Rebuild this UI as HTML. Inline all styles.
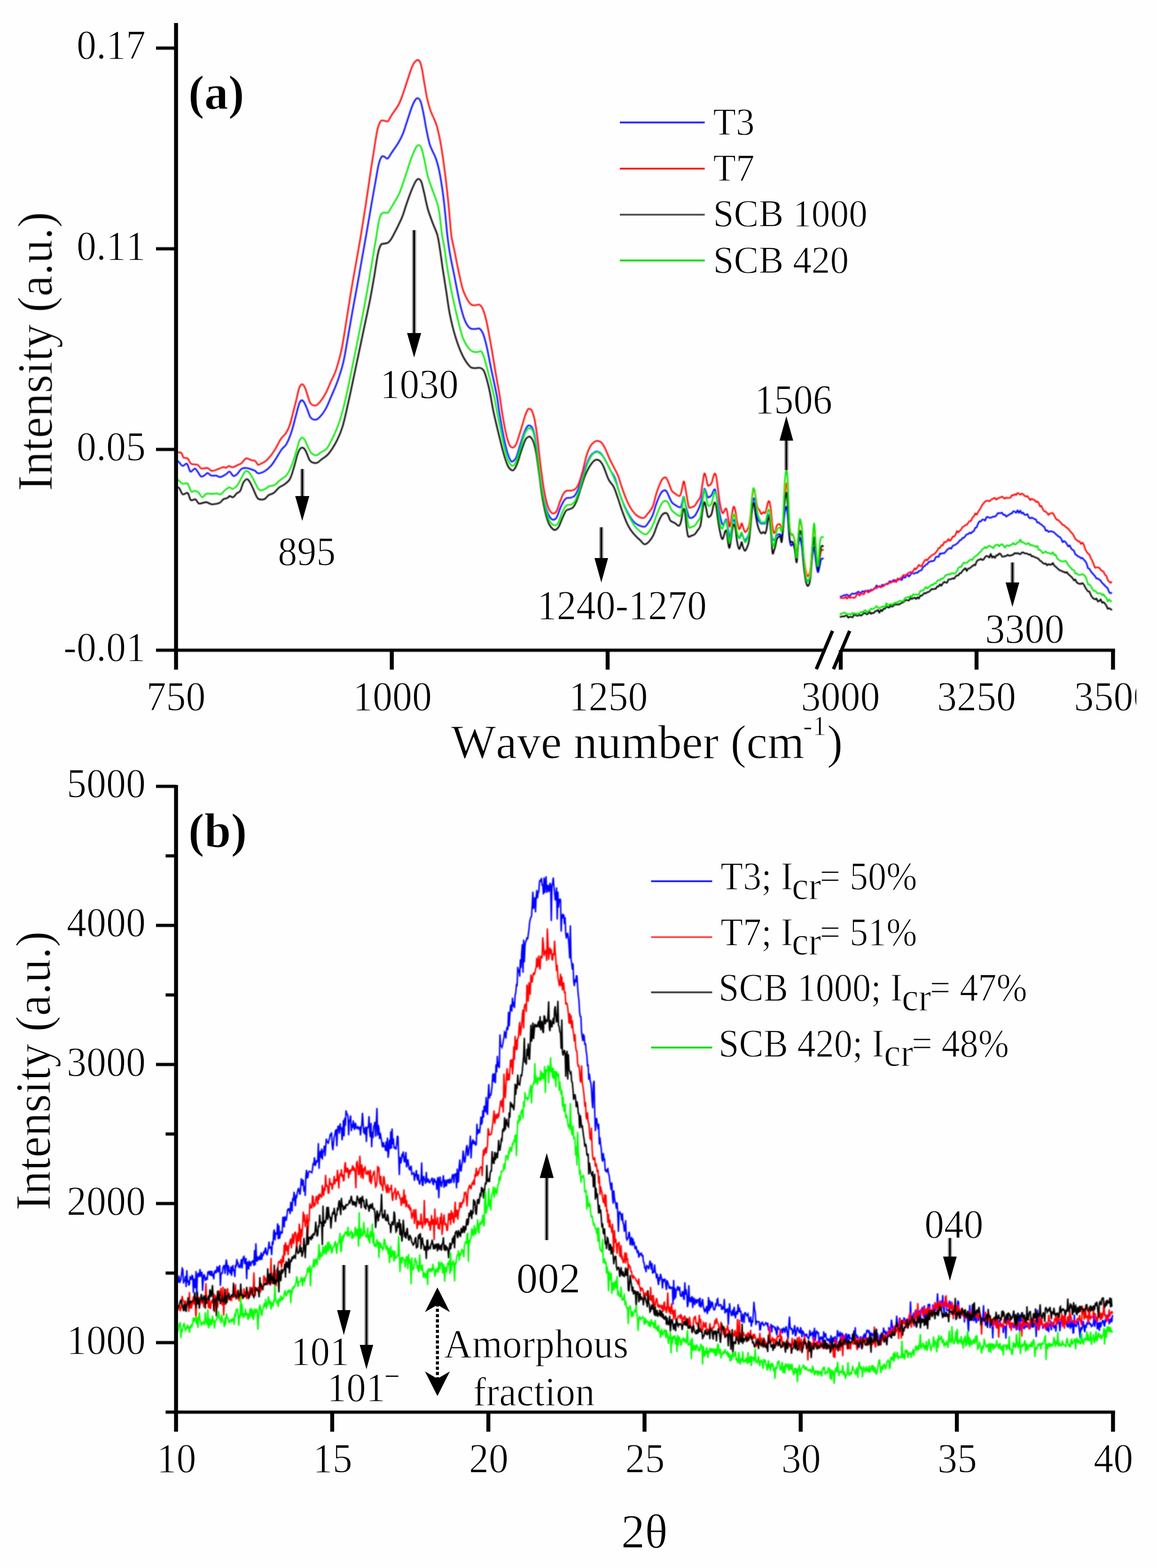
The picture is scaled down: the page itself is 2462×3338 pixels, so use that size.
<!DOCTYPE html>
<html lang="en"><head><meta charset="utf-8"><title>FTIR and XRD of sugarcane bagasse samples</title>
<style>html,body{margin:0;padding:0;background:#fefefe}body{width:2462px;height:3338px;overflow:hidden}svg{display:block}</style>
</head><body>
<svg width="2462" height="3338" viewBox="0 0 2462 3338" role="img" aria-label="FTIR spectra (a) and XRD patterns (b) of T3, T7, SCB 1000 and SCB 420">
<rect width="2462" height="3338" fill="#fefefe"/>
<g fill="none" stroke-width="3.3" stroke-linejoin="round" stroke-linecap="butt" filter="url(#bl)">
<path d="M374.5,978.2C375.6,979.3 378.8,982.0 381.2,984.3C383.6,986.6 386.0,991.4 388.8,991.9C391.5,992.4 395.1,985.3 397.8,987.3C400.6,989.3 402.6,1002.3 405.4,1004.0C408.2,1005.6 412.0,997.3 414.5,997.3C417.0,997.3 418.3,1001.1 420.5,1004.0C422.8,1006.8 425.6,1013.3 428.1,1014.6C430.6,1015.8 433.4,1012.8 435.7,1011.5C437.9,1010.3 439.4,1006.8 441.7,1007.0C444.0,1007.1 446.3,1011.5 449.3,1012.4C452.3,1013.4 456.6,1011.9 459.9,1012.4C463.2,1012.9 465.4,1016.0 469.0,1015.5C472.5,1015.0 477.8,1011.3 481.1,1009.4C484.3,1007.5 486.1,1003.4 488.6,1004.0C491.2,1004.6 493.7,1012.0 496.2,1013.1C498.7,1014.1 500.7,1012.5 503.8,1010.0C506.8,1007.5 510.8,1000.2 514.4,997.9C517.9,995.6 521.4,996.2 525.0,996.4C528.5,996.7 532.5,998.4 535.5,999.4C538.6,1000.4 540.8,1001.1 543.1,1002.5C545.4,1003.8 545.9,1007.5 549.2,1007.6C552.4,1007.8 558.2,1006.0 562.8,1003.4C567.3,1000.7 572.4,996.3 576.4,991.9C580.4,987.4 583.2,982.5 587.0,976.7C590.8,970.9 595.3,962.4 599.1,957.1C602.9,951.8 606.2,951.3 609.7,945.0C613.2,938.6 617.0,929.1 620.3,919.2C623.6,909.4 626.6,896.0 629.4,885.9C632.1,875.8 634.8,864.3 636.9,858.7C639.1,853.0 640.3,852.3 642.1,852.0C643.8,851.8 645.6,854.1 647.5,857.2C649.4,860.3 651.3,865.5 653.6,870.8C655.9,876.1 658.1,885.2 661.2,889.0C664.2,892.7 668.5,893.8 671.7,893.5C675.0,893.2 677.3,891.2 680.8,887.4C684.4,883.7 688.9,878.1 692.9,870.8C697.0,863.5 700.8,853.4 705.0,843.6C709.2,833.7 714.0,823.6 718.2,811.7C722.4,799.9 726.7,787.0 730.3,772.4C733.8,757.8 736.1,742.1 739.3,724.0C742.6,705.8 746.4,683.1 749.9,663.4C753.5,643.8 757.3,624.1 760.5,605.9C763.8,587.8 766.5,572.1 769.6,554.5C772.7,536.8 775.8,520.3 779.3,500.0C782.8,479.7 787.4,452.7 790.8,432.9C794.2,413.2 797.4,395.3 799.9,381.5C802.4,367.6 803.9,357.7 805.9,349.7C807.9,341.7 810.0,336.3 812.0,333.7C814.0,331.0 815.9,333.0 818.0,333.7C820.2,334.3 822.2,339.0 824.7,337.6C827.2,336.2 829.2,331.3 833.2,325.5C837.1,319.7 844.3,309.6 848.3,302.8C852.3,296.0 854.4,292.2 857.4,284.6C860.4,277.1 863.4,266.5 866.5,257.4C869.5,248.3 872.8,237.5 875.5,230.1C878.3,222.8 880.8,217.0 883.1,213.5C885.4,210.0 887.1,208.5 889.2,209.0C891.2,209.5 893.2,211.0 895.2,216.5C897.2,222.1 899.3,232.4 901.3,242.3C903.3,252.1 905.1,264.4 907.3,275.5C909.6,286.6 911.6,298.7 914.9,308.8C918.2,318.9 923.7,327.0 927.0,336.1C930.3,345.2 932.0,351.2 934.6,363.3C937.1,375.4 940.1,394.6 942.1,408.7C944.1,422.8 945.1,432.8 946.7,448.1C948.3,463.3 950.1,484.9 951.8,500.1C953.6,515.3 954.8,525.2 957.3,539.3C959.7,553.5 962.8,567.1 966.3,584.7C969.9,602.4 974.7,629.1 978.5,645.3C982.2,661.4 985.5,672.8 989.0,681.6C992.6,690.4 995.9,695.1 999.6,698.2C1003.4,701.4 1008.2,700.1 1011.7,700.4C1015.3,700.6 1018.0,697.8 1020.8,699.8C1023.6,701.7 1025.9,705.3 1028.4,711.9C1030.9,718.4 1033.2,727.0 1036.0,739.1C1038.7,751.2 1041.5,767.4 1045.0,784.5C1048.6,801.7 1054.3,826.8 1057.1,842.0C1060.0,857.2 1059.7,861.5 1062.0,875.7C1064.4,889.9 1068.4,913.0 1071.1,927.1C1073.9,941.2 1076.2,951.6 1078.7,960.4C1081.2,969.2 1084.2,976.5 1086.3,980.1C1088.3,983.7 1088.8,983.2 1090.8,982.2C1092.8,981.2 1095.6,980.2 1098.4,974.0C1101.1,967.9 1104.4,954.6 1107.4,945.3C1110.5,935.9 1114.0,924.3 1116.5,918.0C1119.0,911.7 1120.8,909.5 1122.6,907.4C1124.3,905.4 1125.4,905.2 1127.1,905.9C1128.9,906.7 1131.2,907.4 1133.2,912.0C1135.2,916.5 1137.2,922.6 1139.2,933.2C1141.2,943.8 1143.3,960.4 1145.3,975.5C1147.3,990.7 1149.3,1009.8 1151.3,1024.0C1153.3,1038.1 1155.1,1049.2 1157.4,1060.3C1159.7,1071.4 1162.4,1083.2 1165.0,1090.6C1167.5,1097.9 1170.2,1101.6 1172.5,1104.2C1174.8,1106.8 1176.6,1106.8 1178.6,1106.3C1180.6,1105.8 1182.4,1105.3 1184.6,1101.2C1186.9,1097.0 1189.7,1087.3 1192.2,1081.5C1194.7,1075.7 1197.5,1069.9 1199.8,1066.3C1202.0,1062.8 1203.5,1061.4 1205.8,1060.3C1208.1,1059.2 1210.6,1060.4 1213.4,1059.7C1216.2,1058.9 1219.7,1058.7 1222.5,1055.8C1225.2,1052.8 1227.2,1048.9 1230.0,1042.1C1232.8,1035.3 1236.1,1024.0 1239.1,1014.9C1242.1,1005.8 1245.2,995.2 1248.2,987.7C1251.2,980.1 1254.2,973.8 1257.3,969.5C1260.3,965.2 1264.1,963.3 1266.3,961.9C1268.6,960.5 1268.9,960.5 1270.9,961.0C1272.9,961.5 1275.7,962.0 1278.5,965.0C1281.2,967.9 1284.3,972.8 1287.5,978.6C1290.8,984.4 1294.6,993.2 1298.1,999.8C1301.7,1006.3 1305.4,1009.8 1308.7,1017.9C1312.0,1026.0 1314.8,1039.1 1317.8,1048.2C1320.8,1057.3 1323.3,1064.3 1326.9,1072.4C1330.4,1080.5 1334.9,1089.8 1339.0,1096.6C1343.0,1103.4 1346.0,1109.1 1351.1,1113.3C1356.1,1117.4 1364.7,1121.2 1369.2,1121.4C1373.8,1121.7 1375.1,1118.9 1378.3,1114.8C1381.6,1110.6 1385.9,1103.7 1388.9,1096.6C1391.9,1089.5 1393.7,1080.0 1396.5,1072.4C1399.3,1064.8 1403.0,1055.9 1405.6,1051.2C1408.1,1046.6 1409.6,1045.6 1411.6,1044.6C1413.6,1043.5 1415.7,1043.0 1417.7,1045.2C1419.7,1047.3 1421.7,1053.2 1423.7,1057.3C1425.7,1061.3 1427.5,1066.3 1429.8,1069.4C1432.1,1072.4 1434.3,1073.7 1437.3,1075.4C1440.4,1077.2 1445.6,1081.0 1447.9,1080.0C1450.3,1079.0 1450.4,1073.2 1451.6,1069.4C1452.7,1065.6 1453.7,1056.8 1454.9,1057.3C1456.1,1057.8 1457.2,1066.8 1458.5,1072.4C1459.9,1077.9 1461.8,1085.8 1463.1,1090.6C1464.3,1095.3 1464.8,1099.1 1466.1,1101.2C1467.4,1103.2 1468.9,1103.0 1470.9,1102.6C1472.9,1102.1 1475.8,1100.9 1478.1,1098.5C1480.3,1096.1 1482.2,1092.3 1484.2,1088.2C1486.3,1084.1 1488.7,1079.3 1490.4,1073.8C1492.1,1068.3 1493.3,1060.4 1494.5,1055.3C1495.7,1050.1 1496.8,1045.3 1497.6,1042.9C1498.5,1040.5 1498.9,1040.2 1499.7,1040.8C1500.5,1041.5 1501.3,1044.1 1502.4,1047.0C1503.4,1049.9 1504.8,1056.5 1505.9,1058.3C1507.0,1060.2 1507.6,1059.0 1508.9,1058.3C1510.3,1057.7 1512.5,1056.5 1514.1,1054.2C1515.6,1052.0 1517.0,1047.0 1518.2,1045.0C1519.4,1042.9 1520.3,1040.8 1521.3,1041.9C1522.3,1042.9 1523.4,1046.9 1524.4,1051.1C1525.4,1055.4 1526.3,1060.4 1527.5,1067.6C1528.7,1074.8 1530.2,1086.8 1531.6,1094.4C1533.0,1101.9 1534.5,1109.1 1535.7,1112.9C1536.9,1116.7 1537.6,1117.7 1538.8,1117.0C1540.0,1116.3 1541.7,1110.5 1542.9,1108.8C1544.1,1107.1 1545.0,1104.0 1546.0,1106.7C1547.0,1109.5 1548.1,1118.7 1549.1,1125.2C1550.1,1131.7 1551.1,1144.8 1552.2,1145.8C1553.2,1146.8 1554.1,1137.2 1555.3,1131.4C1556.5,1125.6 1558.2,1114.9 1559.4,1110.8C1560.5,1106.7 1561.1,1106.0 1562.0,1106.7C1563.0,1107.4 1563.8,1110.1 1564.9,1114.9C1566.0,1119.7 1567.3,1130.4 1568.6,1135.5C1569.9,1140.7 1571.5,1144.8 1572.7,1145.8C1573.9,1146.8 1574.9,1143.4 1575.8,1141.7C1576.8,1140.0 1577.4,1135.5 1578.3,1135.5C1579.2,1135.5 1579.8,1139.3 1581.0,1141.7C1582.1,1144.1 1583.7,1149.2 1585.1,1149.9C1586.5,1150.6 1587.8,1148.2 1589.2,1145.8C1590.6,1143.4 1592.1,1141.0 1593.3,1135.5C1594.5,1130.0 1595.4,1121.5 1596.4,1112.9C1597.4,1104.3 1598.5,1092.3 1599.5,1084.1C1600.5,1075.8 1601.6,1067.3 1602.6,1063.5C1603.6,1059.7 1604.4,1059.7 1605.3,1061.4C1606.1,1063.1 1606.6,1066.9 1607.7,1073.8C1608.8,1080.6 1610.5,1096.4 1611.9,1102.6C1613.2,1108.8 1614.6,1108.8 1616.0,1110.8C1617.3,1112.9 1618.7,1114.4 1620.1,1114.9C1621.5,1115.5 1622.8,1113.9 1624.2,1113.9C1625.6,1113.9 1627.1,1116.1 1628.3,1114.9C1629.5,1113.7 1630.4,1109.8 1631.4,1106.7C1632.4,1103.6 1633.5,1097.4 1634.5,1096.4C1635.5,1095.4 1636.6,1095.7 1637.6,1100.5C1638.6,1105.3 1639.6,1117.7 1640.7,1125.2C1641.7,1132.8 1642.7,1141.7 1643.8,1145.8C1644.8,1149.9 1645.8,1149.9 1646.8,1149.9C1647.9,1149.9 1648.9,1147.5 1649.9,1145.8C1651.0,1144.1 1652.0,1141.0 1653.0,1139.6C1654.0,1138.3 1654.9,1137.9 1656.1,1137.6C1657.3,1137.2 1659.0,1136.6 1660.2,1137.6C1661.4,1138.6 1662.3,1145.8 1663.3,1143.8C1664.3,1141.7 1665.4,1133.5 1666.4,1125.2C1667.4,1117.0 1668.5,1101.9 1669.5,1094.4C1670.5,1086.8 1671.7,1082.0 1672.6,1080.0C1673.4,1077.9 1673.9,1077.9 1674.6,1082.0C1675.3,1086.1 1675.8,1094.0 1676.7,1104.6C1677.5,1115.3 1678.7,1136.4 1679.8,1145.8C1680.8,1155.2 1681.7,1159.2 1682.9,1161.2C1684.1,1163.3 1685.6,1157.3 1687.0,1158.2C1688.3,1159.0 1689.7,1160.6 1691.1,1166.4C1692.5,1172.2 1694.0,1193.8 1695.2,1193.1C1696.4,1192.5 1697.3,1170.2 1698.3,1162.3C1699.3,1154.4 1700.5,1148.2 1701.4,1145.8C1702.2,1143.4 1702.6,1144.4 1703.4,1147.9C1704.3,1151.3 1705.5,1158.2 1706.5,1166.4C1707.6,1174.6 1708.4,1187.7 1709.6,1197.3C1710.8,1206.9 1712.5,1217.8 1713.7,1224.0C1714.9,1230.2 1715.8,1232.3 1716.8,1234.3C1717.8,1236.4 1718.7,1238.1 1719.9,1236.4C1721.1,1234.7 1722.6,1232.3 1724.0,1224.0C1725.4,1215.8 1726.9,1196.6 1728.1,1187.0C1729.3,1177.4 1730.4,1169.1 1731.2,1166.4C1732.1,1163.6 1732.4,1165.4 1733.3,1170.5C1734.1,1175.7 1735.3,1189.7 1736.4,1197.3C1737.4,1204.8 1738.6,1212.5 1739.5,1215.8C1740.3,1219.0 1740.7,1218.9 1741.5,1216.8C1742.4,1214.8 1743.6,1207.9 1744.6,1203.4C1745.6,1199.0 1746.3,1192.4 1747.7,1190.1C1749.1,1187.7 1752.0,1189.5 1752.8,1189.4" stroke="#0000ff"/>
<path d="M374.5,963.1C376.4,963.3 383.1,962.3 385.7,964.0C388.3,965.8 388.0,971.7 390.3,973.7C392.5,975.7 396.6,973.9 399.3,976.1C402.1,978.4 403.4,985.1 406.9,987.3C410.4,989.5 417.0,987.8 420.5,989.4C424.1,991.1 424.6,996.2 428.1,997.3C431.6,998.5 437.9,995.5 441.7,996.4C445.5,997.3 446.8,1002.2 450.8,1002.5C454.8,1002.7 461.9,999.3 465.9,997.9C470.0,996.6 472.5,994.6 475.0,994.3C477.5,993.9 479.0,996.2 481.1,995.8C483.1,995.4 484.8,992.0 487.1,991.9C489.4,991.7 491.2,995.4 494.7,994.9C498.2,994.4 505.0,990.4 508.3,988.8C511.6,987.3 512.1,987.8 514.4,985.8C516.6,983.8 519.9,978.3 521.9,976.7C523.9,975.1 524.2,975.6 526.5,976.1C528.7,976.6 532.8,978.9 535.5,979.8C538.3,980.6 540.8,979.7 543.1,981.3C545.4,982.9 546.9,988.6 549.2,989.4C551.4,990.3 554.0,987.8 556.7,986.4C559.5,985.1 562.3,984.4 565.8,981.3C569.3,978.1 574.4,972.2 577.9,967.7C581.4,963.1 583.7,959.6 587.0,954.0C590.3,948.5 594.1,939.7 597.6,934.4C601.1,929.1 605.2,926.8 608.2,922.3C611.2,917.7 613.2,914.2 615.8,907.1C618.3,900.1 620.8,889.5 623.3,879.9C625.8,870.3 628.6,858.7 630.9,849.6C633.2,840.5 634.9,830.7 636.9,825.4C639.0,820.1 641.0,817.8 643.0,817.8C645.0,817.8 647.0,821.1 649.0,825.4C651.1,829.7 653.1,837.9 655.1,843.6C657.1,849.2 658.4,856.0 661.2,859.3C663.9,862.6 668.5,863.8 671.7,863.2C675.0,862.6 677.3,860.0 680.8,855.7C684.4,851.4 688.9,845.1 692.9,837.5C697.0,829.9 701.3,818.6 705.0,810.3C708.7,801.9 711.4,798.9 715.1,787.5C718.8,776.2 723.7,758.8 727.2,742.1C730.8,725.5 733.0,707.8 736.3,687.7C739.6,667.5 743.4,642.3 746.9,621.1C750.4,599.9 754.0,580.7 757.5,560.5C761.0,540.4 764.6,521.3 768.1,500.0C771.6,478.7 774.9,457.7 778.7,432.9C782.5,408.1 787.3,374.4 790.8,351.2C794.3,328.0 797.6,307.1 799.9,293.7C802.1,280.3 802.7,277.1 804.4,271.0C806.2,265.0 807.9,259.7 810.5,257.4C813.0,255.1 817.0,257.3 819.6,257.4C822.1,257.5 823.3,260.0 825.6,258.0C827.9,256.0 829.4,251.2 833.2,245.3C837.0,239.4 844.3,230.1 848.3,222.6C852.3,215.0 854.4,208.2 857.4,199.9C860.4,191.6 863.4,181.7 866.5,172.6C869.5,163.6 873.0,152.0 875.5,145.4C878.1,138.8 879.5,136.2 881.6,133.3C883.7,130.4 886.2,128.1 888.3,127.8C890.3,127.6 892.0,128.3 893.7,131.8C895.4,135.2 896.7,141.1 898.2,148.4C899.8,155.7 901.0,165.6 902.8,175.7C904.6,185.8 906.6,198.9 908.8,209.0C911.1,219.0 913.1,226.9 916.4,236.2C919.7,245.5 925.2,254.9 928.5,265.0C931.8,275.0 933.8,285.4 936.1,296.7C938.3,308.1 940.1,319.4 942.1,333.1C944.1,346.7 946.2,361.8 948.2,378.5C950.2,395.1 952.2,412.7 954.2,432.9C956.3,453.2 958.3,483.9 960.3,500.1C962.3,516.3 963.8,517.7 966.3,530.3C968.9,542.9 972.4,561.5 975.4,575.7C978.5,589.8 981.5,604.9 984.5,615.0C987.5,625.1 990.6,630.6 993.6,636.2C996.6,641.7 999.6,646.0 1002.7,648.3C1005.7,650.6 1008.7,649.7 1011.7,649.8C1014.8,649.9 1018.0,647.1 1020.8,648.9C1023.6,650.7 1025.9,654.0 1028.4,660.4C1030.9,666.9 1033.2,675.0 1036.0,687.7C1038.7,700.3 1042.0,718.9 1045.0,736.1C1048.1,753.2 1051.1,772.9 1054.1,790.6C1057.1,808.2 1060.9,827.8 1063.2,842.0C1065.5,856.2 1066.0,863.0 1068.1,875.7C1070.2,888.3 1073.1,906.4 1075.7,918.0C1078.2,929.6 1080.7,939.5 1083.2,945.3C1085.8,951.1 1088.3,952.8 1090.8,952.8C1093.3,952.8 1095.6,951.1 1098.4,945.3C1101.1,939.5 1104.4,927.6 1107.4,918.0C1110.5,908.5 1114.0,895.3 1116.5,887.8C1119.0,880.2 1120.9,875.6 1122.6,872.6C1124.2,869.7 1125.0,870.0 1126.5,870.2C1128.0,870.5 1129.8,870.2 1131.7,874.2C1133.5,878.1 1135.7,884.0 1137.7,893.8C1139.7,903.7 1141.7,917.5 1143.8,933.2C1145.8,948.8 1147.5,969.5 1149.8,987.7C1152.1,1005.8 1154.9,1027.5 1157.4,1042.1C1159.9,1056.8 1162.4,1067.4 1165.0,1075.4C1167.5,1083.5 1170.2,1087.6 1172.5,1090.6C1174.8,1093.5 1176.6,1093.5 1178.6,1093.0C1180.6,1092.5 1182.4,1092.0 1184.6,1087.5C1186.9,1083.1 1189.7,1072.6 1192.2,1066.3C1194.7,1060.0 1197.5,1053.3 1199.8,1049.7C1202.0,1046.1 1203.5,1045.4 1205.8,1044.6C1208.1,1043.7 1210.6,1045.0 1213.4,1044.6C1216.2,1044.1 1219.7,1044.0 1222.5,1042.1C1225.2,1040.2 1227.2,1039.1 1230.0,1033.1C1232.8,1027.0 1236.1,1016.4 1239.1,1005.8C1242.1,995.2 1245.2,979.1 1248.2,969.5C1251.2,959.9 1254.2,953.2 1257.3,948.3C1260.3,943.4 1263.8,941.4 1266.3,939.8C1268.9,938.2 1270.1,938.2 1272.4,938.6C1274.7,939.0 1277.4,939.6 1280.0,942.3C1282.5,944.9 1284.8,948.8 1287.5,954.4C1290.3,959.9 1293.6,969.0 1296.6,975.5C1299.6,982.1 1302.7,987.7 1305.7,993.7C1308.7,999.8 1311.7,1004.3 1314.8,1011.9C1317.8,1019.4 1320.8,1030.5 1323.8,1039.1C1326.9,1047.7 1329.9,1056.3 1332.9,1063.3C1336.0,1070.4 1338.5,1075.9 1342.0,1081.5C1345.5,1087.0 1349.6,1093.1 1354.1,1096.6C1358.7,1100.1 1365.2,1103.2 1369.2,1102.7C1373.3,1102.2 1375.1,1097.6 1378.3,1093.6C1381.6,1089.5 1385.9,1085.5 1388.9,1078.5C1391.9,1071.4 1393.7,1059.8 1396.5,1051.2C1399.3,1042.6 1403.0,1032.5 1405.6,1027.0C1408.1,1021.4 1409.6,1019.5 1411.6,1017.9C1413.6,1016.3 1415.7,1015.3 1417.7,1017.3C1419.7,1019.3 1421.7,1025.4 1423.7,1030.0C1425.7,1034.7 1427.5,1041.6 1429.8,1045.2C1432.1,1048.7 1434.6,1049.4 1437.3,1051.2C1440.1,1053.0 1444.2,1057.3 1446.4,1055.8C1448.7,1054.2 1449.6,1047.3 1451.0,1042.1C1452.4,1036.9 1453.6,1025.1 1454.9,1024.6C1456.2,1024.1 1457.2,1032.1 1458.5,1039.1C1459.9,1046.1 1461.8,1059.5 1463.1,1066.3C1464.3,1073.2 1464.8,1077.7 1466.1,1080.0C1467.4,1082.2 1468.9,1080.5 1470.9,1080.0C1472.9,1079.4 1475.8,1078.9 1478.1,1076.9C1480.3,1074.8 1482.2,1070.9 1484.2,1067.6C1486.3,1064.3 1488.7,1063.1 1490.4,1057.3C1492.1,1051.5 1493.3,1040.2 1494.5,1032.6C1495.7,1025.1 1496.8,1016.2 1497.6,1012.0C1498.5,1007.9 1498.9,1007.2 1499.7,1007.9C1500.5,1008.6 1501.3,1012.0 1502.4,1016.2C1503.4,1020.3 1504.8,1029.7 1505.9,1032.6C1507.0,1035.5 1507.6,1034.3 1508.9,1033.6C1510.3,1033.0 1512.5,1031.8 1514.1,1028.5C1515.6,1025.2 1517.0,1017.5 1518.2,1014.1C1519.4,1010.7 1520.3,1007.6 1521.3,1007.9C1522.3,1008.3 1523.4,1011.0 1524.4,1016.2C1525.4,1021.3 1526.3,1029.9 1527.5,1038.8C1528.7,1047.7 1530.2,1061.4 1531.6,1069.7C1533.0,1077.9 1534.5,1084.4 1535.7,1088.2C1536.9,1092.0 1537.6,1093.0 1538.8,1092.3C1540.0,1091.6 1541.7,1085.4 1542.9,1084.1C1544.1,1082.7 1545.0,1081.3 1546.0,1084.1C1547.0,1086.8 1548.1,1094.4 1549.1,1100.5C1550.1,1106.7 1551.1,1119.4 1552.2,1121.1C1553.2,1122.8 1554.1,1117.0 1555.3,1110.8C1556.5,1104.6 1558.2,1089.4 1559.4,1084.1C1560.5,1078.8 1561.1,1078.2 1562.0,1078.9C1563.0,1079.6 1563.8,1082.9 1564.9,1088.2C1566.0,1093.5 1567.3,1104.5 1568.6,1110.8C1569.9,1117.2 1571.5,1124.5 1572.7,1126.3C1573.9,1128.0 1574.9,1123.2 1575.8,1121.1C1576.8,1119.1 1577.4,1113.9 1578.3,1113.9C1579.2,1113.9 1579.8,1118.0 1581.0,1121.1C1582.1,1124.2 1583.7,1131.1 1585.1,1132.4C1586.5,1133.8 1587.8,1131.2 1589.2,1129.3C1590.6,1127.5 1592.1,1125.9 1593.3,1121.1C1594.5,1116.3 1595.4,1108.8 1596.4,1100.5C1597.4,1092.3 1598.5,1080.6 1599.5,1071.7C1600.5,1062.8 1601.6,1051.8 1602.6,1047.0C1603.6,1042.2 1604.4,1041.5 1605.3,1042.9C1606.1,1044.3 1606.6,1049.1 1607.7,1055.3C1608.8,1061.4 1610.5,1074.8 1611.9,1080.0C1613.2,1085.1 1614.6,1083.7 1616.0,1086.1C1617.3,1088.5 1618.7,1093.7 1620.1,1094.4C1621.5,1095.0 1622.8,1090.6 1624.2,1090.2C1625.6,1089.9 1627.1,1093.7 1628.3,1092.3C1629.5,1090.9 1630.4,1086.0 1631.4,1082.0C1632.4,1078.1 1633.5,1070.9 1634.5,1068.6C1635.5,1066.4 1636.6,1065.4 1637.6,1068.6C1638.6,1071.9 1639.6,1079.4 1640.7,1088.2C1641.7,1096.9 1642.7,1113.4 1643.8,1121.1C1644.8,1128.8 1645.8,1132.8 1646.8,1134.5C1647.9,1136.2 1648.9,1134.0 1649.9,1131.4C1651.0,1128.8 1652.0,1121.6 1653.0,1119.1C1654.0,1116.5 1654.9,1116.3 1656.1,1116.0C1657.3,1115.6 1659.0,1115.8 1660.2,1117.0C1661.4,1118.2 1662.3,1123.9 1663.3,1123.2C1664.3,1122.5 1665.4,1122.8 1666.4,1112.9C1667.4,1102.9 1668.5,1076.9 1669.5,1063.5C1670.5,1050.1 1671.7,1038.1 1672.6,1032.6C1673.4,1027.1 1673.9,1026.8 1674.6,1030.6C1675.3,1034.3 1675.8,1041.2 1676.7,1055.3C1677.5,1069.3 1678.7,1101.2 1679.8,1114.9C1680.8,1128.7 1681.7,1133.5 1682.9,1137.6C1684.1,1141.7 1685.6,1137.6 1687.0,1139.6C1688.3,1141.7 1689.7,1142.7 1691.1,1149.9C1692.5,1157.1 1694.0,1183.5 1695.2,1182.9C1696.4,1182.2 1697.3,1157.1 1698.3,1145.8C1699.3,1134.5 1700.5,1120.4 1701.4,1114.9C1702.2,1109.5 1702.6,1111.2 1703.4,1112.9C1704.3,1114.6 1705.5,1114.6 1706.5,1125.2C1707.6,1135.9 1708.4,1163.0 1709.6,1176.7C1710.8,1190.4 1712.5,1199.7 1713.7,1207.6C1714.9,1215.4 1715.8,1220.9 1716.8,1224.0C1717.8,1227.1 1718.7,1227.8 1719.9,1226.1C1721.1,1224.4 1722.6,1223.7 1724.0,1213.7C1725.4,1203.8 1726.9,1180.5 1728.1,1166.4C1729.3,1152.3 1730.4,1136.2 1731.2,1129.3C1732.1,1122.5 1732.4,1119.1 1733.3,1125.2C1734.1,1131.4 1735.3,1153.4 1736.4,1166.4C1737.4,1179.4 1738.6,1196.9 1739.5,1203.4C1740.3,1210.0 1740.7,1208.2 1741.5,1205.5C1742.4,1202.8 1743.6,1192.6 1744.6,1187.0C1745.6,1181.3 1746.3,1174.2 1747.7,1171.5C1749.1,1168.9 1752.0,1171.0 1752.8,1170.9" stroke="#ff0000"/>
<path d="M374.5,1037.3C375.6,1037.5 378.8,1036.3 381.2,1038.8C383.6,1041.3 385.7,1050.6 388.8,1052.4C391.8,1054.2 396.5,1047.4 399.3,1049.4C402.2,1051.4 403.2,1062.2 406.0,1064.5C408.8,1066.8 413.1,1061.7 416.0,1063.0C418.9,1064.3 419.8,1071.1 423.6,1072.1C427.3,1073.1 434.2,1068.8 438.7,1069.0C443.2,1069.3 446.0,1073.3 450.8,1073.6C455.6,1073.8 463.4,1072.3 467.4,1070.6C471.5,1068.8 472.2,1064.8 475.0,1063.0C477.8,1061.2 481.8,1061.1 484.1,1060.0C486.4,1058.8 486.6,1056.3 488.6,1056.0C490.6,1055.8 493.7,1059.4 496.2,1058.5C498.7,1057.5 501.2,1052.5 503.8,1050.3C506.3,1048.0 509.1,1048.5 511.3,1044.8C513.6,1041.1 515.1,1032.3 517.4,1028.2C519.7,1024.0 522.7,1020.5 525.0,1020.0C527.2,1019.5 528.7,1021.8 531.0,1025.2C533.3,1028.5 535.8,1034.5 538.6,1040.3C541.3,1046.1 544.6,1056.1 547.7,1060.0C550.7,1063.8 554.0,1063.3 556.7,1063.6C559.5,1063.8 561.8,1063.1 564.3,1061.5C566.8,1059.9 568.8,1055.9 571.9,1053.9C574.9,1051.9 578.7,1052.1 582.5,1049.4C586.2,1046.6 590.8,1040.3 594.6,1037.3C598.3,1034.2 601.4,1034.2 605.2,1031.2C608.9,1028.2 613.7,1025.7 617.3,1019.1C620.8,1012.5 623.8,1000.2 626.3,991.9C628.9,983.5 630.4,975.2 632.4,969.2C634.4,963.1 636.4,958.2 638.5,955.5C640.5,952.9 642.5,952.4 644.5,953.1C646.5,953.9 648.3,955.9 650.6,960.1C652.8,964.3 655.9,974.2 658.1,978.2C660.4,982.3 661.4,983.1 664.2,984.3C667.0,985.5 671.5,986.2 674.8,985.2C678.0,984.2 679.8,981.4 683.8,978.2C687.9,975.1 693.4,972.9 699.0,966.1C704.5,959.3 712.1,947.2 717.1,937.4C722.2,927.5 725.2,920.7 729.2,907.1C733.3,893.5 737.7,872.1 741.4,855.7C745.1,839.3 747.8,826.1 751.5,808.7C755.2,791.3 759.5,770.4 763.6,751.2C767.6,732.0 771.6,712.9 775.7,693.7C779.7,674.5 784.2,654.4 787.8,636.2C791.3,618.0 794.1,600.9 796.9,584.7C799.6,568.6 802.1,549.9 804.4,539.3C806.7,528.8 808.5,524.6 810.5,521.2C812.5,517.8 814.0,519.5 816.5,518.8C819.0,518.0 822.8,518.5 825.6,516.6C828.4,514.8 829.9,512.9 833.2,507.6C836.5,502.2 841.5,492.0 845.3,484.4C849.1,476.7 852.6,470.0 855.9,461.7C859.2,453.4 861.7,443.8 865.0,434.4C868.2,425.1 872.3,413.8 875.5,405.7C878.8,397.6 882.1,390.2 884.6,386.0C887.1,381.9 888.7,380.6 890.7,380.9C892.7,381.1 894.7,382.4 896.7,387.5C898.7,392.7 900.5,402.2 902.8,411.7C905.1,421.3 907.3,434.4 910.4,445.0C913.4,455.6 917.6,466.1 920.9,475.3C924.3,484.5 928.1,491.0 930.6,500.1C933.2,509.3 934.2,518.2 936.1,530.3C938.0,542.4 939.9,557.5 942.1,572.6C944.4,587.8 947.2,604.9 949.7,621.1C952.2,637.2 954.0,653.3 957.3,669.5C960.5,685.6 964.8,703.3 969.4,717.9C973.9,732.5 979.5,746.9 984.5,757.3C989.5,767.6 995.6,775.6 999.6,780.0C1003.7,784.4 1005.2,783.1 1008.7,783.6C1012.2,784.1 1017.5,782.3 1020.8,783.0C1024.1,783.6 1026.1,784.3 1028.4,787.5C1030.7,790.8 1032.2,795.1 1034.4,802.7C1036.7,810.2 1039.4,820.8 1042.0,832.9C1044.6,845.1 1046.9,861.0 1049.9,875.7C1053.0,890.4 1057.0,906.4 1060.5,921.1C1064.1,935.7 1067.8,951.8 1071.1,963.4C1074.4,975.0 1077.4,984.5 1080.2,990.7C1083.0,996.8 1085.5,998.8 1087.8,1000.4C1090.0,1001.9 1091.6,1002.4 1093.8,999.8C1096.1,997.1 1098.9,991.2 1101.4,984.6C1103.9,978.1 1106.2,968.5 1109.0,960.4C1111.7,952.3 1115.5,941.2 1118.0,936.2C1120.6,931.2 1122.3,931.2 1124.1,930.1C1125.9,929.1 1126.9,928.6 1128.6,930.1C1130.4,931.7 1132.7,933.7 1134.7,939.2C1136.7,944.8 1138.7,952.3 1140.7,963.4C1142.8,974.5 1144.8,991.2 1146.8,1005.8C1148.8,1020.4 1150.6,1037.1 1152.8,1051.2C1155.1,1065.3 1157.9,1080.0 1160.4,1090.6C1162.9,1101.2 1165.2,1108.7 1168.0,1114.8C1170.8,1120.8 1174.5,1124.8 1177.1,1126.9C1179.6,1129.0 1181.1,1128.5 1183.1,1127.5C1185.1,1126.5 1186.9,1125.0 1189.2,1120.8C1191.4,1116.7 1194.2,1108.2 1196.7,1102.7C1199.3,1097.1 1201.8,1090.7 1204.3,1087.5C1206.8,1084.4 1209.3,1085.2 1211.9,1083.9C1214.4,1082.6 1216.9,1082.9 1219.4,1080.0C1222.0,1077.0 1224.2,1073.2 1227.0,1066.3C1229.8,1059.5 1233.1,1048.2 1236.1,1039.1C1239.1,1030.0 1242.1,1019.4 1245.2,1011.9C1248.2,1004.3 1251.2,998.7 1254.2,993.7C1257.3,988.7 1260.8,984.1 1263.3,981.6C1265.8,979.1 1267.1,978.6 1269.4,978.6C1271.6,978.6 1274.4,979.1 1276.9,981.6C1279.5,984.1 1281.5,987.1 1284.5,993.7C1287.5,1000.3 1291.6,1013.9 1295.1,1020.9C1298.6,1028.0 1302.4,1029.5 1305.7,1036.1C1309.0,1042.6 1311.7,1051.7 1314.8,1060.3C1317.8,1068.9 1320.3,1077.9 1323.8,1087.5C1327.4,1097.1 1331.9,1109.7 1336.0,1117.8C1340.0,1125.9 1343.5,1130.4 1348.1,1136.0C1352.6,1141.5 1359.3,1147.3 1363.2,1151.1C1367.1,1154.9 1368.6,1158.4 1371.7,1158.7C1374.7,1158.9 1378.2,1155.9 1381.4,1152.6C1384.5,1149.3 1387.4,1145.3 1390.4,1139.0C1393.5,1132.7 1396.5,1121.8 1399.5,1114.8C1402.5,1107.7 1405.6,1100.4 1408.6,1096.6C1411.6,1092.8 1415.4,1091.8 1417.7,1092.1C1419.9,1092.3 1420.7,1095.3 1422.2,1098.1C1423.7,1100.9 1424.5,1106.2 1426.8,1108.7C1429.0,1111.2 1432.8,1111.5 1435.8,1113.3C1438.9,1115.0 1442.6,1120.1 1444.9,1119.3C1447.2,1118.6 1448.2,1113.5 1449.5,1108.7C1450.7,1103.9 1451.6,1094.8 1452.5,1090.6C1453.4,1086.3 1454.0,1083.0 1454.9,1083.0C1455.8,1083.0 1456.5,1083.2 1457.6,1090.6C1458.7,1097.9 1460.4,1118.3 1461.6,1126.9C1462.7,1135.5 1463.0,1139.7 1464.6,1142.0C1466.1,1144.3 1468.6,1141.4 1470.9,1140.7C1473.1,1139.9 1475.8,1139.5 1478.1,1137.6C1480.3,1135.7 1482.2,1132.4 1484.2,1129.3C1486.3,1126.3 1488.7,1125.6 1490.4,1119.1C1492.1,1112.5 1493.3,1098.1 1494.5,1090.2C1495.7,1082.4 1496.8,1075.1 1497.6,1071.7C1498.5,1068.3 1498.9,1068.3 1499.7,1069.7C1500.5,1071.0 1501.3,1075.1 1502.4,1080.0C1503.4,1084.8 1504.8,1095.0 1505.9,1098.5C1507.0,1101.9 1507.6,1101.2 1508.9,1100.5C1510.3,1099.8 1512.5,1098.5 1514.1,1094.4C1515.6,1090.2 1517.0,1080.0 1518.2,1075.8C1519.4,1071.7 1520.3,1069.0 1521.3,1069.7C1522.3,1070.3 1523.4,1074.1 1524.4,1080.0C1525.4,1085.8 1526.3,1096.4 1527.5,1104.6C1528.7,1112.9 1530.2,1122.5 1531.6,1129.3C1533.0,1136.2 1534.5,1143.1 1535.7,1145.8C1536.9,1148.6 1537.6,1148.2 1538.8,1145.8C1540.0,1143.4 1541.7,1133.8 1542.9,1131.4C1544.1,1129.0 1545.0,1127.6 1546.0,1131.4C1547.0,1135.2 1548.1,1148.2 1549.1,1154.0C1550.1,1159.9 1551.1,1167.1 1552.2,1166.4C1553.2,1165.7 1554.1,1157.5 1555.3,1149.9C1556.5,1142.4 1558.2,1126.6 1559.4,1121.1C1560.5,1115.6 1561.1,1116.3 1562.0,1117.0C1563.0,1117.7 1563.8,1119.1 1564.9,1125.2C1566.0,1131.4 1567.3,1146.8 1568.6,1154.0C1569.9,1161.2 1571.5,1167.1 1572.7,1168.5C1573.9,1169.8 1574.9,1164.7 1575.8,1162.3C1576.8,1159.9 1577.4,1153.7 1578.3,1154.0C1579.2,1154.4 1579.8,1161.2 1581.0,1164.3C1582.1,1167.4 1583.7,1172.2 1585.1,1172.6C1586.5,1172.9 1587.8,1169.5 1589.2,1166.4C1590.6,1163.3 1592.1,1160.2 1593.3,1154.0C1594.5,1147.9 1595.4,1139.3 1596.4,1129.3C1597.4,1119.4 1598.5,1104.0 1599.5,1094.4C1600.5,1084.8 1601.6,1074.8 1602.6,1071.7C1603.6,1068.6 1604.4,1072.1 1605.3,1075.8C1606.1,1079.6 1606.6,1087.5 1607.7,1094.4C1608.8,1101.2 1610.5,1111.2 1611.9,1117.0C1613.2,1122.8 1614.6,1126.3 1616.0,1129.3C1617.3,1132.4 1618.7,1135.0 1620.1,1135.5C1621.5,1136.0 1622.8,1132.4 1624.2,1132.4C1625.6,1132.4 1627.1,1136.7 1628.3,1135.5C1629.5,1134.3 1630.4,1130.4 1631.4,1125.2C1632.4,1120.1 1633.5,1108.1 1634.5,1104.6C1635.5,1101.2 1636.6,1099.5 1637.6,1104.6C1638.6,1109.8 1639.6,1123.5 1640.7,1135.5C1641.7,1147.5 1642.7,1170.5 1643.8,1176.7C1644.8,1182.9 1645.8,1175.0 1646.8,1172.6C1647.9,1170.2 1648.9,1166.4 1649.9,1162.3C1651.0,1158.2 1652.0,1151.0 1653.0,1147.9C1654.0,1144.8 1654.9,1144.8 1656.1,1143.8C1657.3,1142.7 1659.0,1140.0 1660.2,1141.7C1661.4,1143.4 1662.3,1156.8 1663.3,1154.0C1664.3,1151.3 1665.4,1138.6 1666.4,1125.2C1667.4,1111.9 1668.5,1086.1 1669.5,1073.8C1670.5,1061.4 1671.7,1054.6 1672.6,1051.1C1673.4,1047.7 1673.9,1047.7 1674.6,1053.2C1675.3,1058.7 1675.8,1069.3 1676.7,1084.1C1677.5,1098.8 1678.7,1130.0 1679.8,1141.7C1680.8,1153.4 1681.7,1152.0 1682.9,1154.0C1684.1,1156.1 1685.6,1151.3 1687.0,1154.0C1688.3,1156.8 1689.7,1163.3 1691.1,1170.5C1692.5,1177.7 1694.0,1198.6 1695.2,1197.3C1696.4,1195.9 1697.3,1172.9 1698.3,1162.3C1699.3,1151.6 1700.5,1138.6 1701.4,1133.5C1702.2,1128.3 1702.6,1129.3 1703.4,1131.4C1704.3,1133.5 1705.5,1134.8 1706.5,1145.8C1707.6,1156.8 1708.4,1182.9 1709.6,1197.3C1710.8,1211.7 1712.5,1224.4 1713.7,1232.3C1714.9,1240.1 1715.8,1242.2 1716.8,1244.6C1717.8,1247.0 1718.7,1248.4 1719.9,1246.7C1721.1,1244.9 1722.6,1244.3 1724.0,1234.3C1725.4,1224.4 1726.9,1201.0 1728.1,1187.0C1729.3,1172.9 1730.4,1156.4 1731.2,1149.9C1732.1,1143.4 1732.4,1141.7 1733.3,1147.9C1734.1,1154.0 1735.3,1176.7 1736.4,1187.0C1737.4,1197.3 1738.6,1205.8 1739.5,1209.6C1740.3,1213.4 1740.7,1214.1 1741.5,1209.6C1742.4,1205.2 1743.6,1190.6 1744.6,1182.9C1745.6,1175.1 1746.3,1166.6 1747.7,1163.3C1749.1,1160.0 1752.0,1163.3 1752.8,1163.3" stroke="#000000"/>
<path d="M374.5,1017.6C375.6,1018.6 378.8,1021.6 381.2,1023.6C383.6,1025.7 385.7,1028.7 388.8,1029.7C391.8,1030.7 396.3,1026.9 399.3,1029.7C402.4,1032.5 404.4,1043.8 406.9,1046.3C409.4,1048.9 412.0,1044.6 414.5,1044.8C417.0,1045.1 419.4,1045.6 422.0,1047.9C424.7,1050.1 427.3,1057.9 430.2,1058.5C433.1,1059.0 435.9,1052.0 439.3,1050.9C442.7,1049.7 447.1,1051.6 450.8,1051.5C454.5,1051.4 458.3,1050.1 461.4,1050.3C464.5,1050.4 466.5,1053.7 469.6,1052.4C472.6,1051.1 476.4,1045.2 479.6,1042.7C482.7,1040.2 486.1,1037.6 488.6,1037.3C491.2,1037.0 491.9,1041.7 494.7,1040.9C497.5,1040.1 502.0,1036.9 505.3,1032.7C508.6,1028.6 511.8,1020.6 514.4,1016.1C516.9,1011.5 518.6,1007.8 520.4,1005.5C522.2,1003.2 523.2,1002.2 525.0,1002.5C526.7,1002.7 528.7,1004.2 531.0,1007.0C533.3,1009.8 535.8,1014.1 538.6,1019.1C541.3,1024.1 545.1,1033.1 547.7,1037.3C550.2,1041.4 550.9,1043.3 553.7,1043.9C556.5,1044.5 561.0,1042.4 564.3,1040.9C567.6,1039.4 570.1,1036.2 573.4,1034.8C576.7,1033.5 580.2,1034.8 584.0,1032.7C587.8,1030.6 591.8,1025.7 596.1,1022.1C600.4,1018.6 605.7,1016.6 609.7,1011.5C613.7,1006.5 617.0,999.7 620.3,991.9C623.6,984.0 626.6,973.5 629.4,964.6C632.1,955.8 634.7,944.4 636.9,938.9C639.2,933.3 641.0,931.6 643.0,931.3C645.0,931.1 647.0,934.1 649.0,937.4C651.1,940.7 652.8,946.5 655.1,951.0C657.4,955.5 659.6,961.6 662.7,964.6C665.7,967.7 670.0,969.4 673.3,969.2C676.5,968.9 678.6,965.6 682.3,963.1C686.1,960.6 691.2,960.3 696.0,954.0C700.7,947.7 706.5,935.1 711.1,925.3C715.6,915.4 719.2,907.6 723.2,895.0C727.2,882.4 731.1,867.5 735.3,849.6C739.5,831.7 744.2,808.0 748.4,787.5C752.6,767.1 756.5,747.2 760.5,727.0C764.6,706.8 768.6,687.7 772.6,666.5C776.7,645.3 781.2,620.1 784.7,599.9C788.3,579.7 791.1,562.0 793.8,545.4C796.6,528.8 799.4,512.2 801.4,500.0C803.4,487.8 804.4,479.4 805.9,472.3C807.4,465.1 808.7,460.4 810.5,457.1C812.2,453.9 814.0,453.4 816.5,452.6C819.0,451.8 822.8,454.6 825.6,452.6C828.4,450.6 829.4,446.8 833.2,440.5C837.0,434.2 844.3,423.1 848.3,414.8C852.3,406.4 854.4,399.1 857.4,390.6C860.4,382.0 863.4,372.4 866.5,363.3C869.5,354.2 872.5,344.1 875.5,336.1C878.6,328.0 882.1,319.4 884.6,314.9C887.1,310.4 888.7,308.8 890.7,308.8C892.7,308.8 894.7,309.8 896.7,314.9C898.7,319.9 900.5,329.0 902.8,339.1C905.1,349.2 907.8,365.6 910.4,375.4C912.9,385.3 914.9,389.5 917.9,398.1C920.9,406.7 925.7,418.0 928.5,426.9C931.3,435.7 932.5,438.9 934.6,451.1C936.6,463.3 938.9,487.9 940.6,500.1C942.4,512.3 943.4,513.1 945.2,524.2C946.9,535.3 948.7,550.9 951.2,566.6C953.7,582.2 956.8,600.4 960.3,618.0C963.8,635.7 968.4,655.9 972.4,672.5C976.4,689.2 980.5,706.6 984.5,717.9C988.5,729.3 993.1,735.6 996.6,740.6C1000.1,745.7 1002.7,746.7 1005.7,748.2C1008.7,749.7 1011.7,749.7 1014.8,749.7C1017.8,749.7 1021.3,746.4 1023.8,748.2C1026.4,749.9 1027.4,752.7 1029.9,760.3C1032.4,767.9 1035.5,780.0 1039.0,793.6C1042.5,807.2 1048.0,828.3 1051.1,842.0C1054.2,855.7 1054.9,862.5 1057.5,875.7C1060.1,888.8 1063.8,907.4 1066.6,921.1C1069.4,934.7 1071.6,947.3 1074.2,957.4C1076.7,967.5 1079.2,975.9 1081.7,981.6C1084.2,987.2 1087.3,989.9 1089.3,991.3C1091.3,992.7 1092.1,992.2 1093.8,990.1C1095.6,988.0 1097.6,984.5 1099.9,978.6C1102.1,972.6 1104.7,963.4 1107.4,954.4C1110.2,945.3 1114.0,930.9 1116.5,924.1C1119.0,917.3 1120.8,915.6 1122.6,913.5C1124.3,911.4 1125.4,910.9 1127.1,911.4C1128.9,911.9 1131.2,911.9 1133.2,916.5C1135.2,921.2 1137.2,928.4 1139.2,939.2C1141.2,950.1 1143.3,966.5 1145.3,981.6C1147.3,996.7 1149.1,1014.9 1151.3,1030.0C1153.6,1045.2 1156.4,1060.3 1158.9,1072.4C1161.4,1084.5 1163.9,1095.6 1166.5,1102.7C1169.0,1109.7 1171.5,1112.1 1174.0,1114.8C1176.6,1117.4 1179.3,1118.7 1181.6,1118.4C1183.9,1118.1 1185.4,1117.4 1187.7,1113.3C1189.9,1109.1 1192.7,1099.4 1195.2,1093.6C1197.7,1087.8 1200.5,1081.6 1202.8,1078.5C1205.1,1075.3 1206.6,1075.6 1208.8,1074.8C1211.1,1074.1 1213.9,1075.3 1216.4,1073.9C1218.9,1072.5 1221.2,1071.6 1224.0,1066.3C1226.7,1061.0 1230.0,1051.2 1233.1,1042.1C1236.1,1033.1 1239.1,1021.4 1242.1,1011.9C1245.2,1002.3 1248.2,991.9 1251.2,984.6C1254.2,977.3 1257.5,971.6 1260.3,968.0C1263.1,964.3 1265.8,963.7 1267.9,962.8C1269.9,962.0 1270.4,962.0 1272.4,962.8C1274.4,963.7 1276.9,964.3 1280.0,968.0C1283.0,971.6 1286.8,977.8 1290.6,984.6C1294.3,991.4 1299.1,1001.3 1302.7,1008.8C1306.2,1016.4 1308.7,1022.0 1311.7,1030.0C1314.8,1038.1 1317.8,1048.7 1320.8,1057.3C1323.8,1065.8 1326.4,1073.4 1329.9,1081.5C1333.4,1089.5 1338.0,1098.6 1342.0,1105.7C1346.0,1112.8 1349.1,1118.6 1354.1,1123.8C1359.2,1129.1 1367.7,1136.2 1372.3,1137.5C1376.8,1138.7 1378.3,1135.2 1381.4,1131.4C1384.4,1127.6 1387.4,1121.6 1390.4,1114.8C1393.5,1108.0 1396.5,1097.9 1399.5,1090.6C1402.5,1083.2 1405.8,1074.9 1408.6,1070.9C1411.4,1066.8 1413.9,1066.3 1416.2,1066.3C1418.4,1066.3 1420.2,1067.9 1422.2,1070.9C1424.2,1073.9 1426.0,1081.0 1428.3,1084.5C1430.5,1088.0 1432.6,1089.8 1435.8,1092.1C1439.1,1094.3 1445.3,1100.4 1447.9,1098.1C1450.6,1095.9 1450.6,1085.3 1451.9,1078.5C1453.1,1071.6 1454.3,1057.3 1455.5,1057.3C1456.7,1057.3 1457.9,1069.9 1459.1,1078.5C1460.4,1087.0 1461.9,1101.3 1463.1,1108.7C1464.2,1116.2 1464.8,1121.0 1466.1,1123.2C1467.4,1125.5 1468.9,1122.8 1470.9,1122.1C1472.9,1121.4 1475.8,1120.9 1478.1,1119.1C1480.3,1117.2 1482.2,1113.9 1484.2,1110.8C1486.3,1107.7 1488.7,1107.1 1490.4,1100.5C1492.1,1094.0 1493.3,1080.6 1494.5,1071.7C1495.7,1062.8 1496.8,1051.7 1497.6,1047.0C1498.5,1042.4 1498.9,1042.6 1499.7,1043.9C1500.5,1045.3 1501.3,1050.3 1502.4,1055.3C1503.4,1060.2 1504.8,1070.2 1505.9,1073.8C1507.0,1077.4 1507.6,1077.2 1508.9,1076.9C1510.3,1076.5 1512.5,1075.3 1514.1,1071.7C1515.6,1068.1 1517.0,1059.4 1518.2,1055.3C1519.4,1051.1 1520.3,1047.0 1521.3,1047.0C1522.3,1047.0 1523.4,1049.8 1524.4,1055.3C1525.4,1060.7 1526.3,1070.3 1527.5,1080.0C1528.7,1089.6 1530.2,1105.3 1531.6,1112.9C1533.0,1120.4 1534.5,1123.7 1535.7,1125.2C1536.9,1126.8 1537.6,1124.5 1538.8,1122.1C1540.0,1119.7 1541.7,1112.7 1542.9,1110.8C1544.1,1108.9 1545.0,1106.4 1546.0,1110.8C1547.0,1115.3 1548.1,1130.4 1549.1,1137.6C1550.1,1144.8 1551.1,1154.0 1552.2,1154.0C1553.2,1154.0 1554.1,1146.2 1555.3,1137.6C1556.5,1129.0 1558.2,1109.8 1559.4,1102.6C1560.5,1095.4 1561.1,1094.0 1562.0,1094.4C1563.0,1094.7 1563.8,1098.1 1564.9,1104.6C1566.0,1111.2 1567.3,1126.6 1568.6,1133.5C1569.9,1140.3 1571.5,1145.1 1572.7,1145.8C1573.9,1146.5 1574.9,1139.6 1575.8,1137.6C1576.8,1135.5 1577.4,1132.8 1578.3,1133.5C1579.2,1134.1 1579.8,1138.3 1581.0,1141.7C1582.1,1145.1 1583.7,1152.7 1585.1,1154.0C1586.5,1155.4 1587.8,1152.7 1589.2,1149.9C1590.6,1147.2 1592.1,1144.1 1593.3,1137.6C1594.5,1131.1 1595.4,1122.5 1596.4,1110.8C1597.4,1099.2 1598.5,1079.3 1599.5,1067.6C1600.5,1055.9 1601.6,1045.0 1602.6,1040.8C1603.6,1036.7 1604.4,1039.8 1605.3,1042.9C1606.1,1046.0 1606.6,1051.1 1607.7,1059.4C1608.8,1067.6 1610.5,1084.8 1611.9,1092.3C1613.2,1099.8 1614.6,1101.2 1616.0,1104.6C1617.3,1108.1 1618.7,1111.9 1620.1,1112.9C1621.5,1113.9 1622.8,1110.8 1624.2,1110.8C1625.6,1110.8 1627.1,1114.6 1628.3,1112.9C1629.5,1111.2 1630.4,1105.0 1631.4,1100.5C1632.4,1096.1 1633.5,1088.2 1634.5,1086.1C1635.5,1084.1 1636.6,1083.0 1637.6,1088.2C1638.6,1093.3 1639.6,1105.7 1640.7,1117.0C1641.7,1128.3 1642.7,1148.6 1643.8,1156.1C1644.8,1163.6 1645.8,1164.0 1646.8,1162.3C1647.9,1160.6 1648.9,1151.3 1649.9,1145.8C1651.0,1140.3 1652.0,1132.9 1653.0,1129.3C1654.0,1125.7 1654.9,1125.2 1656.1,1124.2C1657.3,1123.2 1659.0,1122.0 1660.2,1123.2C1661.4,1124.4 1662.3,1134.5 1663.3,1131.4C1664.3,1128.3 1665.4,1121.1 1666.4,1104.6C1667.4,1088.2 1668.5,1049.6 1669.5,1032.6C1670.5,1015.6 1671.7,1007.6 1672.6,1002.8C1673.4,998.0 1673.9,998.5 1674.6,1003.8C1675.3,1009.1 1675.8,1016.2 1676.7,1034.7C1677.5,1053.2 1678.7,1097.8 1679.8,1114.9C1680.8,1132.1 1681.7,1133.8 1682.9,1137.6C1684.1,1141.4 1685.6,1135.2 1687.0,1137.6C1688.3,1140.0 1689.7,1143.8 1691.1,1152.0C1692.5,1160.2 1694.0,1188.0 1695.2,1187.0C1696.4,1185.9 1697.3,1158.8 1698.3,1145.8C1699.3,1132.8 1700.5,1115.1 1701.4,1108.8C1702.2,1102.4 1702.6,1105.0 1703.4,1107.7C1704.3,1110.5 1705.5,1113.7 1706.5,1125.2C1707.6,1136.7 1708.4,1161.2 1709.6,1176.7C1710.8,1192.1 1712.5,1207.9 1713.7,1217.8C1714.9,1227.8 1715.8,1233.1 1716.8,1236.4C1717.8,1239.6 1718.7,1239.5 1719.9,1237.4C1721.1,1235.3 1722.6,1235.9 1724.0,1224.0C1725.4,1212.2 1726.9,1183.5 1728.1,1166.4C1729.3,1149.2 1730.4,1129.0 1731.2,1121.1C1732.1,1113.2 1732.4,1111.5 1733.3,1119.1C1734.1,1126.6 1735.3,1152.7 1736.4,1166.4C1737.4,1180.1 1738.6,1195.9 1739.5,1201.4C1740.3,1206.9 1740.7,1206.9 1741.5,1199.3C1742.4,1191.8 1743.6,1165.4 1744.6,1156.1C1745.6,1146.8 1746.3,1145.8 1747.7,1143.8C1749.1,1141.7 1752.0,1143.8 1752.8,1143.8" stroke="#00e800"/>
<path d="M1787.2,1269.9L1790.2,1270.2L1793.2,1268.6L1796.2,1266.9L1799.2,1267.3L1802.2,1265.8L1805.2,1267.5L1808.2,1269.4L1811.2,1264.8L1814.2,1263.5L1817.2,1264.5L1820.2,1263.2L1823.2,1261.9L1826.2,1259.4L1829.2,1261.2L1832.2,1262.6L1835.2,1258.5L1838.2,1260.3L1841.2,1257.4L1844.2,1258.5L1847.2,1256.7L1850.2,1258.7L1853.2,1255.0L1856.2,1256.4L1859.2,1254.6L1862.2,1252.3L1865.2,1246.3L1868.2,1249.1L1871.2,1249.3L1874.2,1248.9L1877.2,1244.8L1880.2,1246.1L1883.2,1244.0L1886.2,1242.7L1889.2,1244.1L1892.2,1237.9L1895.2,1237.5L1898.2,1238.1L1901.2,1234.7L1904.2,1235.4L1907.2,1235.5L1910.2,1235.1L1913.2,1232.1L1916.2,1233.6L1919.2,1234.7L1922.2,1227.1L1925.2,1230.1L1928.2,1226.8L1931.2,1223.5L1934.2,1227.4L1937.2,1223.8L1940.2,1219.1L1943.2,1220.9L1946.2,1221.1L1949.2,1218.8L1952.2,1219.3L1955.2,1215.9L1958.2,1214.7L1961.2,1213.5L1964.2,1206.5L1967.2,1205.7L1970.2,1202.0L1973.2,1201.0L1976.2,1196.4L1979.2,1195.6L1982.2,1194.4L1985.2,1194.6L1988.2,1193.1L1991.2,1186.1L1994.2,1185.0L1997.2,1185.6L2000.2,1178.1L2003.2,1178.9L2006.2,1177.4L2009.2,1177.9L2012.2,1174.7L2015.2,1170.6L2018.2,1168.4L2021.2,1166.5L2024.2,1168.0L2027.2,1162.1L2030.2,1160.5L2033.2,1159.9L2036.2,1157.1L2039.2,1154.8L2042.2,1150.4L2045.2,1149.5L2048.2,1145.2L2051.2,1145.1L2054.2,1141.0L2057.2,1137.3L2060.2,1137.1L2063.2,1133.9L2066.2,1135.6L2069.2,1132.1L2072.2,1130.8L2075.2,1123.6L2078.2,1122.8L2081.2,1114.6L2084.2,1109.9L2087.2,1110.0L2090.2,1106.1L2093.2,1106.1L2096.2,1108.3L2099.2,1100.8L2102.2,1100.6L2105.2,1102.1L2108.2,1102.4L2111.2,1100.7L2114.2,1099.6L2117.2,1099.8L2120.2,1097.4L2123.2,1092.3L2126.2,1092.5L2129.2,1092.4L2132.2,1091.4L2135.2,1096.2L2138.2,1095.7L2141.2,1099.8L2144.2,1097.6L2147.2,1096.1L2150.2,1093.4L2153.2,1093.0L2156.2,1088.3L2159.2,1089.3L2162.2,1091.8L2165.2,1086.3L2168.2,1091.9L2171.2,1087.0L2174.2,1093.0L2177.2,1091.3L2180.2,1096.0L2183.2,1096.2L2186.2,1094.4L2189.2,1101.5L2192.2,1103.4L2195.2,1101.9L2198.2,1103.0L2201.2,1105.1L2204.2,1105.7L2207.2,1112.5L2210.2,1111.9L2213.2,1115.5L2216.2,1116.7L2219.2,1119.9L2222.2,1121.6L2225.2,1129.6L2228.2,1128.9L2231.2,1132.5L2234.2,1131.3L2237.2,1130.7L2240.2,1132.2L2243.2,1133.3L2246.2,1136.8L2249.2,1139.0L2252.2,1142.2L2255.2,1143.0L2258.2,1146.9L2261.2,1154.3L2264.2,1151.9L2267.2,1153.4L2270.2,1158.4L2273.2,1163.3L2276.2,1161.0L2279.2,1167.4L2282.2,1170.6L2285.2,1171.9L2288.2,1180.2L2291.2,1181.7L2294.2,1184.9L2297.2,1185.4L2300.2,1188.6L2303.2,1187.7L2306.2,1191.3L2309.2,1194.3L2312.2,1199.6L2315.2,1209.7L2318.2,1210.7L2321.2,1216.4L2324.2,1219.9L2327.2,1223.2L2330.2,1226.6L2333.2,1231.6L2336.2,1231.7L2339.2,1233.9L2342.2,1236.1L2345.2,1240.9L2348.2,1243.4L2351.2,1247.1L2354.2,1249.7L2357.2,1252.5L2360.2,1260.8L2363.2,1263.0L2366.2,1261.6" stroke="#0000ff"/>
<path d="M1787.2,1272.6L1790.2,1273.1L1793.2,1273.2L1796.2,1273.4L1799.2,1270.6L1802.2,1274.6L1805.2,1269.0L1808.2,1273.0L1811.2,1271.8L1814.2,1271.8L1817.2,1273.1L1820.2,1271.6L1823.2,1265.6L1826.2,1263.8L1829.2,1268.0L1832.2,1263.4L1835.2,1264.5L1838.2,1265.3L1841.2,1259.5L1844.2,1257.6L1847.2,1261.2L1850.2,1259.5L1853.2,1257.6L1856.2,1256.8L1859.2,1253.6L1862.2,1250.9L1865.2,1252.3L1868.2,1249.6L1871.2,1247.2L1874.2,1250.5L1877.2,1248.3L1880.2,1248.2L1883.2,1244.3L1886.2,1243.7L1889.2,1241.6L1892.2,1240.3L1895.2,1241.0L1898.2,1237.7L1901.2,1238.6L1904.2,1237.3L1907.2,1239.3L1910.2,1231.2L1913.2,1234.3L1916.2,1230.7L1919.2,1229.0L1922.2,1224.2L1925.2,1224.2L1928.2,1224.6L1931.2,1221.0L1934.2,1219.6L1937.2,1217.4L1940.2,1219.1L1943.2,1215.6L1946.2,1210.0L1949.2,1211.8L1952.2,1207.6L1955.2,1202.6L1958.2,1204.8L1961.2,1205.2L1964.2,1199.3L1967.2,1193.6L1970.2,1191.2L1973.2,1192.7L1976.2,1188.3L1979.2,1185.5L1982.2,1182.8L1985.2,1180.5L1988.2,1179.6L1991.2,1176.3L1994.2,1172.5L1997.2,1166.6L2000.2,1166.4L2003.2,1160.6L2006.2,1161.2L2009.2,1153.9L2012.2,1154.0L2015.2,1152.1L2018.2,1147.4L2021.2,1151.4L2024.2,1148.7L2027.2,1142.5L2030.2,1142.4L2033.2,1139.0L2036.2,1130.4L2039.2,1133.4L2042.2,1130.0L2045.2,1127.3L2048.2,1122.0L2051.2,1120.6L2054.2,1117.8L2057.2,1117.5L2060.2,1112.8L2063.2,1109.2L2066.2,1109.2L2069.2,1102.1L2072.2,1099.4L2075.2,1093.0L2078.2,1095.8L2081.2,1090.1L2084.2,1085.5L2087.2,1080.5L2090.2,1074.9L2093.2,1071.3L2096.2,1067.7L2099.2,1066.2L2102.2,1065.6L2105.2,1067.4L2108.2,1064.6L2111.2,1062.6L2114.2,1060.8L2117.2,1059.9L2120.2,1063.7L2123.2,1061.1L2126.2,1059.9L2129.2,1058.7L2132.2,1057.1L2135.2,1059.3L2138.2,1061.6L2141.2,1059.4L2144.2,1060.1L2147.2,1059.8L2150.2,1059.4L2153.2,1054.1L2156.2,1054.8L2159.2,1051.9L2162.2,1053.9L2165.2,1049.4L2168.2,1051.1L2171.2,1053.2L2174.2,1050.7L2177.2,1052.1L2180.2,1055.6L2183.2,1056.8L2186.2,1056.2L2189.2,1060.3L2192.2,1064.7L2195.2,1061.7L2198.2,1063.6L2201.2,1063.8L2204.2,1068.4L2207.2,1067.4L2210.2,1070.3L2213.2,1078.2L2216.2,1077.1L2219.2,1084.4L2222.2,1088.6L2225.2,1089.2L2228.2,1092.1L2231.2,1096.3L2234.2,1092.8L2237.2,1092.7L2240.2,1092.1L2243.2,1097.0L2246.2,1103.2L2249.2,1106.7L2252.2,1107.1L2255.2,1110.7L2258.2,1113.9L2261.2,1117.4L2264.2,1118.2L2267.2,1121.0L2270.2,1123.7L2273.2,1125.5L2276.2,1129.4L2279.2,1133.2L2282.2,1136.1L2285.2,1140.9L2288.2,1147.7L2291.2,1149.4L2294.2,1152.6L2297.2,1152.4L2300.2,1158.1L2303.2,1155.0L2306.2,1159.2L2309.2,1169.0L2312.2,1174.5L2315.2,1178.4L2318.2,1180.7L2321.2,1188.7L2324.2,1193.3L2327.2,1201.2L2330.2,1208.7L2333.2,1207.8L2336.2,1207.9L2339.2,1208.9L2342.2,1213.0L2345.2,1215.4L2348.2,1216.8L2351.2,1223.7L2354.2,1225.6L2357.2,1234.7L2360.2,1238.2L2363.2,1240.6L2366.2,1238.4" stroke="#ff0000"/>
<path d="M1787.2,1313.8L1790.2,1312.6L1793.2,1312.2L1796.2,1312.4L1799.2,1310.6L1802.2,1310.4L1805.2,1315.0L1808.2,1312.9L1811.2,1313.3L1814.2,1314.3L1817.2,1308.2L1820.2,1309.5L1823.2,1310.8L1826.2,1310.7L1829.2,1308.5L1832.2,1310.7L1835.2,1308.5L1838.2,1305.0L1841.2,1305.0L1844.2,1307.9L1847.2,1306.5L1850.2,1301.1L1853.2,1306.9L1856.2,1304.7L1859.2,1305.4L1862.2,1301.3L1865.2,1300.7L1868.2,1298.2L1871.2,1304.6L1874.2,1298.3L1877.2,1300.9L1880.2,1295.5L1883.2,1296.1L1886.2,1291.3L1889.2,1292.4L1892.2,1293.6L1895.2,1287.9L1898.2,1291.7L1901.2,1289.7L1904.2,1286.4L1907.2,1287.0L1910.2,1286.6L1913.2,1286.8L1916.2,1284.8L1919.2,1282.8L1922.2,1282.3L1925.2,1279.2L1928.2,1277.1L1931.2,1277.9L1934.2,1278.5L1937.2,1272.8L1940.2,1275.3L1943.2,1273.4L1946.2,1272.1L1949.2,1275.2L1952.2,1271.5L1955.2,1274.2L1958.2,1267.9L1961.2,1268.4L1964.2,1265.3L1967.2,1262.4L1970.2,1263.4L1973.2,1260.4L1976.2,1260.4L1979.2,1257.6L1982.2,1254.0L1985.2,1254.5L1988.2,1253.3L1991.2,1253.6L1994.2,1248.4L1997.2,1248.6L2000.2,1243.8L2003.2,1247.0L2006.2,1241.9L2009.2,1238.6L2012.2,1240.1L2015.2,1240.5L2018.2,1233.6L2021.2,1233.2L2024.2,1232.9L2027.2,1230.9L2030.2,1232.2L2033.2,1227.6L2036.2,1225.1L2039.2,1225.2L2042.2,1220.1L2045.2,1220.1L2048.2,1214.9L2051.2,1212.3L2054.2,1209.4L2057.2,1215.6L2060.2,1210.3L2063.2,1209.9L2066.2,1207.4L2069.2,1205.2L2072.2,1202.4L2075.2,1203.5L2078.2,1195.3L2081.2,1192.2L2084.2,1191.7L2087.2,1189.6L2090.2,1192.3L2093.2,1190.9L2096.2,1185.8L2099.2,1183.5L2102.2,1184.1L2105.2,1187.0L2108.2,1179.1L2111.2,1187.1L2114.2,1184.3L2117.2,1187.7L2120.2,1182.0L2123.2,1182.1L2126.2,1178.4L2129.2,1179.2L2132.2,1184.7L2135.2,1185.2L2138.2,1184.0L2141.2,1183.5L2144.2,1180.9L2147.2,1183.0L2150.2,1182.7L2153.2,1181.6L2156.2,1180.6L2159.2,1177.4L2162.2,1178.4L2165.2,1177.3L2168.2,1179.0L2171.2,1179.9L2174.2,1176.3L2177.2,1175.9L2180.2,1178.2L2183.2,1178.0L2186.2,1178.7L2189.2,1181.0L2192.2,1180.0L2195.2,1184.3L2198.2,1183.9L2201.2,1186.0L2204.2,1187.0L2207.2,1188.2L2210.2,1190.0L2213.2,1193.7L2216.2,1195.2L2219.2,1198.8L2222.2,1200.4L2225.2,1199.5L2228.2,1203.4L2231.2,1200.9L2234.2,1202.0L2237.2,1202.2L2240.2,1198.4L2243.2,1203.8L2246.2,1206.2L2249.2,1209.1L2252.2,1211.9L2255.2,1214.3L2258.2,1214.7L2261.2,1217.0L2264.2,1217.3L2267.2,1219.5L2270.2,1217.8L2273.2,1222.4L2276.2,1224.8L2279.2,1227.6L2282.2,1230.5L2285.2,1235.5L2288.2,1233.6L2291.2,1240.0L2294.2,1241.7L2297.2,1243.0L2300.2,1243.0L2303.2,1241.2L2306.2,1244.1L2309.2,1250.3L2312.2,1254.9L2315.2,1258.9L2318.2,1259.4L2321.2,1266.9L2324.2,1271.6L2327.2,1274.6L2330.2,1275.8L2333.2,1274.2L2336.2,1280.5L2339.2,1279.4L2342.2,1275.8L2345.2,1283.2L2348.2,1281.7L2351.2,1284.9L2354.2,1289.2L2357.2,1296.1L2360.2,1294.7L2363.2,1296.5L2366.2,1298.9" stroke="#000000"/>
<path d="M1787.2,1309.1L1790.2,1305.8L1793.2,1305.7L1796.2,1303.8L1799.2,1305.1L1802.2,1307.5L1805.2,1307.6L1808.2,1307.0L1811.2,1308.6L1814.2,1304.6L1817.2,1305.6L1820.2,1306.8L1823.2,1306.1L1826.2,1306.6L1829.2,1304.8L1832.2,1302.9L1835.2,1303.8L1838.2,1300.6L1841.2,1298.8L1844.2,1302.7L1847.2,1300.7L1850.2,1300.5L1853.2,1295.4L1856.2,1297.0L1859.2,1295.4L1862.2,1293.8L1865.2,1290.1L1868.2,1293.2L1871.2,1295.0L1874.2,1293.4L1877.2,1290.8L1880.2,1291.4L1883.2,1292.1L1886.2,1283.9L1889.2,1287.7L1892.2,1287.3L1895.2,1286.1L1898.2,1287.1L1901.2,1285.3L1904.2,1283.1L1907.2,1282.5L1910.2,1282.8L1913.2,1279.4L1916.2,1279.2L1919.2,1279.6L1922.2,1279.9L1925.2,1273.8L1928.2,1272.3L1931.2,1271.0L1934.2,1271.9L1937.2,1268.2L1940.2,1270.6L1943.2,1265.1L1946.2,1266.1L1949.2,1265.4L1952.2,1266.4L1955.2,1265.4L1958.2,1258.2L1961.2,1257.1L1964.2,1257.4L1967.2,1253.2L1970.2,1249.5L1973.2,1252.8L1976.2,1250.0L1979.2,1248.3L1982.2,1244.6L1985.2,1245.8L1988.2,1241.5L1991.2,1242.4L1994.2,1236.6L1997.2,1234.8L2000.2,1235.1L2003.2,1231.4L2006.2,1232.1L2009.2,1229.1L2012.2,1224.5L2015.2,1224.2L2018.2,1221.9L2021.2,1223.6L2024.2,1220.3L2027.2,1220.1L2030.2,1221.5L2033.2,1220.3L2036.2,1216.1L2039.2,1209.0L2042.2,1206.8L2045.2,1207.0L2048.2,1201.3L2051.2,1197.6L2054.2,1198.4L2057.2,1198.4L2060.2,1195.3L2063.2,1192.5L2066.2,1190.9L2069.2,1192.2L2072.2,1186.4L2075.2,1184.6L2078.2,1182.4L2081.2,1180.3L2084.2,1175.6L2087.2,1174.5L2090.2,1168.9L2093.2,1167.6L2096.2,1164.3L2099.2,1167.1L2102.2,1163.5L2105.2,1161.7L2108.2,1163.2L2111.2,1164.8L2114.2,1166.9L2117.2,1161.1L2120.2,1160.1L2123.2,1159.3L2126.2,1163.3L2129.2,1159.7L2132.2,1158.3L2135.2,1161.8L2138.2,1165.9L2141.2,1161.7L2144.2,1160.8L2147.2,1162.7L2150.2,1160.1L2153.2,1159.3L2156.2,1155.8L2159.2,1159.6L2162.2,1158.1L2165.2,1154.8L2168.2,1154.1L2171.2,1148.6L2174.2,1154.6L2177.2,1154.3L2180.2,1156.8L2183.2,1158.5L2186.2,1157.7L2189.2,1156.0L2192.2,1161.1L2195.2,1159.9L2198.2,1161.7L2201.2,1162.3L2204.2,1164.3L2207.2,1162.0L2210.2,1170.7L2213.2,1170.5L2216.2,1173.9L2219.2,1177.6L2222.2,1175.6L2225.2,1173.9L2228.2,1176.9L2231.2,1176.8L2234.2,1178.2L2237.2,1179.4L2240.2,1175.4L2243.2,1181.5L2246.2,1180.6L2249.2,1188.2L2252.2,1191.1L2255.2,1193.2L2258.2,1195.1L2261.2,1194.8L2264.2,1195.2L2267.2,1193.7L2270.2,1197.6L2273.2,1203.2L2276.2,1206.5L2279.2,1209.6L2282.2,1212.8L2285.2,1213.8L2288.2,1221.2L2291.2,1220.8L2294.2,1223.3L2297.2,1224.0L2300.2,1223.7L2303.2,1221.8L2306.2,1224.0L2309.2,1226.8L2312.2,1233.7L2315.2,1244.1L2318.2,1244.0L2321.2,1247.8L2324.2,1253.4L2327.2,1257.9L2330.2,1257.3L2333.2,1261.0L2336.2,1263.8L2339.2,1262.8L2342.2,1262.9L2345.2,1267.0L2348.2,1264.9L2351.2,1269.9L2354.2,1272.5L2357.2,1280.3L2360.2,1276.1L2363.2,1279.9L2366.2,1280.1" stroke="#00e800"/>
</g>
<g fill="none" stroke-width="3.1" stroke-linejoin="miter" stroke-miterlimit="3" stroke-linecap="butt" filter="url(#bl)">
<path d="M376.5,2725.5L377.9,2720.2L379.3,2730.2L380.7,2715.3L382.1,2731.1L383.5,2727.7L384.9,2723.5L386.3,2712.8L387.7,2700.1L389.1,2702.2L390.5,2732.2L391.9,2725.9L393.3,2726.3L394.7,2716.4L396.1,2739.9L397.5,2704.0L398.9,2727.9L400.3,2726.9L401.7,2736.5L403.1,2733.5L404.5,2718.2L405.9,2719.3L407.3,2724.5L408.7,2715.4L410.1,2716.9L411.5,2752.2L412.9,2721.6L414.3,2737.0L415.7,2742.2L417.1,2705.8L418.5,2757.1L419.9,2719.7L421.3,2709.9L422.7,2713.3L424.1,2718.5L425.5,2701.8L426.9,2712.3L428.3,2718.1L429.7,2707.5L431.1,2748.1L432.5,2723.2L433.9,2712.8L435.3,2715.8L436.7,2725.3L438.1,2724.6L439.5,2718.6L440.9,2724.7L442.3,2707.1L443.7,2709.6L445.1,2705.8L446.5,2715.0L447.9,2705.3L449.3,2716.1L450.7,2705.4L452.1,2715.0L453.5,2713.5L454.9,2723.5L456.3,2705.5L457.7,2710.6L459.1,2703.2L460.5,2710.2L461.9,2697.4L463.3,2698.4L464.7,2708.2L466.1,2699.4L467.5,2693.4L468.9,2737.3L470.3,2712.8L471.7,2710.2L473.1,2710.3L474.5,2698.3L475.9,2695.4L477.3,2693.0L478.7,2711.9L480.1,2696.7L481.5,2681.3L482.9,2690.9L484.3,2715.2L485.7,2693.2L487.1,2704.2L488.5,2706.6L489.9,2711.4L491.3,2695.8L492.7,2715.9L494.1,2703.3L495.5,2693.3L496.9,2704.7L498.3,2704.4L499.7,2718.6L501.1,2692.5L502.5,2697.3L503.9,2680.3L505.3,2692.1L506.7,2689.7L508.1,2698.6L509.5,2695.6L510.9,2699.2L512.3,2690.1L513.7,2680.4L515.1,2700.5L516.5,2682.9L517.9,2676.1L519.3,2674.9L520.7,2689.8L522.1,2689.8L523.5,2678.0L524.9,2723.1L526.3,2686.1L527.7,2688.3L529.1,2702.7L530.5,2685.4L531.9,2686.7L533.3,2695.4L534.7,2690.0L536.1,2685.9L537.5,2686.8L538.9,2682.7L540.3,2694.9L541.7,2661.3L543.1,2693.3L544.5,2646.7L545.9,2682.8L547.3,2685.4L548.7,2676.3L550.1,2677.5L551.5,2682.9L552.9,2672.5L554.3,2682.2L555.7,2666.2L557.1,2681.8L558.5,2669.5L559.9,2673.8L561.3,2663.4L562.7,2668.9L564.1,2659.1L565.5,2655.9L566.9,2669.6L568.3,2671.0L569.7,2666.1L571.1,2656.9L572.5,2643.1L573.9,2658.2L575.3,2654.6L576.7,2654.9L578.1,2671.9L579.5,2642.7L580.9,2649.8L582.3,2623.5L583.7,2617.4L585.1,2640.5L586.5,2625.1L587.9,2626.2L589.3,2628.2L590.7,2604.3L592.1,2638.2L593.5,2608.6L594.9,2637.1L596.3,2628.2L597.7,2623.0L599.1,2625.1L600.5,2624.8L601.9,2590.7L603.3,2592.7L604.7,2612.9L606.1,2589.0L607.5,2595.4L608.9,2598.8L610.3,2590.5L611.7,2576.0L613.1,2574.2L614.5,2577.8L615.9,2572.3L617.3,2584.6L618.7,2558.3L620.1,2567.7L621.5,2579.2L622.9,2550.4L624.3,2556.6L625.7,2537.1L627.1,2553.5L628.5,2567.6L629.9,2546.3L631.3,2548.0L632.7,2538.8L634.1,2532.6L635.5,2529.0L636.9,2537.4L638.3,2543.4L639.7,2531.5L641.1,2508.4L642.5,2516.5L643.9,2524.3L645.3,2511.0L646.7,2536.6L648.1,2524.8L649.5,2545.9L650.9,2502.3L652.3,2490.5L653.7,2507.3L655.1,2506.4L656.5,2495.3L657.9,2493.6L659.3,2493.5L660.7,2495.0L662.1,2495.0L663.5,2496.5L664.9,2489.6L666.3,2476.1L667.7,2480.3L669.1,2463.6L670.5,2482.0L671.9,2478.1L673.3,2471.6L674.7,2473.2L676.1,2471.2L677.5,2433.6L678.9,2488.1L680.3,2460.6L681.7,2450.0L683.1,2465.0L684.5,2445.2L685.9,2468.3L687.3,2449.8L688.7,2452.7L690.1,2438.9L691.5,2461.3L692.9,2445.9L694.3,2424.2L695.7,2429.8L697.1,2431.3L698.5,2435.0L699.9,2426.9L701.3,2423.8L702.7,2413.9L704.1,2417.6L705.5,2410.6L706.9,2438.5L708.3,2448.5L709.7,2434.0L711.1,2420.8L712.5,2416.0L713.9,2406.6L715.3,2405.5L716.7,2440.1L718.1,2408.4L719.5,2396.3L720.9,2401.8L722.3,2413.4L723.7,2391.4L725.1,2404.8L726.5,2399.6L727.9,2427.4L729.3,2414.4L730.7,2384.6L732.1,2418.9L733.5,2379.6L734.9,2396.7L736.3,2363.7L737.7,2370.3L739.1,2371.9L740.5,2376.7L741.9,2416.8L743.3,2385.7L744.7,2384.1L746.1,2374.8L747.5,2408.0L748.9,2392.9L750.3,2400.4L751.7,2385.2L753.1,2402.4L754.5,2403.6L755.9,2390.2L757.3,2394.5L758.7,2403.2L760.1,2400.1L761.5,2398.7L762.9,2402.9L764.3,2400.8L765.7,2399.8L767.1,2417.1L768.5,2401.9L769.9,2393.3L771.3,2369.1L772.7,2390.8L774.1,2412.6L775.5,2401.1L776.9,2415.5L778.3,2398.3L779.7,2431.3L781.1,2400.7L782.5,2401.1L783.9,2397.5L785.3,2376.0L786.7,2409.6L788.1,2420.9L789.5,2390.6L790.9,2442.3L792.3,2409.3L793.7,2423.0L795.1,2399.1L796.5,2394.7L797.9,2388.3L799.3,2420.0L800.7,2389.3L802.1,2358.9L803.5,2417.6L804.9,2394.7L806.3,2401.8L807.7,2424.9L809.1,2411.3L810.5,2420.0L811.9,2428.0L813.3,2439.1L814.7,2442.5L816.1,2431.5L817.5,2441.5L818.9,2438.6L820.3,2449.9L821.7,2429.9L823.1,2451.1L824.5,2421.7L825.9,2464.6L827.3,2452.9L828.7,2426.3L830.1,2446.1L831.5,2408.4L832.9,2445.3L834.3,2402.2L835.7,2436.0L837.1,2423.3L838.5,2444.7L839.9,2442.4L841.3,2443.6L842.7,2447.3L844.1,2435.3L845.5,2418.0L846.9,2420.1L848.3,2458.7L849.7,2501.5L851.1,2462.8L852.5,2476.8L853.9,2472.8L855.3,2456.3L856.7,2463.3L858.1,2451.5L859.5,2468.3L860.9,2474.9L862.3,2463.6L863.7,2452.5L865.1,2484.9L866.5,2478.7L867.9,2467.9L869.3,2478.6L870.7,2489.1L872.1,2490.1L873.5,2484.5L874.9,2481.7L876.3,2499.7L877.7,2498.8L879.1,2498.1L880.5,2496.8L881.9,2513.8L883.3,2499.1L884.7,2501.3L886.1,2490.9L887.5,2507.7L888.9,2512.6L890.3,2499.9L891.7,2516.6L893.1,2521.7L894.5,2514.3L895.9,2512.0L897.3,2474.5L898.7,2523.0L900.1,2523.1L901.5,2503.6L902.9,2511.0L904.3,2511.2L905.7,2520.1L907.1,2494.8L908.5,2513.7L909.9,2516.9L911.3,2509.4L912.7,2513.1L914.1,2519.0L915.5,2515.8L916.9,2513.4L918.3,2510.3L919.7,2507.2L921.1,2520.1L922.5,2521.3L923.9,2508.7L925.3,2512.5L926.7,2517.5L928.1,2514.1L929.5,2533.2L930.9,2510.5L932.3,2505.7L933.7,2550.8L935.1,2513.9L936.5,2504.7L937.9,2520.5L939.3,2527.0L940.7,2516.4L942.1,2514.1L943.5,2501.9L944.9,2528.3L946.3,2522.1L947.7,2511.2L949.1,2525.6L950.5,2521.9L951.9,2511.0L953.3,2518.0L954.7,2510.4L956.1,2520.1L957.5,2511.0L958.9,2513.2L960.3,2518.4L961.7,2507.0L963.1,2499.9L964.5,2503.1L965.9,2518.4L967.3,2498.7L968.7,2500.8L970.1,2499.5L971.5,2529.6L972.9,2487.7L974.3,2517.8L975.7,2513.4L977.1,2482.7L978.5,2468.3L979.9,2492.1L981.3,2492.5L982.7,2480.3L984.1,2472.8L985.5,2449.4L986.9,2461.5L988.3,2475.0L989.7,2472.2L991.1,2457.2L992.5,2442.1L993.9,2437.7L995.3,2460.6L996.7,2457.3L998.1,2443.5L999.5,2440.6L1000.9,2417.5L1002.3,2465.9L1003.7,2440.6L1005.1,2429.6L1006.5,2425.7L1007.9,2435.8L1009.3,2429.1L1010.7,2434.0L1012.1,2437.5L1013.5,2435.8L1014.9,2392.4L1016.3,2415.2L1017.7,2405.6L1019.1,2405.3L1020.5,2412.4L1021.9,2397.2L1023.3,2377.0L1024.7,2394.1L1026.1,2389.1L1027.5,2363.3L1028.9,2379.3L1030.3,2353.9L1031.7,2364.4L1033.1,2366.0L1034.5,2335.4L1035.9,2363.0L1037.3,2373.2L1038.7,2334.0L1040.1,2307.8L1041.5,2338.2L1042.9,2329.3L1044.3,2332.4L1045.7,2324.1L1047.1,2311.4L1048.5,2285.8L1049.9,2303.0L1051.3,2284.7L1052.7,2301.9L1054.1,2305.7L1055.5,2265.9L1056.9,2283.0L1058.3,2247.9L1059.7,2271.3L1061.1,2261.1L1062.5,2273.7L1063.9,2202.2L1065.3,2225.9L1066.7,2226.9L1068.1,2229.7L1069.5,2224.9L1070.9,2215.8L1072.3,2209.2L1073.7,2197.0L1075.1,2199.1L1076.5,2210.7L1077.9,2191.7L1079.3,2185.6L1080.7,2192.6L1082.1,2154.0L1083.5,2184.8L1084.9,2161.9L1086.3,2142.0L1087.7,2138.5L1089.1,2153.4L1090.5,2123.9L1091.9,2142.5L1093.3,2132.6L1094.7,2145.8L1096.1,2118.8L1097.5,2113.5L1098.9,2097.7L1100.3,2099.7L1101.7,2058.3L1103.1,2070.8L1104.5,2063.9L1105.9,2079.1L1107.3,2042.3L1108.7,2060.7L1110.1,2028.2L1111.5,2010.1L1112.9,2070.6L1114.3,2000.4L1115.7,2048.5L1117.1,2014.1L1118.5,2004.3L1119.9,2002.9L1121.3,1995.5L1122.7,1999.9L1124.1,1989.8L1125.5,1979.6L1126.9,1964.2L1128.3,1957.2L1129.7,1952.7L1131.1,1950.7L1132.5,1926.6L1133.9,1898.3L1135.3,1934.9L1136.7,1923.9L1138.1,1910.2L1139.5,1942.2L1140.9,1910.4L1142.3,1894.6L1143.7,1912.4L1145.1,1900.1L1146.5,1898.8L1147.9,1877.8L1149.3,1873.1L1150.7,1877.3L1152.1,1868.9L1153.5,1885.4L1154.9,1882.5L1156.3,1904.2L1157.7,1868.2L1159.1,1900.8L1160.5,1879.8L1161.9,1865.5L1163.3,1900.7L1164.7,1887.4L1166.1,1883.9L1167.5,1898.9L1168.9,1895.6L1170.3,1879.4L1171.7,1883.8L1173.1,1960.7L1174.5,1887.0L1175.9,1879.8L1177.3,1868.2L1178.7,1887.5L1180.1,1899.6L1181.5,1917.0L1182.9,1906.7L1184.3,1889.2L1185.7,1957.5L1187.1,1898.1L1188.5,1932.2L1189.9,1913.3L1191.3,1921.8L1192.7,1913.2L1194.1,1983.2L1195.5,1949.6L1196.9,1947.3L1198.3,1955.3L1199.7,1946.7L1201.1,1967.4L1202.5,1952.6L1203.9,1988.3L1205.3,1998.0L1206.7,1987.5L1208.1,1987.3L1209.5,1997.2L1210.9,2015.3L1212.3,2040.1L1213.7,1970.0L1215.1,2041.6L1216.5,2050.5L1217.9,2064.0L1219.3,2050.7L1220.7,2088.1L1222.1,2099.2L1223.5,2084.7L1224.9,2091.6L1226.3,2077.5L1227.7,2077.5L1229.1,2100.4L1230.5,2118.5L1231.9,2128.4L1233.3,2154.0L1234.7,2163.7L1236.1,2164.1L1237.5,2197.5L1238.9,2208.2L1240.3,2216.2L1241.7,2203.2L1243.1,2205.3L1244.5,2224.4L1245.9,2221.0L1247.3,2237.9L1248.7,2246.1L1250.1,2267.9L1251.5,2267.5L1252.9,2298.5L1254.3,2285.7L1255.7,2300.6L1257.1,2304.9L1258.5,2317.0L1259.9,2343.9L1261.3,2359.3L1262.7,2306.9L1264.1,2300.7L1265.5,2366.2L1266.9,2408.0L1268.3,2381.8L1269.7,2381.3L1271.1,2394.1L1272.5,2403.7L1273.9,2392.4L1275.3,2436.5L1276.7,2421.0L1278.1,2436.4L1279.5,2446.6L1280.9,2465.8L1282.3,2472.8L1283.7,2454.6L1285.1,2468.4L1286.5,2467.8L1287.9,2493.1L1289.3,2489.8L1290.7,2495.8L1292.1,2489.4L1293.5,2488.0L1294.9,2499.1L1296.3,2501.9L1297.7,2515.2L1299.1,2524.0L1300.5,2533.3L1301.9,2517.2L1303.3,2546.9L1304.7,2562.3L1306.1,2534.1L1307.5,2550.6L1308.9,2558.4L1310.3,2563.1L1311.7,2573.2L1313.1,2559.7L1314.5,2582.4L1315.9,2622.4L1317.3,2583.2L1318.7,2578.6L1320.1,2583.7L1321.5,2585.6L1322.9,2598.3L1324.3,2582.6L1325.7,2603.4L1327.1,2606.3L1328.5,2620.6L1329.9,2619.7L1331.3,2597.5L1332.7,2634.1L1334.1,2639.5L1335.5,2637.3L1336.9,2634.1L1338.3,2622.4L1339.7,2626.1L1341.1,2650.9L1342.5,2636.1L1343.9,2635.0L1345.3,2652.1L1346.7,2636.5L1348.1,2647.4L1349.5,2645.7L1350.9,2656.7L1352.3,2659.4L1353.7,2652.5L1355.1,2662.4L1356.5,2667.9L1357.9,2661.5L1359.3,2677.0L1360.7,2671.8L1362.1,2668.4L1363.5,2670.4L1364.9,2668.7L1366.3,2674.9L1367.7,2671.2L1369.1,2686.3L1370.5,2688.1L1371.9,2698.8L1373.3,2698.3L1374.7,2708.4L1376.1,2694.3L1377.5,2695.1L1378.9,2696.7L1380.3,2702.1L1381.7,2693.9L1383.1,2683.7L1384.5,2689.8L1385.9,2702.8L1387.3,2688.8L1388.7,2711.3L1390.1,2707.0L1391.5,2709.4L1392.9,2691.8L1394.3,2707.1L1395.7,2710.4L1397.1,2721.5L1398.5,2711.6L1399.9,2726.5L1401.3,2735.6L1402.7,2721.3L1404.1,2723.4L1405.5,2711.8L1406.9,2717.3L1408.3,2724.5L1409.7,2742.9L1411.1,2722.3L1412.5,2727.3L1413.9,2724.9L1415.3,2722.3L1416.7,2735.0L1418.1,2746.2L1419.5,2725.3L1420.9,2730.3L1422.3,2733.4L1423.7,2743.0L1425.1,2737.7L1426.5,2744.0L1427.9,2741.1L1429.3,2741.8L1430.7,2739.7L1432.1,2777.2L1433.5,2724.7L1434.9,2766.8L1436.3,2741.7L1437.7,2763.0L1439.1,2746.3L1440.5,2745.9L1441.9,2737.9L1443.3,2744.6L1444.7,2747.5L1446.1,2739.4L1447.5,2756.6L1448.9,2759.4L1450.3,2759.6L1451.7,2750.0L1453.1,2749.8L1454.5,2763.3L1455.9,2767.3L1457.3,2729.9L1458.7,2756.1L1460.1,2744.7L1461.5,2756.5L1462.9,2782.8L1464.3,2775.7L1465.7,2736.0L1467.1,2765.1L1468.5,2772.3L1469.9,2761.6L1471.3,2772.2L1472.7,2759.2L1474.1,2784.4L1475.5,2764.2L1476.9,2763.8L1478.3,2778.4L1479.7,2768.6L1481.1,2765.8L1482.5,2774.7L1483.9,2770.0L1485.3,2766.9L1486.7,2766.5L1488.1,2781.2L1489.5,2762.3L1490.9,2782.0L1492.3,2781.5L1493.7,2772.6L1495.1,2765.3L1496.5,2780.4L1497.9,2787.0L1499.3,2791.5L1500.7,2788.2L1502.1,2791.9L1503.5,2780.5L1504.9,2797.3L1506.3,2789.0L1507.7,2761.3L1509.1,2790.9L1510.5,2767.8L1511.9,2784.0L1513.3,2782.2L1514.7,2770.9L1516.1,2773.5L1517.5,2782.7L1518.9,2788.3L1520.3,2788.6L1521.7,2785.9L1523.1,2774.1L1524.5,2780.8L1525.9,2766.3L1527.3,2764.8L1528.7,2778.3L1530.1,2780.0L1531.5,2777.8L1532.9,2777.4L1534.3,2777.8L1535.7,2788.5L1537.1,2780.5L1538.5,2788.0L1539.9,2782.2L1541.3,2765.2L1542.7,2796.1L1544.1,2786.4L1545.5,2793.4L1546.9,2787.7L1548.3,2786.5L1549.7,2820.3L1551.1,2797.6L1552.5,2774.4L1553.9,2790.9L1555.3,2793.4L1556.7,2801.8L1558.1,2791.7L1559.5,2789.7L1560.9,2800.8L1562.3,2781.9L1563.7,2798.4L1565.1,2806.4L1566.5,2794.6L1567.9,2790.9L1569.3,2798.5L1570.7,2776.4L1572.1,2793.2L1573.5,2783.7L1574.9,2793.6L1576.3,2790.0L1577.7,2812.2L1579.1,2813.4L1580.5,2798.7L1581.9,2800.7L1583.3,2816.3L1584.7,2795.0L1586.1,2794.6L1587.5,2797.5L1588.9,2801.0L1590.3,2799.4L1591.7,2797.2L1593.1,2806.9L1594.5,2814.8L1595.9,2808.4L1597.3,2802.8L1598.7,2824.4L1600.1,2810.3L1601.5,2815.8L1602.9,2798.0L1604.3,2771.4L1605.7,2788.5L1607.1,2793.0L1608.5,2820.8L1609.9,2812.6L1611.3,2814.5L1612.7,2813.6L1614.1,2814.2L1615.5,2814.0L1616.9,2832.4L1618.3,2829.5L1619.7,2817.0L1621.1,2818.3L1622.5,2815.3L1623.9,2818.6L1625.3,2821.7L1626.7,2820.3L1628.1,2818.5L1629.5,2815.8L1630.9,2817.4L1632.3,2820.4L1633.7,2815.8L1635.1,2830.3L1636.5,2833.7L1637.9,2826.5L1639.3,2825.1L1640.7,2818.6L1642.1,2836.6L1643.5,2821.1L1644.9,2824.5L1646.3,2824.1L1647.7,2824.7L1649.1,2829.0L1650.5,2825.4L1651.9,2837.8L1653.3,2842.7L1654.7,2824.8L1656.1,2826.3L1657.5,2828.5L1658.9,2830.7L1660.3,2831.7L1661.7,2835.6L1663.1,2828.3L1664.5,2838.6L1665.9,2833.1L1667.3,2826.2L1668.7,2830.5L1670.1,2837.3L1671.5,2828.5L1672.9,2823.4L1674.3,2831.5L1675.7,2841.7L1677.1,2850.9L1678.5,2821.7L1679.9,2802.5L1681.3,2825.7L1682.7,2829.5L1684.1,2827.9L1685.5,2829.0L1686.9,2841.0L1688.3,2835.7L1689.7,2829.7L1691.1,2821.0L1692.5,2844.7L1693.9,2841.7L1695.3,2831.8L1696.7,2825.1L1698.1,2828.7L1699.5,2834.6L1700.9,2833.4L1702.3,2838.9L1703.7,2825.4L1705.1,2832.0L1706.5,2847.1L1707.9,2832.8L1709.3,2835.6L1710.7,2838.0L1712.1,2849.5L1713.5,2840.3L1714.9,2844.1L1716.3,2839.2L1717.7,2845.7L1719.1,2847.1L1720.5,2850.8L1721.9,2845.6L1723.3,2831.5L1724.7,2843.9L1726.1,2841.2L1727.5,2837.7L1728.9,2836.4L1730.3,2852.5L1731.7,2845.6L1733.1,2826.6L1734.5,2855.4L1735.9,2843.9L1737.3,2832.6L1738.7,2835.9L1740.1,2838.5L1741.5,2835.9L1742.9,2859.5L1744.3,2854.2L1745.7,2845.8L1747.1,2851.3L1748.5,2845.2L1749.9,2852.7L1751.3,2871.5L1752.7,2834.1L1754.1,2847.0L1755.5,2842.3L1756.9,2838.2L1758.3,2849.6L1759.7,2850.6L1761.1,2854.8L1762.5,2850.2L1763.9,2850.5L1765.3,2857.5L1766.7,2861.3L1768.1,2842.5L1769.5,2853.3L1770.9,2865.9L1772.3,2846.9L1773.7,2850.0L1775.1,2857.4L1776.5,2844.7L1777.9,2850.4L1779.3,2869.7L1780.7,2850.3L1782.1,2831.7L1783.5,2838.7L1784.9,2844.3L1786.3,2843.4L1787.7,2834.9L1789.1,2859.4L1790.5,2843.3L1791.9,2837.1L1793.3,2853.3L1794.7,2842.3L1796.1,2842.7L1797.5,2845.6L1798.9,2849.1L1800.3,2838.3L1801.7,2853.1L1803.1,2861.7L1804.5,2839.9L1805.9,2849.6L1807.3,2840.8L1808.7,2849.8L1810.1,2848.8L1811.5,2849.0L1812.9,2852.6L1814.3,2849.0L1815.7,2851.5L1817.1,2858.0L1818.5,2847.6L1819.9,2825.4L1821.3,2852.4L1822.7,2840.9L1824.1,2847.5L1825.5,2846.0L1826.9,2854.2L1828.3,2869.3L1829.7,2850.7L1831.1,2844.8L1832.5,2849.9L1833.9,2852.6L1835.3,2847.4L1836.7,2847.4L1838.1,2842.0L1839.5,2840.5L1840.9,2852.9L1842.3,2844.9L1843.7,2835.9L1845.1,2830.8L1846.5,2834.5L1847.9,2836.1L1849.3,2831.6L1850.7,2843.8L1852.1,2848.9L1853.5,2836.3L1854.9,2842.8L1856.3,2843.5L1857.7,2839.4L1859.1,2839.7L1860.5,2845.9L1861.9,2844.7L1863.3,2845.0L1864.7,2828.8L1866.1,2839.7L1867.5,2839.6L1868.9,2847.0L1870.3,2855.3L1871.7,2860.8L1873.1,2840.5L1874.5,2863.4L1875.9,2842.8L1877.3,2843.3L1878.7,2844.7L1880.1,2826.2L1881.5,2836.7L1882.9,2832.3L1884.3,2840.8L1885.7,2834.5L1887.1,2845.0L1888.5,2834.8L1889.9,2847.1L1891.3,2827.0L1892.7,2828.1L1894.1,2837.9L1895.5,2829.9L1896.9,2809.4L1898.3,2819.4L1899.7,2828.4L1901.1,2824.3L1902.5,2835.9L1903.9,2832.0L1905.3,2824.3L1906.7,2823.0L1908.1,2800.9L1909.5,2821.0L1910.9,2821.2L1912.3,2824.0L1913.7,2806.9L1915.1,2806.4L1916.5,2815.8L1917.9,2819.0L1919.3,2831.6L1920.7,2810.8L1922.1,2813.9L1923.5,2806.0L1924.9,2806.8L1926.3,2816.5L1927.7,2814.0L1929.1,2817.6L1930.5,2807.0L1931.9,2812.3L1933.3,2812.9L1934.7,2799.3L1936.1,2809.0L1937.5,2770.6L1938.9,2806.8L1940.3,2803.9L1941.7,2802.8L1943.1,2799.2L1944.5,2794.2L1945.9,2823.4L1947.3,2801.2L1948.7,2787.5L1950.1,2798.8L1951.5,2795.0L1952.9,2806.4L1954.3,2803.7L1955.7,2792.3L1957.1,2789.7L1958.5,2807.9L1959.9,2786.2L1961.3,2792.8L1962.7,2782.0L1964.1,2795.2L1965.5,2804.9L1966.9,2779.2L1968.3,2800.2L1969.7,2808.4L1971.1,2791.2L1972.5,2800.1L1973.9,2787.5L1975.3,2775.6L1976.7,2785.9L1978.1,2775.6L1979.5,2790.6L1980.9,2800.4L1982.3,2788.4L1983.7,2801.9L1985.1,2776.8L1986.5,2791.8L1987.9,2785.4L1989.3,2777.5L1990.7,2790.4L1992.1,2778.6L1993.5,2783.0L1994.9,2753.3L1996.3,2775.4L1997.7,2781.2L1999.1,2791.1L2000.5,2778.4L2001.9,2769.2L2003.3,2786.5L2004.7,2778.4L2006.1,2757.0L2007.5,2781.5L2008.9,2799.8L2010.3,2770.9L2011.7,2780.6L2013.1,2770.8L2014.5,2789.0L2015.9,2789.1L2017.3,2790.0L2018.7,2789.9L2020.1,2768.7L2021.5,2785.7L2022.9,2782.9L2024.3,2770.6L2025.7,2786.3L2027.1,2796.2L2028.5,2798.7L2029.9,2780.6L2031.3,2781.2L2032.7,2784.8L2034.1,2810.2L2035.5,2789.6L2036.9,2779.8L2038.3,2768.9L2039.7,2772.4L2041.1,2798.6L2042.5,2802.7L2043.9,2804.1L2045.3,2793.0L2046.7,2794.0L2048.1,2800.0L2049.5,2793.3L2050.9,2792.4L2052.3,2815.2L2053.7,2791.0L2055.1,2794.8L2056.5,2804.1L2057.9,2802.4L2059.3,2812.7L2060.7,2835.8L2062.1,2807.7L2063.5,2778.1L2064.9,2801.0L2066.3,2799.7L2067.7,2798.3L2069.1,2777.4L2070.5,2804.8L2071.9,2812.3L2073.3,2808.8L2074.7,2801.1L2076.1,2810.2L2077.5,2816.6L2078.9,2797.5L2080.3,2796.1L2081.7,2812.5L2083.1,2805.3L2084.5,2802.6L2085.9,2799.4L2087.3,2803.9L2088.7,2817.7L2090.1,2818.0L2091.5,2804.9L2092.9,2778.5L2094.3,2813.9L2095.7,2808.8L2097.1,2821.0L2098.5,2820.1L2099.9,2810.9L2101.3,2806.8L2102.7,2798.7L2104.1,2803.8L2105.5,2811.5L2106.9,2827.5L2108.3,2814.2L2109.7,2810.7L2111.1,2815.3L2112.5,2849.1L2113.9,2813.7L2115.3,2819.4L2116.7,2814.7L2118.1,2816.2L2119.5,2826.0L2120.9,2805.6L2122.3,2825.3L2123.7,2828.5L2125.1,2813.8L2126.5,2811.5L2127.9,2812.1L2129.3,2822.6L2130.7,2823.5L2132.1,2819.4L2133.5,2821.1L2134.9,2837.8L2136.3,2821.5L2137.7,2827.8L2139.1,2822.5L2140.5,2849.7L2141.9,2813.7L2143.3,2804.1L2144.7,2807.7L2146.1,2818.8L2147.5,2806.1L2148.9,2827.3L2150.3,2823.8L2151.7,2817.5L2153.1,2816.9L2154.5,2825.4L2155.9,2818.6L2157.3,2827.8L2158.7,2818.9L2160.1,2824.1L2161.5,2822.5L2162.9,2832.1L2164.3,2818.8L2165.7,2817.4L2167.1,2795.5L2168.5,2816.3L2169.9,2839.0L2171.3,2798.2L2172.7,2813.1L2174.1,2810.0L2175.5,2808.6L2176.9,2822.0L2178.3,2826.9L2179.7,2829.5L2181.1,2806.0L2182.5,2825.7L2183.9,2823.0L2185.3,2825.9L2186.7,2819.7L2188.1,2817.7L2189.5,2818.6L2190.9,2829.6L2192.3,2826.5L2193.7,2810.6L2195.1,2814.1L2196.5,2806.0L2197.9,2817.9L2199.3,2826.0L2200.7,2817.4L2202.1,2819.7L2203.5,2814.1L2204.9,2846.4L2206.3,2813.7L2207.7,2788.2L2209.1,2825.2L2210.5,2823.8L2211.9,2826.0L2213.3,2817.0L2214.7,2817.2L2216.1,2815.9L2217.5,2814.7L2218.9,2828.5L2220.3,2824.7L2221.7,2824.2L2223.1,2817.1L2224.5,2822.7L2225.9,2820.2L2227.3,2832.7L2228.7,2830.5L2230.1,2815.1L2231.5,2835.8L2232.9,2817.2L2234.3,2823.2L2235.7,2810.6L2237.1,2831.8L2238.5,2814.4L2239.9,2824.7L2241.3,2819.1L2242.7,2825.9L2244.1,2823.2L2245.5,2821.6L2246.9,2835.1L2248.3,2815.2L2249.7,2819.5L2251.1,2815.7L2252.5,2807.2L2253.9,2815.7L2255.3,2834.1L2256.7,2819.3L2258.1,2806.7L2259.5,2815.3L2260.9,2820.5L2262.3,2816.6L2263.7,2806.8L2265.1,2811.4L2266.5,2813.8L2267.9,2820.1L2269.3,2815.8L2270.7,2825.1L2272.1,2810.0L2273.5,2826.3L2274.9,2818.2L2276.3,2793.6L2277.7,2827.0L2279.1,2825.4L2280.5,2814.7L2281.9,2811.3L2283.3,2837.6L2284.7,2837.3L2286.1,2798.6L2287.5,2823.7L2288.9,2819.6L2290.3,2824.8L2291.7,2815.4L2293.1,2816.5L2294.5,2811.2L2295.9,2824.8L2297.3,2836.0L2298.7,2849.9L2300.1,2825.1L2301.5,2831.4L2302.9,2826.3L2304.3,2811.7L2305.7,2816.0L2307.1,2830.5L2308.5,2836.0L2309.9,2820.0L2311.3,2826.4L2312.7,2817.1L2314.1,2814.4L2315.5,2819.5L2316.9,2811.8L2318.3,2816.8L2319.7,2819.5L2321.1,2818.6L2322.5,2824.0L2323.9,2823.1L2325.3,2821.0L2326.7,2818.0L2328.1,2800.6L2329.5,2824.6L2330.9,2809.2L2332.3,2813.1L2333.7,2813.5L2335.1,2829.9L2336.5,2821.3L2337.9,2815.0L2339.3,2833.2L2340.7,2813.9L2342.1,2825.7L2343.5,2819.2L2344.9,2815.7L2346.3,2811.0L2347.7,2811.5L2349.1,2820.1L2350.5,2824.0L2351.9,2807.9L2353.3,2813.1L2354.7,2811.0L2356.1,2798.2L2357.5,2807.7L2358.9,2809.1L2360.3,2819.0L2361.7,2810.4L2363.1,2812.8L2364.5,2805.1L2365.9,2814.4L2367.3,2799.2" stroke="#0000ff"/>
<path d="M376.5,2771.1L377.9,2790.7L379.3,2784.1L380.7,2781.4L382.1,2783.1L383.5,2791.4L384.9,2786.0L386.3,2771.9L387.7,2759.0L389.1,2767.4L390.5,2769.4L391.9,2773.8L393.3,2776.2L394.7,2768.5L396.1,2779.4L397.5,2779.9L398.9,2773.3L400.3,2768.1L401.7,2792.7L403.1,2750.6L404.5,2786.0L405.9,2768.8L407.3,2785.3L408.7,2778.8L410.1,2770.0L411.5,2759.6L412.9,2777.4L414.3,2762.8L415.7,2776.7L417.1,2812.0L418.5,2763.2L419.9,2769.9L421.3,2767.0L422.7,2760.8L424.1,2777.7L425.5,2778.3L426.9,2760.1L428.3,2763.7L429.7,2775.0L431.1,2764.8L432.5,2773.2L433.9,2783.4L435.3,2764.3L436.7,2769.6L438.1,2731.5L439.5,2764.6L440.9,2775.3L442.3,2767.5L443.7,2784.9L445.1,2766.6L446.5,2784.0L447.9,2786.6L449.3,2770.8L450.7,2768.8L452.1,2774.6L453.5,2769.1L454.9,2753.1L456.3,2793.5L457.7,2756.8L459.1,2761.3L460.5,2768.3L461.9,2774.5L463.3,2783.4L464.7,2760.4L466.1,2747.0L467.5,2754.0L468.9,2755.7L470.3,2741.4L471.7,2766.2L473.1,2779.3L474.5,2739.3L475.9,2801.1L477.3,2770.3L478.7,2775.9L480.1,2769.0L481.5,2759.5L482.9,2744.9L484.3,2744.0L485.7,2757.1L487.1,2766.5L488.5,2766.0L489.9,2767.6L491.3,2765.4L492.7,2767.4L494.1,2758.6L495.5,2762.3L496.9,2755.3L498.3,2762.4L499.7,2758.7L501.1,2733.9L502.5,2758.8L503.9,2758.8L505.3,2748.7L506.7,2766.8L508.1,2751.5L509.5,2770.8L510.9,2760.4L512.3,2762.9L513.7,2744.1L515.1,2764.5L516.5,2760.2L517.9,2760.5L519.3,2742.7L520.7,2761.8L522.1,2754.6L523.5,2748.4L524.9,2765.4L526.3,2761.3L527.7,2749.3L529.1,2757.2L530.5,2754.5L531.9,2739.0L533.3,2747.3L534.7,2755.3L536.1,2753.2L537.5,2756.8L538.9,2745.5L540.3,2708.7L541.7,2746.3L543.1,2759.5L544.5,2741.4L545.9,2746.7L547.3,2745.9L548.7,2742.5L550.1,2746.3L551.5,2738.6L552.9,2742.6L554.3,2751.6L555.7,2736.0L557.1,2737.4L558.5,2743.7L559.9,2745.9L561.3,2715.5L562.7,2718.3L564.1,2728.5L565.5,2719.9L566.9,2733.5L568.3,2732.3L569.7,2723.6L571.1,2735.0L572.5,2725.7L573.9,2714.0L575.3,2723.5L576.7,2677.8L578.1,2733.0L579.5,2713.9L580.9,2712.3L582.3,2709.9L583.7,2701.8L585.1,2703.8L586.5,2732.4L587.9,2738.4L589.3,2701.7L590.7,2711.1L592.1,2689.6L593.5,2685.8L594.9,2687.1L596.3,2688.3L597.7,2680.4L599.1,2698.9L600.5,2687.0L601.9,2672.6L603.3,2688.2L604.7,2649.5L606.1,2672.6L607.5,2644.7L608.9,2652.1L610.3,2663.9L611.7,2651.1L613.1,2671.9L614.5,2653.2L615.9,2649.3L617.3,2641.1L618.7,2636.9L620.1,2657.6L621.5,2638.6L622.9,2626.5L624.3,2648.0L625.7,2639.3L627.1,2624.3L628.5,2623.4L629.9,2628.9L631.3,2665.8L632.7,2637.9L634.1,2624.0L635.5,2643.2L636.9,2604.9L638.3,2618.7L639.7,2651.6L641.1,2616.4L642.5,2632.9L643.9,2611.7L645.3,2579.3L646.7,2600.9L648.1,2585.0L649.5,2612.1L650.9,2604.6L652.3,2597.3L653.7,2585.1L655.1,2631.6L656.5,2596.2L657.9,2599.8L659.3,2561.7L660.7,2570.4L662.1,2568.3L663.5,2572.5L664.9,2546.3L666.3,2547.0L667.7,2570.0L669.1,2561.3L670.5,2566.9L671.9,2552.8L673.3,2546.1L674.7,2554.0L676.1,2563.7L677.5,2543.2L678.9,2554.1L680.3,2540.8L681.7,2547.9L683.1,2543.0L684.5,2549.9L685.9,2522.4L687.3,2537.2L688.7,2546.0L690.1,2527.3L691.5,2535.2L692.9,2501.0L694.3,2526.7L695.7,2523.6L697.1,2525.5L698.5,2539.9L699.9,2539.7L701.3,2507.8L702.7,2522.8L704.1,2520.1L705.5,2519.6L706.9,2532.6L708.3,2522.5L709.7,2519.5L711.1,2503.4L712.5,2521.4L713.9,2510.0L715.3,2513.9L716.7,2513.6L718.1,2490.3L719.5,2506.0L720.9,2530.0L722.3,2506.9L723.7,2498.3L725.1,2503.4L726.5,2489.2L727.9,2505.9L729.3,2500.2L730.7,2513.3L732.1,2513.0L733.5,2481.8L734.9,2474.1L736.3,2494.9L737.7,2495.1L739.1,2485.7L740.5,2489.4L741.9,2508.7L743.3,2490.2L744.7,2500.4L746.1,2489.6L747.5,2491.9L748.9,2488.7L750.3,2480.7L751.7,2492.5L753.1,2486.2L754.5,2487.7L755.9,2497.0L757.3,2529.6L758.7,2475.1L760.1,2473.3L761.5,2483.2L762.9,2500.4L764.3,2500.2L765.7,2460.2L767.1,2484.2L768.5,2507.6L769.9,2479.1L771.3,2491.0L772.7,2510.0L774.1,2486.9L775.5,2492.2L776.9,2482.6L778.3,2499.5L779.7,2495.5L781.1,2500.7L782.5,2491.4L783.9,2500.3L785.3,2493.1L786.7,2516.5L788.1,2490.1L789.5,2520.7L790.9,2512.4L792.3,2503.5L793.7,2501.0L795.1,2495.3L796.5,2493.9L797.9,2514.2L799.3,2526.4L800.7,2524.2L802.1,2516.4L803.5,2482.0L804.9,2493.9L806.3,2484.6L807.7,2510.7L809.1,2521.5L810.5,2503.3L811.9,2525.5L813.3,2521.1L814.7,2535.5L816.1,2504.3L817.5,2506.5L818.9,2520.6L820.3,2524.2L821.7,2533.9L823.1,2539.9L824.5,2521.2L825.9,2526.0L827.3,2539.8L828.7,2530.6L830.1,2530.0L831.5,2531.6L832.9,2522.1L834.3,2547.7L835.7,2556.5L837.1,2540.3L838.5,2539.0L839.9,2536.3L841.3,2528.7L842.7,2554.6L844.1,2542.6L845.5,2539.6L846.9,2535.1L848.3,2542.5L849.7,2543.2L851.1,2551.9L852.5,2552.6L853.9,2567.1L855.3,2549.8L856.7,2550.3L858.1,2562.8L859.5,2532.0L860.9,2562.1L862.3,2543.7L863.7,2570.2L865.1,2554.6L866.5,2565.6L867.9,2567.9L869.3,2571.6L870.7,2563.7L872.1,2576.6L873.5,2569.7L874.9,2577.8L876.3,2594.5L877.7,2585.5L879.1,2587.5L880.5,2574.2L881.9,2605.6L883.3,2587.1L884.7,2574.0L886.1,2593.9L887.5,2616.3L888.9,2604.7L890.3,2598.1L891.7,2606.0L893.1,2604.0L894.5,2605.5L895.9,2583.6L897.3,2600.9L898.7,2615.5L900.1,2604.1L901.5,2600.9L902.9,2554.5L904.3,2606.7L905.7,2605.1L907.1,2593.4L908.5,2602.4L909.9,2593.7L911.3,2599.3L912.7,2610.1L914.1,2599.9L915.5,2620.0L916.9,2607.5L918.3,2586.6L919.7,2607.5L921.1,2595.1L922.5,2599.5L923.9,2640.0L925.3,2572.8L926.7,2605.7L928.1,2606.0L929.5,2601.3L930.9,2590.9L932.3,2616.1L933.7,2605.5L935.1,2617.6L936.5,2590.7L937.9,2606.0L939.3,2582.3L940.7,2628.9L942.1,2612.4L943.5,2594.6L944.9,2585.4L946.3,2606.4L947.7,2607.3L949.1,2603.9L950.5,2617.4L951.9,2620.5L953.3,2606.0L954.7,2582.7L956.1,2597.9L957.5,2582.8L958.9,2607.8L960.3,2576.5L961.7,2595.1L963.1,2580.8L964.5,2599.8L965.9,2604.0L967.3,2579.6L968.7,2558.2L970.1,2592.0L971.5,2579.7L972.9,2575.0L974.3,2596.4L975.7,2579.8L977.1,2575.8L978.5,2559.1L979.9,2569.2L981.3,2569.8L982.7,2558.6L984.1,2563.3L985.5,2554.8L986.9,2556.3L988.3,2539.4L989.7,2540.4L991.1,2538.6L992.5,2550.6L993.9,2568.4L995.3,2542.9L996.7,2530.3L998.1,2526.8L999.5,2522.1L1000.9,2529.4L1002.3,2530.5L1003.7,2523.6L1005.1,2516.5L1006.5,2521.8L1007.9,2511.8L1009.3,2523.1L1010.7,2499.4L1012.1,2505.7L1013.5,2486.0L1014.9,2500.4L1016.3,2503.4L1017.7,2495.1L1019.1,2496.7L1020.5,2487.6L1021.9,2485.9L1023.3,2484.1L1024.7,2485.0L1026.1,2503.6L1027.5,2464.1L1028.9,2447.5L1030.3,2460.3L1031.7,2445.7L1033.1,2444.2L1034.5,2455.7L1035.9,2445.9L1037.3,2438.9L1038.7,2401.7L1040.1,2408.0L1041.5,2417.4L1042.9,2414.6L1044.3,2415.0L1045.7,2413.8L1047.1,2402.9L1048.5,2391.4L1049.9,2379.3L1051.3,2364.0L1052.7,2392.5L1054.1,2384.1L1055.5,2371.4L1056.9,2378.4L1058.3,2381.6L1059.7,2369.9L1061.1,2378.3L1062.5,2363.9L1063.9,2355.5L1065.3,2342.9L1066.7,2345.4L1068.1,2357.1L1069.5,2338.2L1070.9,2368.8L1072.3,2285.9L1073.7,2314.3L1075.1,2338.1L1076.5,2320.5L1077.9,2286.5L1079.3,2274.2L1080.7,2300.5L1082.1,2285.5L1083.5,2299.9L1084.9,2281.5L1086.3,2256.0L1087.7,2271.8L1089.1,2254.3L1090.5,2287.4L1091.9,2271.2L1093.3,2227.4L1094.7,2256.3L1096.1,2205.3L1097.5,2235.6L1098.9,2212.9L1100.3,2234.9L1101.7,2209.9L1103.1,2208.7L1104.5,2187.9L1105.9,2175.8L1107.3,2204.9L1108.7,2193.1L1110.1,2182.3L1111.5,2160.5L1112.9,2149.1L1114.3,2189.5L1115.7,2143.5L1117.1,2138.4L1118.5,2137.9L1119.9,2154.3L1121.3,2096.0L1122.7,2106.3L1124.1,2132.7L1125.5,2091.2L1126.9,2106.8L1128.3,2117.8L1129.7,2074.6L1131.1,2087.3L1132.5,2091.9L1133.9,2076.7L1135.3,2072.1L1136.7,2074.2L1138.1,2072.0L1139.5,2063.4L1140.9,2059.3L1142.3,2038.5L1143.7,2059.3L1145.1,2052.7L1146.5,2034.1L1147.9,2057.4L1149.3,2063.9L1150.7,2034.8L1152.1,2039.3L1153.5,2038.6L1154.9,1995.3L1156.3,2010.0L1157.7,2034.9L1159.1,2027.5L1160.5,2024.5L1161.9,2028.9L1163.3,2045.5L1164.7,1976.6L1166.1,2007.1L1167.5,2043.1L1168.9,2027.9L1170.3,2017.3L1171.7,2030.8L1173.1,2020.9L1174.5,2042.5L1175.9,2043.4L1177.3,2029.4L1178.7,2033.8L1180.1,2002.6L1181.5,2026.6L1182.9,2044.8L1184.3,2067.4L1185.7,2053.8L1187.1,2081.1L1188.5,2087.8L1189.9,2097.4L1191.3,2095.7L1192.7,2072.9L1194.1,2099.9L1195.5,2078.6L1196.9,2108.4L1198.3,2091.4L1199.7,2093.5L1201.1,2114.4L1202.5,2110.9L1203.9,2138.3L1205.3,2135.4L1206.7,2136.6L1208.1,2146.0L1209.5,2159.2L1210.9,2178.8L1212.3,2156.8L1213.7,2179.9L1215.1,2161.1L1216.5,2188.8L1217.9,2172.2L1219.3,2192.3L1220.7,2200.9L1222.1,2217.0L1223.5,2201.4L1224.9,2228.1L1226.3,2237.2L1227.7,2238.1L1229.1,2264.2L1230.5,2269.4L1231.9,2268.7L1233.3,2281.3L1234.7,2300.5L1236.1,2304.1L1237.5,2268.3L1238.9,2303.5L1240.3,2312.2L1241.7,2322.0L1243.1,2334.9L1244.5,2356.1L1245.9,2345.9L1247.3,2377.4L1248.7,2383.0L1250.1,2368.0L1251.5,2389.0L1252.9,2390.3L1254.3,2407.1L1255.7,2424.2L1257.1,2425.8L1258.5,2400.6L1259.9,2443.7L1261.3,2462.3L1262.7,2469.8L1264.1,2465.1L1265.5,2464.9L1266.9,2483.6L1268.3,2476.3L1269.7,2483.5L1271.1,2495.9L1272.5,2489.9L1273.9,2519.5L1275.3,2503.4L1276.7,2543.7L1278.1,2525.6L1279.5,2533.3L1280.9,2538.5L1282.3,2550.0L1283.7,2558.7L1285.1,2560.1L1286.5,2542.3L1287.9,2569.1L1289.3,2543.3L1290.7,2577.7L1292.1,2576.6L1293.5,2603.3L1294.9,2584.1L1296.3,2612.6L1297.7,2596.2L1299.1,2613.8L1300.5,2611.6L1301.9,2624.3L1303.3,2605.1L1304.7,2637.1L1306.1,2666.2L1307.5,2618.8L1308.9,2645.5L1310.3,2637.1L1311.7,2651.5L1313.1,2669.4L1314.5,2648.1L1315.9,2648.1L1317.3,2643.7L1318.7,2673.4L1320.1,2674.5L1321.5,2650.7L1322.9,2678.0L1324.3,2676.2L1325.7,2686.4L1327.1,2688.8L1328.5,2679.4L1329.9,2665.9L1331.3,2689.5L1332.7,2666.8L1334.1,2683.1L1335.5,2678.8L1336.9,2704.3L1338.3,2691.4L1339.7,2696.3L1341.1,2696.5L1342.5,2706.7L1343.9,2706.8L1345.3,2718.1L1346.7,2720.6L1348.1,2716.4L1349.5,2718.7L1350.9,2720.7L1352.3,2721.7L1353.7,2726.4L1355.1,2726.3L1356.5,2730.1L1357.9,2734.7L1359.3,2721.6L1360.7,2738.5L1362.1,2742.4L1363.5,2749.9L1364.9,2740.6L1366.3,2744.2L1367.7,2744.0L1369.1,2750.3L1370.5,2767.9L1371.9,2753.4L1373.3,2753.0L1374.7,2757.2L1376.1,2757.8L1377.5,2747.0L1378.9,2759.7L1380.3,2762.9L1381.7,2758.5L1383.1,2767.9L1384.5,2739.6L1385.9,2769.7L1387.3,2757.8L1388.7,2775.5L1390.1,2756.5L1391.5,2770.9L1392.9,2782.0L1394.3,2779.5L1395.7,2769.2L1397.1,2763.3L1398.5,2769.7L1399.9,2782.9L1401.3,2776.0L1402.7,2783.9L1404.1,2780.0L1405.5,2781.5L1406.9,2779.6L1408.3,2787.5L1409.7,2778.8L1411.1,2792.3L1412.5,2775.7L1413.9,2770.9L1415.3,2790.0L1416.7,2782.1L1418.1,2795.4L1419.5,2782.6L1420.9,2751.2L1422.3,2784.2L1423.7,2793.7L1425.1,2781.8L1426.5,2798.0L1427.9,2785.2L1429.3,2774.3L1430.7,2798.5L1432.1,2788.1L1433.5,2809.3L1434.9,2791.9L1436.3,2789.9L1437.7,2806.2L1439.1,2811.6L1440.5,2808.1L1441.9,2806.6L1443.3,2802.0L1444.7,2802.0L1446.1,2801.0L1447.5,2807.3L1448.9,2799.3L1450.3,2801.4L1451.7,2817.9L1453.1,2808.4L1454.5,2805.1L1455.9,2809.4L1457.3,2800.8L1458.7,2810.9L1460.1,2809.1L1461.5,2806.9L1462.9,2808.1L1464.3,2811.0L1465.7,2820.5L1467.1,2803.2L1468.5,2812.9L1469.9,2827.2L1471.3,2823.8L1472.7,2828.7L1474.1,2834.9L1475.5,2813.6L1476.9,2803.7L1478.3,2808.3L1479.7,2801.2L1481.1,2817.4L1482.5,2818.1L1483.9,2816.8L1485.3,2825.0L1486.7,2818.9L1488.1,2798.8L1489.5,2815.6L1490.9,2807.9L1492.3,2835.0L1493.7,2828.5L1495.1,2832.4L1496.5,2815.6L1497.9,2817.5L1499.3,2825.9L1500.7,2821.4L1502.1,2814.6L1503.5,2835.8L1504.9,2828.6L1506.3,2831.5L1507.7,2834.9L1509.1,2831.8L1510.5,2816.6L1511.9,2831.0L1513.3,2827.8L1514.7,2829.9L1516.1,2830.3L1517.5,2823.8L1518.9,2826.9L1520.3,2818.3L1521.7,2809.8L1523.1,2819.2L1524.5,2805.9L1525.9,2812.5L1527.3,2817.4L1528.7,2818.5L1530.1,2829.1L1531.5,2832.4L1532.9,2827.3L1534.3,2814.0L1535.7,2821.1L1537.1,2828.8L1538.5,2834.5L1539.9,2842.0L1541.3,2828.3L1542.7,2828.0L1544.1,2847.0L1545.5,2828.5L1546.9,2831.9L1548.3,2820.6L1549.7,2832.0L1551.1,2843.4L1552.5,2831.1L1553.9,2843.7L1555.3,2843.0L1556.7,2841.8L1558.1,2842.5L1559.5,2840.1L1560.9,2845.0L1562.3,2840.1L1563.7,2831.5L1565.1,2845.6L1566.5,2834.8L1567.9,2845.8L1569.3,2807.9L1570.7,2857.5L1572.1,2845.4L1573.5,2809.3L1574.9,2844.2L1576.3,2840.6L1577.7,2839.4L1579.1,2851.5L1580.5,2851.9L1581.9,2835.5L1583.3,2841.5L1584.7,2842.2L1586.1,2844.1L1587.5,2848.4L1588.9,2839.3L1590.3,2856.4L1591.7,2836.2L1593.1,2839.0L1594.5,2848.6L1595.9,2843.7L1597.3,2831.1L1598.7,2850.3L1600.1,2848.6L1601.5,2849.4L1602.9,2839.7L1604.3,2850.1L1605.7,2839.9L1607.1,2847.5L1608.5,2848.1L1609.9,2867.4L1611.3,2854.4L1612.7,2860.7L1614.1,2853.3L1615.5,2854.9L1616.9,2837.3L1618.3,2864.4L1619.7,2849.3L1621.1,2849.3L1622.5,2858.5L1623.9,2865.2L1625.3,2868.8L1626.7,2851.9L1628.1,2855.2L1629.5,2862.7L1630.9,2864.3L1632.3,2859.6L1633.7,2856.5L1635.1,2849.5L1636.5,2850.5L1637.9,2823.1L1639.3,2857.0L1640.7,2856.8L1642.1,2854.3L1643.5,2848.2L1644.9,2849.6L1646.3,2864.7L1647.7,2851.0L1649.1,2851.4L1650.5,2852.9L1651.9,2865.9L1653.3,2847.5L1654.7,2843.7L1656.1,2846.0L1657.5,2845.5L1658.9,2844.1L1660.3,2831.2L1661.7,2855.4L1663.1,2844.0L1664.5,2861.5L1665.9,2854.8L1667.3,2864.5L1668.7,2862.2L1670.1,2861.1L1671.5,2867.4L1672.9,2861.3L1674.3,2869.7L1675.7,2848.5L1677.1,2858.9L1678.5,2868.4L1679.9,2861.7L1681.3,2864.6L1682.7,2859.7L1684.1,2875.0L1685.5,2848.0L1686.9,2856.8L1688.3,2865.8L1689.7,2863.4L1691.1,2852.5L1692.5,2854.1L1693.9,2859.2L1695.3,2859.8L1696.7,2846.9L1698.1,2862.9L1699.5,2867.4L1700.9,2845.3L1702.3,2876.3L1703.7,2866.3L1705.1,2850.0L1706.5,2863.5L1707.9,2872.7L1709.3,2855.4L1710.7,2863.7L1712.1,2844.1L1713.5,2854.4L1714.9,2861.3L1716.3,2871.7L1717.7,2858.3L1719.1,2896.2L1720.5,2862.5L1721.9,2868.5L1723.3,2874.3L1724.7,2862.1L1726.1,2863.5L1727.5,2858.7L1728.9,2869.3L1730.3,2864.9L1731.7,2846.3L1733.1,2864.4L1734.5,2863.3L1735.9,2869.6L1737.3,2856.1L1738.7,2868.4L1740.1,2854.2L1741.5,2864.9L1742.9,2867.8L1744.3,2868.7L1745.7,2854.6L1747.1,2869.1L1748.5,2864.4L1749.9,2858.6L1751.3,2858.5L1752.7,2872.5L1754.1,2852.8L1755.5,2858.3L1756.9,2865.1L1758.3,2872.8L1759.7,2866.1L1761.1,2859.4L1762.5,2871.1L1763.9,2866.7L1765.3,2864.9L1766.7,2862.7L1768.1,2870.2L1769.5,2873.7L1770.9,2871.7L1772.3,2869.0L1773.7,2889.5L1775.1,2873.2L1776.5,2890.9L1777.9,2849.7L1779.3,2874.2L1780.7,2859.9L1782.1,2864.5L1783.5,2872.5L1784.9,2859.4L1786.3,2861.9L1787.7,2875.7L1789.1,2857.6L1790.5,2844.2L1791.9,2859.1L1793.3,2887.1L1794.7,2858.5L1796.1,2842.2L1797.5,2863.1L1798.9,2855.1L1800.3,2863.8L1801.7,2858.2L1803.1,2872.4L1804.5,2862.9L1805.9,2871.7L1807.3,2868.5L1808.7,2859.8L1810.1,2873.1L1811.5,2854.8L1812.9,2859.9L1814.3,2849.3L1815.7,2861.3L1817.1,2860.9L1818.5,2855.0L1819.9,2858.1L1821.3,2846.0L1822.7,2866.7L1824.1,2873.9L1825.5,2865.7L1826.9,2850.0L1828.3,2862.4L1829.7,2849.4L1831.1,2854.5L1832.5,2862.1L1833.9,2848.4L1835.3,2870.0L1836.7,2856.9L1838.1,2856.5L1839.5,2853.0L1840.9,2856.0L1842.3,2849.2L1843.7,2852.1L1845.1,2846.7L1846.5,2864.8L1847.9,2856.3L1849.3,2859.2L1850.7,2861.3L1852.1,2856.9L1853.5,2855.2L1854.9,2859.4L1856.3,2863.2L1857.7,2858.7L1859.1,2856.3L1860.5,2824.1L1861.9,2864.3L1863.3,2868.5L1864.7,2842.0L1866.1,2841.7L1867.5,2853.8L1868.9,2851.6L1870.3,2858.3L1871.7,2857.8L1873.1,2856.7L1874.5,2863.7L1875.9,2850.8L1877.3,2854.6L1878.7,2847.3L1880.1,2840.2L1881.5,2857.9L1882.9,2844.3L1884.3,2846.4L1885.7,2842.0L1887.1,2846.2L1888.5,2849.7L1889.9,2835.5L1891.3,2833.3L1892.7,2837.8L1894.1,2840.8L1895.5,2838.9L1896.9,2830.3L1898.3,2829.2L1899.7,2833.7L1901.1,2833.1L1902.5,2841.3L1903.9,2820.9L1905.3,2838.6L1906.7,2835.0L1908.1,2830.3L1909.5,2832.4L1910.9,2827.8L1912.3,2850.3L1913.7,2826.5L1915.1,2805.7L1916.5,2821.5L1917.9,2849.8L1919.3,2819.9L1920.7,2817.6L1922.1,2817.4L1923.5,2810.6L1924.9,2816.9L1926.3,2820.9L1927.7,2813.4L1929.1,2826.8L1930.5,2806.8L1931.9,2816.8L1933.3,2814.8L1934.7,2815.4L1936.1,2793.7L1937.5,2807.8L1938.9,2826.3L1940.3,2813.0L1941.7,2801.6L1943.1,2807.8L1944.5,2823.3L1945.9,2801.7L1947.3,2789.8L1948.7,2803.1L1950.1,2804.3L1951.5,2814.8L1952.9,2774.0L1954.3,2798.6L1955.7,2802.5L1957.1,2794.7L1958.5,2793.5L1959.9,2789.5L1961.3,2791.6L1962.7,2794.7L1964.1,2802.8L1965.5,2783.6L1966.9,2798.0L1968.3,2785.5L1969.7,2792.8L1971.1,2797.9L1972.5,2785.3L1973.9,2784.4L1975.3,2798.4L1976.7,2797.3L1978.1,2781.9L1979.5,2791.6L1980.9,2795.2L1982.3,2802.8L1983.7,2792.7L1985.1,2789.6L1986.5,2780.5L1987.9,2792.6L1989.3,2772.2L1990.7,2778.4L1992.1,2784.6L1993.5,2773.4L1994.9,2789.4L1996.3,2779.5L1997.7,2771.7L1999.1,2784.1L2000.5,2768.0L2001.9,2782.0L2003.3,2780.7L2004.7,2775.2L2006.1,2778.3L2007.5,2777.1L2008.9,2771.3L2010.3,2783.8L2011.7,2760.3L2013.1,2759.1L2014.5,2776.9L2015.9,2782.7L2017.3,2775.3L2018.7,2776.8L2020.1,2804.1L2021.5,2777.6L2022.9,2785.5L2024.3,2785.8L2025.7,2772.1L2027.1,2779.3L2028.5,2808.3L2029.9,2783.7L2031.3,2782.1L2032.7,2800.1L2034.1,2778.2L2035.5,2784.5L2036.9,2806.1L2038.3,2778.1L2039.7,2787.4L2041.1,2784.2L2042.5,2805.1L2043.9,2788.5L2045.3,2800.9L2046.7,2789.8L2048.1,2794.4L2049.5,2801.4L2050.9,2802.0L2052.3,2788.2L2053.7,2808.1L2055.1,2797.4L2056.5,2804.9L2057.9,2797.7L2059.3,2803.1L2060.7,2795.3L2062.1,2793.7L2063.5,2800.6L2064.9,2790.5L2066.3,2799.1L2067.7,2806.0L2069.1,2807.2L2070.5,2799.2L2071.9,2800.5L2073.3,2802.0L2074.7,2793.2L2076.1,2796.9L2077.5,2797.5L2078.9,2804.9L2080.3,2807.4L2081.7,2795.2L2083.1,2802.8L2084.5,2806.5L2085.9,2807.8L2087.3,2811.3L2088.7,2841.2L2090.1,2805.6L2091.5,2810.2L2092.9,2808.8L2094.3,2808.3L2095.7,2807.1L2097.1,2792.3L2098.5,2809.3L2099.9,2812.5L2101.3,2805.7L2102.7,2805.8L2104.1,2795.2L2105.5,2814.2L2106.9,2808.6L2108.3,2818.2L2109.7,2806.8L2111.1,2817.9L2112.5,2823.9L2113.9,2808.4L2115.3,2812.0L2116.7,2807.4L2118.1,2822.2L2119.5,2807.2L2120.9,2828.4L2122.3,2814.0L2123.7,2808.4L2125.1,2847.6L2126.5,2822.1L2127.9,2818.6L2129.3,2817.3L2130.7,2822.6L2132.1,2820.5L2133.5,2825.8L2134.9,2826.0L2136.3,2809.0L2137.7,2809.6L2139.1,2805.5L2140.5,2817.7L2141.9,2822.0L2143.3,2814.5L2144.7,2814.8L2146.1,2805.6L2147.5,2823.2L2148.9,2813.2L2150.3,2816.2L2151.7,2833.1L2153.1,2818.3L2154.5,2816.3L2155.9,2817.4L2157.3,2817.9L2158.7,2825.3L2160.1,2816.4L2161.5,2819.2L2162.9,2807.9L2164.3,2820.7L2165.7,2831.0L2167.1,2813.7L2168.5,2818.2L2169.9,2817.8L2171.3,2818.3L2172.7,2817.9L2174.1,2845.7L2175.5,2820.6L2176.9,2801.2L2178.3,2821.7L2179.7,2820.8L2181.1,2802.8L2182.5,2818.8L2183.9,2816.0L2185.3,2822.1L2186.7,2813.9L2188.1,2823.8L2189.5,2827.6L2190.9,2823.6L2192.3,2807.1L2193.7,2816.4L2195.1,2813.7L2196.5,2823.5L2197.9,2811.2L2199.3,2804.5L2200.7,2812.9L2202.1,2816.2L2203.5,2809.3L2204.9,2822.1L2206.3,2815.8L2207.7,2819.8L2209.1,2829.9L2210.5,2832.2L2211.9,2798.4L2213.3,2813.4L2214.7,2821.1L2216.1,2806.6L2217.5,2815.3L2218.9,2823.5L2220.3,2821.9L2221.7,2820.0L2223.1,2819.4L2224.5,2830.0L2225.9,2814.2L2227.3,2817.7L2228.7,2821.8L2230.1,2823.7L2231.5,2798.9L2232.9,2809.0L2234.3,2813.1L2235.7,2817.3L2237.1,2818.4L2238.5,2822.5L2239.9,2821.6L2241.3,2814.0L2242.7,2820.3L2244.1,2806.5L2245.5,2812.0L2246.9,2800.9L2248.3,2821.2L2249.7,2812.6L2251.1,2795.9L2252.5,2813.0L2253.9,2810.9L2255.3,2810.5L2256.7,2808.0L2258.1,2811.9L2259.5,2796.2L2260.9,2825.3L2262.3,2802.1L2263.7,2802.4L2265.1,2829.0L2266.5,2798.8L2267.9,2818.5L2269.3,2812.6L2270.7,2816.2L2272.1,2802.4L2273.5,2804.8L2274.9,2817.6L2276.3,2790.5L2277.7,2800.9L2279.1,2803.2L2280.5,2811.7L2281.9,2813.0L2283.3,2811.8L2284.7,2810.7L2286.1,2814.4L2287.5,2817.6L2288.9,2811.9L2290.3,2815.7L2291.7,2808.7L2293.1,2807.0L2294.5,2807.9L2295.9,2810.9L2297.3,2799.3L2298.7,2811.9L2300.1,2815.1L2301.5,2821.1L2302.9,2779.5L2304.3,2795.6L2305.7,2794.5L2307.1,2809.2L2308.5,2800.9L2309.9,2779.8L2311.3,2805.1L2312.7,2804.7L2314.1,2800.7L2315.5,2815.9L2316.9,2794.7L2318.3,2781.0L2319.7,2810.0L2321.1,2801.7L2322.5,2804.4L2323.9,2803.8L2325.3,2805.1L2326.7,2788.1L2328.1,2799.7L2329.5,2796.7L2330.9,2797.5L2332.3,2811.4L2333.7,2803.6L2335.1,2814.0L2336.5,2797.6L2337.9,2794.5L2339.3,2791.2L2340.7,2804.5L2342.1,2810.3L2343.5,2794.4L2344.9,2807.7L2346.3,2802.2L2347.7,2793.6L2349.1,2771.9L2350.5,2801.7L2351.9,2797.7L2353.3,2807.0L2354.7,2809.9L2356.1,2802.0L2357.5,2813.5L2358.9,2801.1L2360.3,2787.7L2361.7,2803.1L2363.1,2793.5L2364.5,2796.8L2365.9,2791.2L2367.3,2796.8" stroke="#ff0000"/>
<path d="M376.5,2782.6L377.9,2786.7L379.3,2778.8L380.7,2782.7L382.1,2775.5L383.5,2770.5L384.9,2773.7L386.3,2765.7L387.7,2778.9L389.1,2784.7L390.5,2791.1L391.9,2775.1L393.3,2790.3L394.7,2775.8L396.1,2792.8L397.5,2779.0L398.9,2773.6L400.3,2761.4L401.7,2774.5L403.1,2782.9L404.5,2770.4L405.9,2770.7L407.3,2774.3L408.7,2769.8L410.1,2769.3L411.5,2769.8L412.9,2764.8L414.3,2751.2L415.7,2764.1L417.1,2785.0L418.5,2769.5L419.9,2749.0L421.3,2776.8L422.7,2762.1L424.1,2786.0L425.5,2770.3L426.9,2766.2L428.3,2754.7L429.7,2762.6L431.1,2770.9L432.5,2765.2L433.9,2759.1L435.3,2760.4L436.7,2785.9L438.1,2756.5L439.5,2775.8L440.9,2764.2L442.3,2766.8L443.7,2757.7L445.1,2769.5L446.5,2744.8L447.9,2750.3L449.3,2761.3L450.7,2750.1L452.1,2735.6L453.5,2760.1L454.9,2790.8L456.3,2765.3L457.7,2770.7L459.1,2762.8L460.5,2802.2L461.9,2761.5L463.3,2747.4L464.7,2763.4L466.1,2769.5L467.5,2750.5L468.9,2776.5L470.3,2767.7L471.7,2771.1L473.1,2757.7L474.5,2768.2L475.9,2772.1L477.3,2769.6L478.7,2743.3L480.1,2777.6L481.5,2756.8L482.9,2774.0L484.3,2756.5L485.7,2760.6L487.1,2752.2L488.5,2766.2L489.9,2762.9L491.3,2760.9L492.7,2755.9L494.1,2759.7L495.5,2760.0L496.9,2730.7L498.3,2754.7L499.7,2757.6L501.1,2756.4L502.5,2763.7L503.9,2761.3L505.3,2758.4L506.7,2745.7L508.1,2761.0L509.5,2764.2L510.9,2756.1L512.3,2732.3L513.7,2758.2L515.1,2753.9L516.5,2765.5L517.9,2756.0L519.3,2761.9L520.7,2758.3L522.1,2756.9L523.5,2759.6L524.9,2739.5L526.3,2750.9L527.7,2754.6L529.1,2763.5L530.5,2761.6L531.9,2755.1L533.3,2746.9L534.7,2749.1L536.1,2740.4L537.5,2755.7L538.9,2759.1L540.3,2761.7L541.7,2754.7L543.1,2741.1L544.5,2741.4L545.9,2748.1L547.3,2744.5L548.7,2746.6L550.1,2750.8L551.5,2761.7L552.9,2718.8L554.3,2739.9L555.7,2732.0L557.1,2743.1L558.5,2745.0L559.9,2738.5L561.3,2737.0L562.7,2731.1L564.1,2735.8L565.5,2730.1L566.9,2734.4L568.3,2734.2L569.7,2700.1L571.1,2726.0L572.5,2732.6L573.9,2710.9L575.3,2736.4L576.7,2709.3L578.1,2726.9L579.5,2716.1L580.9,2733.5L582.3,2731.4L583.7,2692.4L585.1,2738.5L586.5,2723.1L587.9,2729.9L589.3,2727.6L590.7,2697.4L592.1,2720.4L593.5,2751.1L594.9,2704.4L596.3,2717.3L597.7,2727.4L599.1,2701.0L600.5,2710.0L601.9,2708.1L603.3,2703.0L604.7,2701.5L606.1,2689.8L607.5,2720.0L608.9,2686.3L610.3,2687.1L611.7,2697.2L613.1,2698.4L614.5,2678.2L615.9,2710.7L617.3,2690.2L618.7,2681.2L620.1,2686.4L621.5,2675.0L622.9,2679.6L624.3,2678.7L625.7,2671.9L627.1,2676.7L628.5,2678.1L629.9,2662.4L631.3,2652.1L632.7,2662.3L634.1,2669.5L635.5,2666.2L636.9,2663.9L638.3,2649.8L639.7,2666.4L641.1,2655.1L642.5,2675.5L643.9,2669.1L645.3,2662.3L646.7,2635.1L648.1,2649.7L649.5,2678.5L650.9,2651.4L652.3,2649.4L653.7,2609.7L655.1,2650.0L656.5,2647.6L657.9,2632.7L659.3,2636.9L660.7,2632.6L662.1,2640.2L663.5,2628.8L664.9,2636.7L666.3,2626.7L667.7,2626.5L669.1,2628.3L670.5,2619.6L671.9,2600.6L673.3,2618.2L674.7,2632.1L676.1,2628.8L677.5,2608.9L678.9,2612.4L680.3,2585.9L681.7,2604.4L683.1,2602.1L684.5,2603.1L685.9,2650.6L687.3,2566.5L688.7,2611.4L690.1,2598.2L691.5,2604.2L692.9,2600.8L694.3,2587.8L695.7,2569.3L697.1,2596.8L698.5,2569.2L699.9,2583.5L701.3,2592.9L702.7,2590.0L704.1,2615.5L705.5,2597.6L706.9,2585.7L708.3,2580.2L709.7,2585.0L711.1,2571.3L712.5,2581.8L713.9,2601.3L715.3,2586.1L716.7,2586.2L718.1,2570.6L719.5,2577.0L720.9,2559.6L722.3,2555.1L723.7,2571.6L725.1,2586.8L726.5,2550.0L727.9,2567.0L729.3,2566.6L730.7,2576.4L732.1,2572.1L733.5,2567.0L734.9,2574.0L736.3,2564.4L737.7,2565.4L739.1,2566.0L740.5,2563.9L741.9,2562.1L743.3,2557.2L744.7,2559.8L746.1,2554.7L747.5,2545.6L748.9,2554.8L750.3,2565.5L751.7,2556.4L753.1,2566.1L754.5,2559.3L755.9,2559.9L757.3,2569.4L758.7,2560.8L760.1,2545.4L761.5,2551.9L762.9,2554.1L764.3,2563.0L765.7,2552.7L767.1,2549.1L768.5,2572.1L769.9,2554.6L771.3,2545.8L772.7,2557.8L774.1,2554.6L775.5,2570.8L776.9,2566.8L778.3,2574.8L779.7,2552.2L781.1,2563.9L782.5,2567.4L783.9,2569.4L785.3,2579.6L786.7,2565.4L788.1,2564.7L789.5,2573.0L790.9,2567.7L792.3,2561.1L793.7,2573.6L795.1,2574.4L796.5,2573.3L797.9,2584.4L799.3,2614.2L800.7,2597.4L802.1,2576.8L803.5,2581.8L804.9,2600.1L806.3,2586.0L807.7,2587.2L809.1,2579.2L810.5,2574.5L811.9,2541.5L813.3,2586.4L814.7,2594.0L816.1,2584.6L817.5,2592.6L818.9,2575.0L820.3,2598.1L821.7,2592.5L823.1,2600.0L824.5,2584.6L825.9,2591.3L827.3,2605.3L828.7,2605.7L830.1,2607.7L831.5,2624.9L832.9,2610.2L834.3,2600.2L835.7,2605.5L837.1,2608.1L838.5,2579.1L839.9,2584.4L841.3,2609.0L842.7,2622.1L844.1,2620.0L845.5,2602.2L846.9,2612.6L848.3,2611.9L849.7,2595.3L851.1,2629.8L852.5,2604.3L853.9,2625.8L855.3,2643.0L856.7,2626.1L858.1,2596.5L859.5,2614.4L860.9,2633.6L862.3,2623.3L863.7,2636.9L865.1,2622.3L866.5,2614.0L867.9,2628.7L869.3,2638.3L870.7,2640.8L872.1,2629.0L873.5,2632.9L874.9,2635.8L876.3,2645.0L877.7,2645.6L879.1,2650.5L880.5,2649.3L881.9,2645.7L883.3,2637.6L884.7,2633.7L886.1,2657.7L887.5,2653.6L888.9,2653.8L890.3,2630.3L891.7,2629.2L893.1,2637.7L894.5,2625.2L895.9,2659.4L897.3,2647.5L898.7,2634.4L900.1,2648.2L901.5,2649.9L902.9,2662.0L904.3,2654.0L905.7,2654.0L907.1,2680.1L908.5,2641.4L909.9,2639.1L911.3,2659.6L912.7,2657.8L914.1,2655.1L915.5,2657.3L916.9,2649.4L918.3,2647.3L919.7,2638.9L921.1,2649.0L922.5,2659.5L923.9,2648.7L925.3,2659.1L926.7,2655.3L928.1,2647.8L929.5,2650.5L930.9,2663.8L932.3,2646.8L933.7,2649.7L935.1,2660.5L936.5,2654.9L937.9,2650.2L939.3,2662.6L940.7,2648.2L942.1,2647.0L943.5,2633.8L944.9,2659.1L946.3,2660.7L947.7,2649.9L949.1,2662.1L950.5,2654.7L951.9,2655.9L953.3,2661.1L954.7,2678.6L956.1,2659.5L957.5,2645.3L958.9,2659.6L960.3,2648.5L961.7,2648.5L963.1,2634.9L964.5,2646.6L965.9,2630.1L967.3,2657.5L968.7,2624.4L970.1,2622.7L971.5,2620.0L972.9,2631.5L974.3,2635.4L975.7,2618.6L977.1,2630.2L978.5,2622.6L979.9,2633.3L981.3,2614.1L982.7,2619.6L984.1,2625.1L985.5,2609.8L986.9,2612.2L988.3,2624.5L989.7,2609.8L991.1,2619.1L992.5,2601.3L993.9,2594.2L995.3,2608.5L996.7,2602.5L998.1,2581.7L999.5,2590.4L1000.9,2580.5L1002.3,2575.7L1003.7,2595.1L1005.1,2577.6L1006.5,2584.7L1007.9,2552.8L1009.3,2565.5L1010.7,2556.1L1012.1,2580.9L1013.5,2586.2L1014.9,2567.9L1016.3,2552.6L1017.7,2554.9L1019.1,2563.1L1020.5,2551.6L1021.9,2539.5L1023.3,2547.6L1024.7,2526.8L1026.1,2537.5L1027.5,2529.3L1028.9,2551.4L1030.3,2546.6L1031.7,2526.9L1033.1,2517.4L1034.5,2521.5L1035.9,2480.1L1037.3,2516.0L1038.7,2513.4L1040.1,2510.5L1041.5,2516.3L1042.9,2498.3L1044.3,2492.7L1045.7,2492.7L1047.1,2450.6L1048.5,2476.9L1049.9,2464.0L1051.3,2478.0L1052.7,2452.2L1054.1,2469.8L1055.5,2458.7L1056.9,2454.0L1058.3,2465.8L1059.7,2450.6L1061.1,2426.9L1062.5,2448.2L1063.9,2448.2L1065.3,2438.9L1066.7,2425.8L1068.1,2427.5L1069.5,2406.5L1070.9,2402.1L1072.3,2409.3L1073.7,2378.6L1075.1,2405.7L1076.5,2393.2L1077.9,2381.9L1079.3,2392.4L1080.7,2397.1L1082.1,2398.8L1083.5,2368.1L1084.9,2379.4L1086.3,2345.5L1087.7,2356.5L1089.1,2349.0L1090.5,2358.5L1091.9,2352.3L1093.3,2363.5L1094.7,2346.6L1096.1,2307.2L1097.5,2330.6L1098.9,2308.5L1100.3,2317.7L1101.7,2287.6L1103.1,2308.4L1104.5,2308.2L1105.9,2309.4L1107.3,2298.1L1108.7,2287.4L1110.1,2291.4L1111.5,2278.6L1112.9,2263.2L1114.3,2248.1L1115.7,2209.2L1117.1,2262.4L1118.5,2257.8L1119.9,2266.5L1121.3,2232.9L1122.7,2248.1L1124.1,2221.3L1125.5,2254.4L1126.9,2254.5L1128.3,2221.1L1129.7,2181.6L1131.1,2217.5L1132.5,2205.0L1133.9,2176.7L1135.3,2211.9L1136.7,2195.9L1138.1,2179.6L1139.5,2185.7L1140.9,2185.6L1142.3,2181.0L1143.7,2186.7L1145.1,2176.4L1146.5,2174.9L1147.9,2187.8L1149.3,2163.1L1150.7,2193.3L1152.1,2179.9L1153.5,2173.2L1154.9,2195.5L1156.3,2199.1L1157.7,2161.7L1159.1,2164.2L1160.5,2180.4L1161.9,2171.7L1163.3,2173.6L1164.7,2174.4L1166.1,2161.2L1167.5,2131.9L1168.9,2187.7L1170.3,2195.2L1171.7,2171.3L1173.1,2181.4L1174.5,2187.1L1175.9,2175.5L1177.3,2167.0L1178.7,2180.2L1180.1,2148.7L1181.5,2142.2L1182.9,2161.3L1184.3,2176.9L1185.7,2171.6L1187.1,2130.6L1188.5,2183.1L1189.9,2185.5L1191.3,2197.1L1192.7,2198.8L1194.1,2232.9L1195.5,2170.3L1196.9,2240.0L1198.3,2247.1L1199.7,2239.1L1201.1,2235.3L1202.5,2242.9L1203.9,2292.2L1205.3,2246.6L1206.7,2237.1L1208.1,2298.2L1209.5,2244.3L1210.9,2276.6L1212.3,2279.8L1213.7,2285.1L1215.1,2283.2L1216.5,2302.6L1217.9,2304.1L1219.3,2320.1L1220.7,2341.3L1222.1,2333.7L1223.5,2329.5L1224.9,2339.0L1226.3,2357.1L1227.7,2344.5L1229.1,2352.2L1230.5,2370.2L1231.9,2370.7L1233.3,2401.6L1234.7,2373.9L1236.1,2384.5L1237.5,2400.9L1238.9,2395.2L1240.3,2406.8L1241.7,2418.3L1243.1,2426.0L1244.5,2441.2L1245.9,2434.7L1247.3,2439.7L1248.7,2457.1L1250.1,2460.8L1251.5,2455.7L1252.9,2500.2L1254.3,2474.9L1255.7,2484.4L1257.1,2497.6L1258.5,2498.5L1259.9,2504.4L1261.3,2493.0L1262.7,2527.5L1264.1,2519.2L1265.5,2498.9L1266.9,2553.6L1268.3,2528.5L1269.7,2549.2L1271.1,2540.4L1272.5,2561.6L1273.9,2583.3L1275.3,2565.1L1276.7,2582.2L1278.1,2574.9L1279.5,2593.3L1280.9,2612.9L1282.3,2604.1L1283.7,2625.0L1285.1,2627.5L1286.5,2615.0L1287.9,2649.1L1289.3,2642.1L1290.7,2659.2L1292.1,2634.6L1293.5,2636.0L1294.9,2646.2L1296.3,2662.0L1297.7,2651.1L1299.1,2648.1L1300.5,2670.4L1301.9,2653.6L1303.3,2661.5L1304.7,2671.8L1306.1,2691.3L1307.5,2675.6L1308.9,2678.1L1310.3,2673.1L1311.7,2696.5L1313.1,2702.8L1314.5,2701.1L1315.9,2696.8L1317.3,2701.1L1318.7,2718.4L1320.1,2712.6L1321.5,2697.5L1322.9,2708.5L1324.3,2716.5L1325.7,2706.4L1327.1,2716.2L1328.5,2717.3L1329.9,2712.7L1331.3,2698.3L1332.7,2715.8L1334.1,2713.6L1335.5,2699.7L1336.9,2745.5L1338.3,2748.9L1339.7,2730.9L1341.1,2714.3L1342.5,2727.9L1343.9,2735.5L1345.3,2749.7L1346.7,2739.2L1348.1,2755.7L1349.5,2751.4L1350.9,2746.9L1352.3,2753.6L1353.7,2783.2L1355.1,2748.7L1356.5,2755.0L1357.9,2749.0L1359.3,2772.3L1360.7,2762.3L1362.1,2752.5L1363.5,2768.0L1364.9,2760.4L1366.3,2763.6L1367.7,2764.9L1369.1,2778.8L1370.5,2761.7L1371.9,2757.1L1373.3,2763.8L1374.7,2769.9L1376.1,2774.5L1377.5,2782.9L1378.9,2747.1L1380.3,2773.1L1381.7,2776.3L1383.1,2792.5L1384.5,2790.8L1385.9,2782.4L1387.3,2777.2L1388.7,2787.8L1390.1,2775.6L1391.5,2793.1L1392.9,2800.3L1394.3,2781.2L1395.7,2802.1L1397.1,2793.0L1398.5,2789.0L1399.9,2803.3L1401.3,2795.1L1402.7,2799.8L1404.1,2787.6L1405.5,2803.1L1406.9,2799.6L1408.3,2790.2L1409.7,2805.8L1411.1,2796.6L1412.5,2807.5L1413.9,2808.1L1415.3,2803.7L1416.7,2801.2L1418.1,2820.4L1419.5,2804.6L1420.9,2814.5L1422.3,2820.9L1423.7,2817.7L1425.1,2800.9L1426.5,2834.7L1427.9,2819.0L1429.3,2808.3L1430.7,2810.6L1432.1,2822.2L1433.5,2831.0L1434.9,2819.8L1436.3,2817.5L1437.7,2833.8L1439.1,2807.2L1440.5,2810.8L1441.9,2821.0L1443.3,2823.5L1444.7,2816.8L1446.1,2820.2L1447.5,2819.9L1448.9,2818.2L1450.3,2820.8L1451.7,2831.2L1453.1,2820.0L1454.5,2819.2L1455.9,2812.3L1457.3,2820.9L1458.7,2810.1L1460.1,2822.5L1461.5,2819.8L1462.9,2807.0L1464.3,2828.7L1465.7,2821.8L1467.1,2828.4L1468.5,2822.4L1469.9,2823.6L1471.3,2826.3L1472.7,2837.8L1474.1,2831.4L1475.5,2820.5L1476.9,2828.5L1478.3,2835.6L1479.7,2836.9L1481.1,2840.4L1482.5,2830.5L1483.9,2838.4L1485.3,2837.8L1486.7,2816.6L1488.1,2836.0L1489.5,2830.0L1490.9,2832.7L1492.3,2834.9L1493.7,2832.5L1495.1,2851.0L1496.5,2842.4L1497.9,2845.4L1499.3,2836.2L1500.7,2830.7L1502.1,2840.4L1503.5,2838.0L1504.9,2842.5L1506.3,2836.2L1507.7,2837.9L1509.1,2829.6L1510.5,2850.9L1511.9,2826.5L1513.3,2833.4L1514.7,2830.5L1516.1,2841.6L1517.5,2851.7L1518.9,2832.6L1520.3,2840.7L1521.7,2836.7L1523.1,2832.2L1524.5,2855.6L1525.9,2836.5L1527.3,2836.5L1528.7,2827.8L1530.1,2835.2L1531.5,2843.3L1532.9,2858.8L1534.3,2845.1L1535.7,2817.7L1537.1,2830.1L1538.5,2829.3L1539.9,2822.9L1541.3,2834.8L1542.7,2848.1L1544.1,2844.4L1545.5,2842.8L1546.9,2843.8L1548.3,2838.0L1549.7,2865.8L1551.1,2839.7L1552.5,2836.3L1553.9,2840.8L1555.3,2873.4L1556.7,2848.9L1558.1,2829.3L1559.5,2882.9L1560.9,2861.2L1562.3,2856.9L1563.7,2857.0L1565.1,2861.3L1566.5,2844.4L1567.9,2846.9L1569.3,2852.4L1570.7,2855.0L1572.1,2862.3L1573.5,2836.5L1574.9,2849.3L1576.3,2856.5L1577.7,2855.9L1579.1,2817.8L1580.5,2861.2L1581.9,2847.8L1583.3,2856.2L1584.7,2851.3L1586.1,2849.0L1587.5,2844.4L1588.9,2856.9L1590.3,2847.7L1591.7,2849.4L1593.1,2854.0L1594.5,2846.8L1595.9,2840.6L1597.3,2846.9L1598.7,2849.7L1600.1,2843.3L1601.5,2859.9L1602.9,2855.8L1604.3,2862.5L1605.7,2868.5L1607.1,2864.0L1608.5,2858.5L1609.9,2853.6L1611.3,2862.2L1612.7,2848.8L1614.1,2871.8L1615.5,2854.6L1616.9,2858.1L1618.3,2860.8L1619.7,2864.8L1621.1,2862.3L1622.5,2853.9L1623.9,2868.6L1625.3,2847.6L1626.7,2863.1L1628.1,2866.3L1629.5,2868.1L1630.9,2859.8L1632.3,2867.3L1633.7,2878.3L1635.1,2841.3L1636.5,2858.5L1637.9,2857.3L1639.3,2855.3L1640.7,2868.3L1642.1,2864.8L1643.5,2862.2L1644.9,2875.5L1646.3,2860.5L1647.7,2869.7L1649.1,2868.8L1650.5,2859.5L1651.9,2855.6L1653.3,2859.9L1654.7,2858.1L1656.1,2864.4L1657.5,2863.2L1658.9,2849.5L1660.3,2861.9L1661.7,2869.8L1663.1,2865.6L1664.5,2868.3L1665.9,2858.5L1667.3,2862.9L1668.7,2856.4L1670.1,2869.1L1671.5,2879.6L1672.9,2858.8L1674.3,2853.1L1675.7,2872.3L1677.1,2860.6L1678.5,2859.3L1679.9,2861.6L1681.3,2864.1L1682.7,2861.6L1684.1,2881.8L1685.5,2872.5L1686.9,2870.7L1688.3,2868.8L1689.7,2865.9L1691.1,2851.1L1692.5,2872.9L1693.9,2863.2L1695.3,2854.8L1696.7,2875.3L1698.1,2873.1L1699.5,2871.4L1700.9,2856.8L1702.3,2859.8L1703.7,2860.8L1705.1,2857.6L1706.5,2880.2L1707.9,2871.8L1709.3,2869.1L1710.7,2850.7L1712.1,2861.6L1713.5,2857.2L1714.9,2859.5L1716.3,2870.6L1717.7,2869.6L1719.1,2864.7L1720.5,2852.5L1721.9,2878.1L1723.3,2855.9L1724.7,2860.9L1726.1,2891.2L1727.5,2873.0L1728.9,2866.5L1730.3,2864.8L1731.7,2873.5L1733.1,2858.6L1734.5,2863.5L1735.9,2859.0L1737.3,2866.1L1738.7,2872.9L1740.1,2864.6L1741.5,2864.6L1742.9,2871.1L1744.3,2867.7L1745.7,2864.7L1747.1,2859.5L1748.5,2866.3L1749.9,2863.1L1751.3,2870.2L1752.7,2852.8L1754.1,2871.3L1755.5,2852.2L1756.9,2856.9L1758.3,2872.1L1759.7,2859.1L1761.1,2870.0L1762.5,2868.1L1763.9,2862.0L1765.3,2866.7L1766.7,2878.6L1768.1,2877.2L1769.5,2852.5L1770.9,2849.7L1772.3,2871.5L1773.7,2871.5L1775.1,2863.4L1776.5,2859.2L1777.9,2866.9L1779.3,2866.3L1780.7,2869.5L1782.1,2862.6L1783.5,2876.8L1784.9,2855.3L1786.3,2870.0L1787.7,2850.3L1789.1,2858.6L1790.5,2867.6L1791.9,2858.7L1793.3,2864.2L1794.7,2852.3L1796.1,2862.8L1797.5,2853.7L1798.9,2848.2L1800.3,2857.9L1801.7,2858.9L1803.1,2857.2L1804.5,2872.0L1805.9,2851.4L1807.3,2858.6L1808.7,2857.0L1810.1,2859.6L1811.5,2856.8L1812.9,2855.7L1814.3,2838.9L1815.7,2854.8L1817.1,2832.3L1818.5,2854.6L1819.9,2861.2L1821.3,2860.4L1822.7,2860.9L1824.1,2852.7L1825.5,2869.4L1826.9,2861.8L1828.3,2863.8L1829.7,2856.1L1831.1,2853.4L1832.5,2860.1L1833.9,2872.3L1835.3,2864.9L1836.7,2848.2L1838.1,2857.1L1839.5,2852.7L1840.9,2862.9L1842.3,2863.0L1843.7,2863.4L1845.1,2851.3L1846.5,2849.7L1847.9,2863.5L1849.3,2857.7L1850.7,2840.7L1852.1,2856.3L1853.5,2879.7L1854.9,2846.2L1856.3,2855.9L1857.7,2854.8L1859.1,2859.5L1860.5,2830.5L1861.9,2850.4L1863.3,2856.0L1864.7,2828.7L1866.1,2845.1L1867.5,2858.5L1868.9,2865.4L1870.3,2852.4L1871.7,2860.1L1873.1,2864.1L1874.5,2849.4L1875.9,2838.5L1877.3,2839.6L1878.7,2848.2L1880.1,2850.1L1881.5,2858.2L1882.9,2850.2L1884.3,2845.2L1885.7,2854.8L1887.1,2863.8L1888.5,2846.5L1889.9,2844.8L1891.3,2844.3L1892.7,2842.5L1894.1,2844.4L1895.5,2839.3L1896.9,2849.5L1898.3,2835.8L1899.7,2834.4L1901.1,2843.8L1902.5,2839.9L1903.9,2843.6L1905.3,2827.8L1906.7,2824.6L1908.1,2812.1L1909.5,2822.8L1910.9,2828.1L1912.3,2828.3L1913.7,2829.3L1915.1,2835.4L1916.5,2822.8L1917.9,2824.9L1919.3,2809.9L1920.7,2843.6L1922.1,2827.6L1923.5,2834.5L1924.9,2823.4L1926.3,2827.7L1927.7,2820.8L1929.1,2809.9L1930.5,2810.8L1931.9,2828.5L1933.3,2818.5L1934.7,2819.4L1936.1,2810.5L1937.5,2816.7L1938.9,2809.3L1940.3,2804.4L1941.7,2801.8L1943.1,2815.1L1944.5,2818.3L1945.9,2807.5L1947.3,2817.4L1948.7,2812.3L1950.1,2826.3L1951.5,2820.0L1952.9,2801.0L1954.3,2813.1L1955.7,2816.3L1957.1,2799.6L1958.5,2827.8L1959.9,2815.8L1961.3,2805.7L1962.7,2816.0L1964.1,2808.5L1965.5,2808.9L1966.9,2822.8L1968.3,2801.0L1969.7,2818.6L1971.1,2819.7L1972.5,2797.3L1973.9,2829.4L1975.3,2802.5L1976.7,2789.2L1978.1,2810.4L1979.5,2800.3L1980.9,2795.5L1982.3,2788.4L1983.7,2803.7L1985.1,2797.7L1986.5,2794.3L1987.9,2787.2L1989.3,2808.5L1990.7,2796.3L1992.1,2792.4L1993.5,2799.1L1994.9,2788.3L1996.3,2801.8L1997.7,2795.0L1999.1,2779.5L2000.5,2790.6L2001.9,2782.0L2003.3,2789.1L2004.7,2799.1L2006.1,2805.9L2007.5,2795.2L2008.9,2803.2L2010.3,2796.7L2011.7,2803.5L2013.1,2792.3L2014.5,2795.9L2015.9,2803.6L2017.3,2797.1L2018.7,2814.9L2020.1,2786.6L2021.5,2793.4L2022.9,2792.1L2024.3,2791.4L2025.7,2799.0L2027.1,2791.4L2028.5,2798.7L2029.9,2787.4L2031.3,2792.0L2032.7,2763.0L2034.1,2806.8L2035.5,2807.2L2036.9,2792.8L2038.3,2800.1L2039.7,2789.5L2041.1,2802.6L2042.5,2807.4L2043.9,2791.9L2045.3,2799.2L2046.7,2784.1L2048.1,2787.0L2049.5,2797.2L2050.9,2789.2L2052.3,2804.9L2053.7,2786.9L2055.1,2795.4L2056.5,2804.8L2057.9,2802.2L2059.3,2790.2L2060.7,2796.8L2062.1,2812.2L2063.5,2794.2L2064.9,2811.5L2066.3,2797.7L2067.7,2811.7L2069.1,2804.0L2070.5,2775.4L2071.9,2805.5L2073.3,2772.3L2074.7,2803.4L2076.1,2791.0L2077.5,2798.3L2078.9,2787.7L2080.3,2793.5L2081.7,2793.8L2083.1,2782.1L2084.5,2792.2L2085.9,2802.1L2087.3,2821.9L2088.7,2813.1L2090.1,2805.7L2091.5,2809.2L2092.9,2810.3L2094.3,2805.2L2095.7,2812.6L2097.1,2805.6L2098.5,2803.2L2099.9,2797.4L2101.3,2826.6L2102.7,2786.5L2104.1,2801.7L2105.5,2803.9L2106.9,2800.0L2108.3,2815.9L2109.7,2822.4L2111.1,2811.1L2112.5,2809.2L2113.9,2807.1L2115.3,2805.4L2116.7,2804.6L2118.1,2813.6L2119.5,2792.5L2120.9,2804.2L2122.3,2809.2L2123.7,2803.7L2125.1,2798.3L2126.5,2808.2L2127.9,2804.8L2129.3,2811.5L2130.7,2808.2L2132.1,2790.7L2133.5,2803.5L2134.9,2792.6L2136.3,2794.8L2137.7,2803.8L2139.1,2816.9L2140.5,2808.2L2141.9,2798.5L2143.3,2797.4L2144.7,2810.9L2146.1,2794.2L2147.5,2799.2L2148.9,2798.6L2150.3,2811.9L2151.7,2804.2L2153.1,2806.7L2154.5,2804.3L2155.9,2797.0L2157.3,2789.9L2158.7,2810.0L2160.1,2822.7L2161.5,2797.5L2162.9,2806.9L2164.3,2824.6L2165.7,2794.3L2167.1,2809.9L2168.5,2802.7L2169.9,2803.2L2171.3,2799.4L2172.7,2806.6L2174.1,2795.0L2175.5,2794.7L2176.9,2806.1L2178.3,2806.6L2179.7,2798.2L2181.1,2815.4L2182.5,2803.8L2183.9,2816.3L2185.3,2780.9L2186.7,2808.2L2188.1,2810.7L2189.5,2796.7L2190.9,2793.2L2192.3,2791.0L2193.7,2806.2L2195.1,2813.9L2196.5,2826.3L2197.9,2807.7L2199.3,2795.6L2200.7,2804.2L2202.1,2806.6L2203.5,2785.3L2204.9,2802.5L2206.3,2817.2L2207.7,2796.0L2209.1,2796.9L2210.5,2803.9L2211.9,2796.1L2213.3,2776.6L2214.7,2799.2L2216.1,2803.5L2217.5,2807.8L2218.9,2796.9L2220.3,2793.8L2221.7,2800.4L2223.1,2813.9L2224.5,2784.8L2225.9,2783.8L2227.3,2787.4L2228.7,2793.0L2230.1,2790.2L2231.5,2787.3L2232.9,2789.4L2234.3,2782.2L2235.7,2792.5L2237.1,2808.4L2238.5,2791.9L2239.9,2795.0L2241.3,2796.5L2242.7,2784.0L2244.1,2795.0L2245.5,2800.6L2246.9,2800.0L2248.3,2794.8L2249.7,2798.5L2251.1,2796.6L2252.5,2803.7L2253.9,2804.4L2255.3,2783.5L2256.7,2781.6L2258.1,2795.5L2259.5,2786.4L2260.9,2790.3L2262.3,2785.5L2263.7,2789.0L2265.1,2789.0L2266.5,2801.2L2267.9,2796.6L2269.3,2787.4L2270.7,2793.0L2272.1,2764.4L2273.5,2785.6L2274.9,2793.3L2276.3,2785.0L2277.7,2774.7L2279.1,2782.0L2280.5,2780.3L2281.9,2799.7L2283.3,2793.8L2284.7,2772.2L2286.1,2794.1L2287.5,2781.2L2288.9,2779.4L2290.3,2796.7L2291.7,2798.0L2293.1,2782.2L2294.5,2795.2L2295.9,2791.4L2297.3,2779.9L2298.7,2793.1L2300.1,2779.9L2301.5,2788.3L2302.9,2785.2L2304.3,2785.8L2305.7,2793.4L2307.1,2790.5L2308.5,2785.4L2309.9,2789.2L2311.3,2777.7L2312.7,2777.8L2314.1,2787.5L2315.5,2791.2L2316.9,2788.7L2318.3,2784.0L2319.7,2781.8L2321.1,2792.0L2322.5,2782.5L2323.9,2784.7L2325.3,2790.8L2326.7,2779.0L2328.1,2789.5L2329.5,2786.0L2330.9,2773.7L2332.3,2780.1L2333.7,2771.1L2335.1,2779.8L2336.5,2794.4L2337.9,2805.5L2339.3,2774.7L2340.7,2771.2L2342.1,2775.0L2343.5,2778.4L2344.9,2764.3L2346.3,2764.2L2347.7,2762.1L2349.1,2778.5L2350.5,2783.3L2351.9,2781.3L2353.3,2769.3L2354.7,2779.6L2356.1,2766.9L2357.5,2774.9L2358.9,2770.0L2360.3,2774.7L2361.7,2762.3L2363.1,2783.1L2364.5,2763.4L2365.9,2780.3L2367.3,2780.5" stroke="#000000"/>
<path d="M376.5,2831.4L377.9,2834.1L379.3,2831.3L380.7,2820.1L382.1,2822.3L383.5,2814.8L384.9,2848.5L386.3,2829.3L387.7,2835.7L389.1,2825.8L390.5,2819.0L391.9,2817.7L393.3,2825.4L394.7,2833.8L396.1,2825.9L397.5,2828.5L398.9,2820.2L400.3,2826.5L401.7,2824.0L403.1,2837.3L404.5,2822.8L405.9,2827.5L407.3,2819.0L408.7,2824.2L410.1,2816.9L411.5,2804.5L412.9,2813.7L414.3,2806.7L415.7,2805.3L417.1,2815.5L418.5,2817.3L419.9,2803.9L421.3,2826.6L422.7,2803.6L424.1,2793.8L425.5,2809.3L426.9,2814.3L428.3,2820.7L429.7,2819.3L431.1,2813.9L432.5,2818.5L433.9,2812.9L435.3,2820.2L436.7,2793.7L438.1,2810.3L439.5,2816.3L440.9,2820.4L442.3,2787.5L443.7,2827.9L445.1,2805.8L446.5,2823.2L447.9,2817.9L449.3,2808.1L450.7,2820.6L452.1,2800.9L453.5,2813.2L454.9,2810.3L456.3,2828.3L457.7,2813.4L459.1,2811.8L460.5,2809.5L461.9,2804.2L463.3,2806.3L464.7,2790.8L466.1,2800.3L467.5,2808.1L468.9,2807.8L470.3,2817.0L471.7,2798.5L473.1,2809.2L474.5,2812.0L475.9,2814.2L477.3,2825.0L478.7,2804.8L480.1,2820.4L481.5,2796.1L482.9,2802.5L484.3,2805.0L485.7,2808.1L487.1,2816.8L488.5,2812.5L489.9,2810.8L491.3,2812.6L492.7,2807.6L494.1,2812.1L495.5,2809.7L496.9,2805.4L498.3,2820.1L499.7,2795.4L501.1,2804.5L502.5,2788.1L503.9,2788.5L505.3,2785.9L506.7,2801.7L508.1,2822.3L509.5,2799.2L510.9,2805.6L512.3,2761.1L513.7,2800.5L515.1,2775.7L516.5,2801.8L517.9,2803.2L519.3,2795.3L520.7,2803.6L522.1,2786.2L523.5,2800.0L524.9,2795.3L526.3,2797.0L527.7,2810.2L529.1,2796.3L530.5,2806.7L531.9,2786.2L533.3,2801.3L534.7,2784.3L536.1,2804.5L537.5,2787.6L538.9,2810.2L540.3,2803.4L541.7,2785.5L543.1,2795.2L544.5,2793.6L545.9,2786.2L547.3,2791.6L548.7,2830.7L550.1,2809.0L551.5,2786.8L552.9,2779.5L554.3,2782.0L555.7,2797.2L557.1,2800.8L558.5,2787.9L559.9,2786.9L561.3,2778.3L562.7,2773.9L564.1,2782.5L565.5,2765.3L566.9,2786.5L568.3,2772.4L569.7,2779.7L571.1,2759.5L572.5,2769.3L573.9,2776.8L575.3,2768.5L576.7,2788.0L578.1,2772.1L579.5,2776.5L580.9,2781.4L582.3,2770.1L583.7,2772.3L585.1,2736.1L586.5,2767.2L587.9,2768.1L589.3,2775.5L590.7,2768.3L592.1,2782.2L593.5,2765.4L594.9,2765.8L596.3,2771.3L597.7,2758.0L599.1,2768.5L600.5,2761.9L601.9,2767.0L603.3,2761.8L604.7,2756.2L606.1,2746.8L607.5,2753.7L608.9,2759.6L610.3,2755.5L611.7,2748.0L613.1,2750.8L614.5,2745.7L615.9,2749.4L617.3,2747.7L618.7,2774.3L620.1,2749.2L621.5,2751.1L622.9,2739.9L624.3,2742.6L625.7,2737.1L627.1,2740.4L628.5,2733.9L629.9,2729.8L631.3,2717.1L632.7,2721.8L634.1,2739.9L635.5,2728.6L636.9,2728.2L638.3,2728.2L639.7,2727.0L641.1,2718.6L642.5,2726.2L643.9,2738.4L645.3,2722.4L646.7,2719.3L648.1,2729.4L649.5,2721.0L650.9,2716.7L652.3,2715.2L653.7,2705.8L655.1,2698.2L656.5,2707.0L657.9,2708.0L659.3,2693.7L660.7,2738.3L662.1,2708.0L663.5,2698.7L664.9,2697.2L666.3,2691.9L667.7,2680.1L669.1,2698.5L670.5,2688.2L671.9,2679.6L673.3,2684.0L674.7,2693.5L676.1,2677.9L677.5,2674.7L678.9,2648.7L680.3,2682.6L681.7,2665.2L683.1,2674.4L684.5,2673.1L685.9,2672.9L687.3,2653.2L688.7,2666.7L690.1,2669.8L691.5,2653.7L692.9,2652.5L694.3,2670.5L695.7,2662.1L697.1,2643.8L698.5,2664.3L699.9,2643.3L701.3,2657.5L702.7,2655.6L704.1,2649.4L705.5,2666.8L706.9,2665.2L708.3,2655.3L709.7,2654.8L711.1,2652.3L712.5,2645.2L713.9,2642.3L715.3,2659.9L716.7,2668.9L718.1,2648.1L719.5,2648.6L720.9,2645.6L722.3,2637.5L723.7,2624.6L725.1,2663.8L726.5,2663.4L727.9,2631.7L729.3,2642.5L730.7,2628.6L732.1,2631.8L733.5,2627.3L734.9,2621.9L736.3,2627.4L737.7,2621.2L739.1,2632.1L740.5,2611.5L741.9,2628.6L743.3,2631.0L744.7,2625.4L746.1,2624.2L747.5,2619.6L748.9,2637.5L750.3,2623.5L751.7,2635.9L753.1,2629.0L754.5,2632.0L755.9,2611.9L757.3,2621.3L758.7,2631.7L760.1,2617.7L761.5,2616.9L762.9,2654.1L764.3,2580.7L765.7,2637.6L767.1,2630.2L768.5,2614.6L769.9,2632.6L771.3,2626.8L772.7,2629.8L774.1,2601.5L775.5,2623.8L776.9,2622.5L778.3,2631.4L779.7,2633.2L781.1,2633.6L782.5,2613.6L783.9,2641.8L785.3,2628.4L786.7,2647.1L788.1,2620.8L789.5,2634.0L790.9,2627.5L792.3,2604.9L793.7,2646.8L795.1,2624.0L796.5,2653.9L797.9,2648.6L799.3,2648.5L800.7,2655.1L802.1,2637.9L803.5,2649.2L804.9,2642.2L806.3,2677.6L807.7,2644.3L809.1,2656.6L810.5,2645.9L811.9,2657.4L813.3,2654.2L814.7,2661.9L816.1,2654.0L817.5,2637.8L818.9,2640.0L820.3,2651.3L821.7,2660.4L823.1,2653.0L824.5,2654.5L825.9,2670.1L827.3,2656.3L828.7,2689.0L830.1,2668.7L831.5,2652.3L832.9,2677.1L834.3,2671.0L835.7,2661.5L837.1,2671.0L838.5,2685.5L839.9,2662.5L841.3,2678.5L842.7,2677.3L844.1,2676.6L845.5,2673.3L846.9,2673.5L848.3,2631.5L849.7,2663.3L851.1,2708.2L852.5,2678.2L853.9,2677.3L855.3,2689.6L856.7,2675.8L858.1,2680.3L859.5,2680.7L860.9,2685.8L862.3,2698.4L863.7,2680.3L865.1,2674.4L866.5,2678.8L867.9,2701.4L869.3,2669.5L870.7,2689.8L872.1,2680.5L873.5,2697.9L874.9,2734.2L876.3,2676.9L877.7,2704.3L879.1,2698.3L880.5,2701.7L881.9,2692.6L883.3,2677.4L884.7,2686.3L886.1,2683.8L887.5,2700.6L888.9,2693.0L890.3,2707.6L891.7,2705.4L893.1,2670.1L894.5,2691.9L895.9,2701.8L897.3,2704.4L898.7,2692.2L900.1,2709.4L901.5,2720.6L902.9,2709.1L904.3,2711.5L905.7,2719.4L907.1,2717.4L908.5,2705.2L909.9,2735.5L911.3,2701.0L912.7,2708.0L914.1,2699.7L915.5,2703.2L916.9,2707.7L918.3,2700.1L919.7,2706.5L921.1,2690.4L922.5,2703.7L923.9,2699.6L925.3,2718.2L926.7,2711.2L928.1,2701.4L929.5,2707.0L930.9,2699.4L932.3,2709.7L933.7,2685.4L935.1,2697.2L936.5,2702.6L937.9,2688.8L939.3,2690.1L940.7,2688.8L942.1,2711.0L943.5,2690.9L944.9,2698.9L946.3,2728.4L947.7,2696.5L949.1,2707.2L950.5,2705.6L951.9,2697.3L953.3,2687.7L954.7,2693.4L956.1,2683.0L957.5,2712.0L958.9,2666.5L960.3,2706.3L961.7,2688.2L963.1,2690.4L964.5,2683.3L965.9,2696.1L967.3,2727.6L968.7,2687.1L970.1,2691.7L971.5,2677.6L972.9,2671.7L974.3,2670.4L975.7,2662.0L977.1,2683.5L978.5,2667.3L979.9,2673.4L981.3,2668.7L982.7,2659.9L984.1,2660.8L985.5,2666.2L986.9,2676.2L988.3,2651.9L989.7,2646.8L991.1,2642.5L992.5,2647.9L993.9,2627.3L995.3,2626.2L996.7,2686.3L998.1,2639.6L999.5,2646.3L1000.9,2637.1L1002.3,2635.7L1003.7,2616.2L1005.1,2616.9L1006.5,2629.7L1007.9,2630.4L1009.3,2608.2L1010.7,2622.5L1012.1,2628.4L1013.5,2615.4L1014.9,2615.1L1016.3,2595.8L1017.7,2619.3L1019.1,2625.9L1020.5,2604.4L1021.9,2603.1L1023.3,2607.6L1024.7,2601.1L1026.1,2603.8L1027.5,2585.8L1028.9,2606.8L1030.3,2610.3L1031.7,2550.5L1033.1,2536.7L1034.5,2584.1L1035.9,2576.0L1037.3,2568.2L1038.7,2561.6L1040.1,2529.3L1041.5,2570.3L1042.9,2553.6L1044.3,2576.6L1045.7,2550.0L1047.1,2540.9L1048.5,2538.5L1049.9,2525.8L1051.3,2549.7L1052.7,2541.1L1054.1,2528.0L1055.5,2534.8L1056.9,2542.3L1058.3,2532.3L1059.7,2522.2L1061.1,2520.7L1062.5,2504.5L1063.9,2514.6L1065.3,2504.5L1066.7,2493.3L1068.1,2494.0L1069.5,2493.6L1070.9,2491.3L1072.3,2476.7L1073.7,2490.1L1075.1,2478.8L1076.5,2460.9L1077.9,2460.3L1079.3,2461.6L1080.7,2470.1L1082.1,2453.2L1083.5,2455.1L1084.9,2441.9L1086.3,2444.3L1087.7,2452.0L1089.1,2445.0L1090.5,2433.0L1091.9,2436.9L1093.3,2428.6L1094.7,2429.6L1096.1,2417.3L1097.5,2416.6L1098.9,2461.3L1100.3,2417.8L1101.7,2385.1L1103.1,2392.1L1104.5,2373.5L1105.9,2387.2L1107.3,2383.5L1108.7,2367.5L1110.1,2364.3L1111.5,2361.8L1112.9,2381.3L1114.3,2344.3L1115.7,2357.2L1117.1,2325.1L1118.5,2338.5L1119.9,2337.9L1121.3,2336.7L1122.7,2341.0L1124.1,2338.5L1125.5,2335.3L1126.9,2323.5L1128.3,2317.2L1129.7,2309.6L1131.1,2349.0L1132.5,2315.2L1133.9,2310.8L1135.3,2305.8L1136.7,2308.2L1138.1,2263.4L1139.5,2305.1L1140.9,2289.9L1142.3,2298.9L1143.7,2309.3L1145.1,2295.4L1146.5,2294.4L1147.9,2297.4L1149.3,2301.3L1150.7,2278.5L1152.1,2299.1L1153.5,2283.7L1154.9,2285.8L1156.3,2297.6L1157.7,2290.4L1159.1,2269.5L1160.5,2326.6L1161.9,2276.6L1163.3,2279.8L1164.7,2277.2L1166.1,2267.4L1167.5,2306.5L1168.9,2270.6L1170.3,2281.3L1171.7,2250.7L1173.1,2283.8L1174.5,2272.9L1175.9,2294.6L1177.3,2273.7L1178.7,2297.8L1180.1,2289.6L1181.5,2279.2L1182.9,2314.4L1184.3,2280.7L1185.7,2289.0L1187.1,2292.2L1188.5,2285.3L1189.9,2321.6L1191.3,2302.1L1192.7,2318.9L1194.1,2330.6L1195.5,2320.4L1196.9,2355.8L1198.3,2334.4L1199.7,2361.8L1201.1,2367.2L1202.5,2349.5L1203.9,2380.2L1205.3,2374.4L1206.7,2377.2L1208.1,2390.2L1209.5,2400.1L1210.9,2393.4L1212.3,2405.1L1213.7,2348.4L1215.1,2393.3L1216.5,2412.2L1217.9,2416.7L1219.3,2395.8L1220.7,2423.3L1222.1,2422.0L1223.5,2424.4L1224.9,2460.0L1226.3,2440.0L1227.7,2481.3L1229.1,2409.6L1230.5,2453.4L1231.9,2466.4L1233.3,2501.1L1234.7,2490.5L1236.1,2517.7L1237.5,2503.0L1238.9,2507.6L1240.3,2503.2L1241.7,2502.6L1243.1,2513.7L1244.5,2538.5L1245.9,2534.4L1247.3,2534.8L1248.7,2574.9L1250.1,2545.1L1251.5,2563.8L1252.9,2569.5L1254.3,2560.6L1255.7,2567.1L1257.1,2584.1L1258.5,2591.9L1259.9,2587.9L1261.3,2597.2L1262.7,2606.5L1264.1,2605.0L1265.5,2609.7L1266.9,2616.0L1268.3,2616.3L1269.7,2626.8L1271.1,2613.4L1272.5,2643.8L1273.9,2613.1L1275.3,2637.5L1276.7,2658.7L1278.1,2660.8L1279.5,2663.7L1280.9,2665.7L1282.3,2637.9L1283.7,2687.4L1285.1,2686.5L1286.5,2678.9L1287.9,2691.1L1289.3,2685.5L1290.7,2711.1L1292.1,2696.4L1293.5,2710.5L1294.9,2748.6L1296.3,2706.6L1297.7,2716.9L1299.1,2726.1L1300.5,2709.3L1301.9,2754.3L1303.3,2731.5L1304.7,2731.5L1306.1,2747.4L1307.5,2730.5L1308.9,2728.6L1310.3,2742.6L1311.7,2736.4L1313.1,2716.6L1314.5,2757.3L1315.9,2748.3L1317.3,2758.7L1318.7,2760.2L1320.1,2760.6L1321.5,2739.0L1322.9,2761.7L1324.3,2768.4L1325.7,2762.7L1327.1,2768.7L1328.5,2754.0L1329.9,2778.4L1331.3,2768.9L1332.7,2780.2L1334.1,2786.4L1335.5,2782.6L1336.9,2818.8L1338.3,2785.7L1339.7,2782.8L1341.1,2779.2L1342.5,2791.9L1343.9,2804.4L1345.3,2791.1L1346.7,2802.8L1348.1,2795.1L1349.5,2793.7L1350.9,2787.8L1352.3,2793.9L1353.7,2778.6L1355.1,2798.1L1356.5,2806.2L1357.9,2833.4L1359.3,2810.2L1360.7,2801.9L1362.1,2804.5L1363.5,2809.9L1364.9,2806.4L1366.3,2805.6L1367.7,2803.0L1369.1,2805.6L1370.5,2817.6L1371.9,2818.6L1373.3,2805.3L1374.7,2817.0L1376.1,2811.8L1377.5,2812.5L1378.9,2815.8L1380.3,2822.4L1381.7,2813.0L1383.1,2825.2L1384.5,2821.4L1385.9,2808.6L1387.3,2816.8L1388.7,2818.6L1390.1,2814.9L1391.5,2827.6L1392.9,2822.4L1394.3,2809.8L1395.7,2830.3L1397.1,2827.6L1398.5,2823.9L1399.9,2834.6L1401.3,2820.5L1402.7,2834.9L1404.1,2835.0L1405.5,2848.0L1406.9,2832.0L1408.3,2830.3L1409.7,2843.2L1411.1,2836.6L1412.5,2836.6L1413.9,2831.2L1415.3,2831.7L1416.7,2848.3L1418.1,2831.3L1419.5,2844.1L1420.9,2842.1L1422.3,2861.0L1423.7,2845.2L1425.1,2850.4L1426.5,2835.3L1427.9,2881.2L1429.3,2845.6L1430.7,2860.5L1432.1,2844.5L1433.5,2849.9L1434.9,2844.3L1436.3,2844.1L1437.7,2862.5L1439.1,2847.7L1440.5,2877.9L1441.9,2841.7L1443.3,2865.0L1444.7,2845.3L1446.1,2848.3L1447.5,2852.4L1448.9,2864.8L1450.3,2860.4L1451.7,2849.4L1453.1,2853.9L1454.5,2847.1L1455.9,2857.2L1457.3,2850.7L1458.7,2853.6L1460.1,2860.3L1461.5,2847.2L1462.9,2831.3L1464.3,2864.3L1465.7,2860.5L1467.1,2860.8L1468.5,2863.9L1469.9,2851.5L1471.3,2893.4L1472.7,2847.9L1474.1,2865.7L1475.5,2875.9L1476.9,2866.9L1478.3,2863.1L1479.7,2873.3L1481.1,2873.8L1482.5,2861.9L1483.9,2867.3L1485.3,2867.5L1486.7,2876.6L1488.1,2869.9L1489.5,2876.4L1490.9,2861.0L1492.3,2864.5L1493.7,2865.3L1495.1,2904.8L1496.5,2865.4L1497.9,2878.3L1499.3,2888.4L1500.7,2875.5L1502.1,2882.4L1503.5,2868.0L1504.9,2875.4L1506.3,2890.6L1507.7,2874.8L1509.1,2880.7L1510.5,2870.8L1511.9,2870.8L1513.3,2879.0L1514.7,2872.9L1516.1,2871.7L1517.5,2878.7L1518.9,2879.5L1520.3,2870.4L1521.7,2886.5L1523.1,2870.8L1524.5,2885.8L1525.9,2879.3L1527.3,2860.7L1528.7,2863.2L1530.1,2882.5L1531.5,2875.8L1532.9,2871.4L1534.3,2891.8L1535.7,2881.6L1537.1,2884.5L1538.5,2876.9L1539.9,2882.2L1541.3,2878.6L1542.7,2871.9L1544.1,2879.5L1545.5,2881.5L1546.9,2882.9L1548.3,2876.3L1549.7,2889.9L1551.1,2880.1L1552.5,2886.2L1553.9,2898.7L1555.3,2884.5L1556.7,2895.9L1558.1,2882.4L1559.5,2881.1L1560.9,2889.6L1562.3,2885.6L1563.7,2881.0L1565.1,2876.7L1566.5,2895.9L1567.9,2893.8L1569.3,2898.3L1570.7,2902.0L1572.1,2878.1L1573.5,2892.2L1574.9,2904.6L1576.3,2897.6L1577.7,2890.7L1579.1,2897.4L1580.5,2876.9L1581.9,2900.4L1583.3,2895.9L1584.7,2898.4L1586.1,2898.6L1587.5,2890.3L1588.9,2896.3L1590.3,2903.6L1591.7,2878.2L1593.1,2896.1L1594.5,2902.0L1595.9,2891.1L1597.3,2886.3L1598.7,2908.1L1600.1,2889.4L1601.5,2890.3L1602.9,2890.1L1604.3,2898.3L1605.7,2894.0L1607.1,2871.0L1608.5,2898.8L1609.9,2900.2L1611.3,2901.3L1612.7,2893.0L1614.1,2887.1L1615.5,2901.4L1616.9,2908.0L1618.3,2897.9L1619.7,2895.3L1621.1,2897.4L1622.5,2904.2L1623.9,2913.7L1625.3,2893.1L1626.7,2897.5L1628.1,2894.3L1629.5,2906.7L1630.9,2904.3L1632.3,2917.6L1633.7,2906.4L1635.1,2895.8L1636.5,2913.4L1637.9,2903.2L1639.3,2918.1L1640.7,2902.4L1642.1,2909.8L1643.5,2903.5L1644.9,2905.5L1646.3,2919.0L1647.7,2912.7L1649.1,2935.3L1650.5,2911.5L1651.9,2913.3L1653.3,2912.7L1654.7,2900.0L1656.1,2900.5L1657.5,2896.3L1658.9,2909.4L1660.3,2915.9L1661.7,2915.9L1663.1,2906.9L1664.5,2899.4L1665.9,2921.6L1667.3,2920.7L1668.7,2907.4L1670.1,2924.1L1671.5,2902.6L1672.9,2908.3L1674.3,2906.8L1675.7,2912.4L1677.1,2902.9L1678.5,2917.9L1679.9,2915.4L1681.3,2903.1L1682.7,2913.6L1684.1,2915.9L1685.5,2903.6L1686.9,2918.8L1688.3,2923.8L1689.7,2927.4L1691.1,2911.9L1692.5,2916.1L1693.9,2923.1L1695.3,2912.2L1696.7,2942.4L1698.1,2918.8L1699.5,2914.8L1700.9,2905.4L1702.3,2927.5L1703.7,2921.7L1705.1,2914.0L1706.5,2912.1L1707.9,2910.8L1709.3,2906.2L1710.7,2907.4L1712.1,2914.9L1713.5,2915.2L1714.9,2909.7L1716.3,2913.1L1717.7,2916.1L1719.1,2915.6L1720.5,2918.1L1721.9,2916.4L1723.3,2915.3L1724.7,2918.8L1726.1,2915.6L1727.5,2923.0L1728.9,2909.3L1730.3,2911.1L1731.7,2920.7L1733.1,2927.7L1734.5,2917.4L1735.9,2922.1L1737.3,2919.4L1738.7,2918.9L1740.1,2928.5L1741.5,2918.4L1742.9,2921.9L1744.3,2924.6L1745.7,2920.0L1747.1,2920.7L1748.5,2930.3L1749.9,2915.3L1751.3,2912.9L1752.7,2916.5L1754.1,2909.3L1755.5,2926.0L1756.9,2923.5L1758.3,2921.1L1759.7,2920.0L1761.1,2923.8L1762.5,2913.8L1763.9,2911.0L1765.3,2917.7L1766.7,2935.1L1768.1,2914.9L1769.5,2937.6L1770.9,2920.6L1772.3,2917.3L1773.7,2925.6L1775.1,2945.8L1776.5,2920.8L1777.9,2913.6L1779.3,2911.9L1780.7,2921.9L1782.1,2899.2L1783.5,2911.2L1784.9,2929.5L1786.3,2920.3L1787.7,2921.2L1789.1,2919.5L1790.5,2922.3L1791.9,2920.2L1793.3,2906.1L1794.7,2927.6L1796.1,2919.1L1797.5,2922.3L1798.9,2935.4L1800.3,2926.6L1801.7,2926.7L1803.1,2920.8L1804.5,2899.8L1805.9,2926.1L1807.3,2927.7L1808.7,2924.2L1810.1,2920.4L1811.5,2926.1L1812.9,2919.5L1814.3,2907.4L1815.7,2915.7L1817.1,2917.0L1818.5,2917.3L1819.9,2923.8L1821.3,2927.1L1822.7,2914.3L1824.1,2911.4L1825.5,2933.1L1826.9,2909.1L1828.3,2899.3L1829.7,2908.0L1831.1,2915.3L1832.5,2909.3L1833.9,2913.0L1835.3,2931.9L1836.7,2916.2L1838.1,2910.7L1839.5,2913.4L1840.9,2921.4L1842.3,2917.3L1843.7,2908.7L1845.1,2917.3L1846.5,2915.8L1847.9,2921.1L1849.3,2907.2L1850.7,2921.9L1852.1,2916.7L1853.5,2913.7L1854.9,2906.5L1856.3,2918.3L1857.7,2906.1L1859.1,2913.1L1860.5,2922.2L1861.9,2910.4L1863.3,2917.5L1864.7,2926.3L1866.1,2922.6L1867.5,2914.8L1868.9,2905.0L1870.3,2897.0L1871.7,2894.2L1873.1,2913.0L1874.5,2923.3L1875.9,2910.7L1877.3,2908.9L1878.7,2916.0L1880.1,2907.2L1881.5,2903.3L1882.9,2907.6L1884.3,2915.3L1885.7,2909.6L1887.1,2899.3L1888.5,2899.0L1889.9,2895.7L1891.3,2897.3L1892.7,2912.8L1894.1,2911.4L1895.5,2889.2L1896.9,2892.6L1898.3,2888.5L1899.7,2895.7L1901.1,2880.7L1902.5,2899.0L1903.9,2877.5L1905.3,2890.3L1906.7,2886.6L1908.1,2886.3L1909.5,2878.0L1910.9,2893.7L1912.3,2887.4L1913.7,2887.8L1915.1,2889.8L1916.5,2888.8L1917.9,2889.7L1919.3,2853.8L1920.7,2890.9L1922.1,2885.2L1923.5,2881.5L1924.9,2894.3L1926.3,2873.7L1927.7,2876.0L1929.1,2878.9L1930.5,2873.5L1931.9,2890.8L1933.3,2883.9L1934.7,2878.7L1936.1,2883.4L1937.5,2879.7L1938.9,2890.6L1940.3,2879.3L1941.7,2879.6L1943.1,2871.6L1944.5,2886.5L1945.9,2875.5L1947.3,2874.4L1948.7,2865.8L1950.1,2866.7L1951.5,2875.5L1952.9,2872.6L1954.3,2863.8L1955.7,2873.3L1957.1,2857.6L1958.5,2840.0L1959.9,2871.4L1961.3,2866.5L1962.7,2864.4L1964.1,2858.3L1965.5,2870.1L1966.9,2863.0L1968.3,2872.1L1969.7,2870.6L1971.1,2855.2L1972.5,2875.9L1973.9,2868.4L1975.3,2863.1L1976.7,2850.5L1978.1,2859.0L1979.5,2864.4L1980.9,2876.6L1982.3,2867.8L1983.7,2865.8L1985.1,2862.0L1986.5,2845.1L1987.9,2869.2L1989.3,2855.6L1990.7,2857.5L1992.1,2861.0L1993.5,2878.9L1994.9,2849.6L1996.3,2868.9L1997.7,2842.2L1999.1,2853.1L2000.5,2847.9L2001.9,2852.3L2003.3,2843.4L2004.7,2859.5L2006.1,2853.3L2007.5,2852.2L2008.9,2866.7L2010.3,2859.2L2011.7,2860.3L2013.1,2864.3L2014.5,2856.1L2015.9,2858.2L2017.3,2869.5L2018.7,2848.8L2020.1,2832.5L2021.5,2857.3L2022.9,2854.8L2024.3,2858.8L2025.7,2823.4L2027.1,2849.5L2028.5,2856.4L2029.9,2861.5L2031.3,2855.0L2032.7,2850.4L2034.1,2834.0L2035.5,2858.2L2036.9,2828.5L2038.3,2861.9L2039.7,2857.1L2041.1,2852.9L2042.5,2854.3L2043.9,2858.3L2045.3,2844.2L2046.7,2862.0L2048.1,2854.5L2049.5,2871.1L2050.9,2848.3L2052.3,2858.2L2053.7,2843.1L2055.1,2864.6L2056.5,2863.4L2057.9,2845.7L2059.3,2833.3L2060.7,2862.2L2062.1,2845.4L2063.5,2867.6L2064.9,2852.3L2066.3,2854.3L2067.7,2863.3L2069.1,2860.0L2070.5,2853.5L2071.9,2852.2L2073.3,2860.8L2074.7,2857.2L2076.1,2843.6L2077.5,2857.3L2078.9,2842.4L2080.3,2873.5L2081.7,2868.3L2083.1,2865.3L2084.5,2856.2L2085.9,2869.2L2087.3,2870.3L2088.7,2881.7L2090.1,2864.4L2091.5,2870.4L2092.9,2868.6L2094.3,2850.0L2095.7,2857.7L2097.1,2863.6L2098.5,2867.7L2099.9,2866.8L2101.3,2862.3L2102.7,2862.9L2104.1,2878.3L2105.5,2860.8L2106.9,2861.7L2108.3,2879.8L2109.7,2859.6L2111.1,2863.4L2112.5,2860.4L2113.9,2873.3L2115.3,2861.1L2116.7,2868.8L2118.1,2867.9L2119.5,2865.5L2120.9,2852.7L2122.3,2865.9L2123.7,2861.6L2125.1,2871.3L2126.5,2861.9L2127.9,2859.3L2129.3,2872.6L2130.7,2866.6L2132.1,2875.7L2133.5,2864.0L2134.9,2885.7L2136.3,2862.2L2137.7,2864.7L2139.1,2864.8L2140.5,2864.1L2141.9,2874.2L2143.3,2864.0L2144.7,2863.2L2146.1,2871.7L2147.5,2844.5L2148.9,2872.6L2150.3,2871.6L2151.7,2873.3L2153.1,2883.1L2154.5,2882.8L2155.9,2857.3L2157.3,2860.3L2158.7,2868.2L2160.1,2860.1L2161.5,2869.7L2162.9,2839.7L2164.3,2853.6L2165.7,2865.7L2167.1,2868.0L2168.5,2863.0L2169.9,2833.7L2171.3,2882.7L2172.7,2866.4L2174.1,2864.0L2175.5,2868.0L2176.9,2860.9L2178.3,2865.3L2179.7,2857.0L2181.1,2853.4L2182.5,2877.6L2183.9,2861.6L2185.3,2861.3L2186.7,2874.9L2188.1,2868.6L2189.5,2864.3L2190.9,2867.4L2192.3,2861.0L2193.7,2867.6L2195.1,2856.5L2196.5,2868.2L2197.9,2858.1L2199.3,2850.8L2200.7,2857.4L2202.1,2889.1L2203.5,2871.5L2204.9,2869.0L2206.3,2871.0L2207.7,2865.4L2209.1,2862.0L2210.5,2864.2L2211.9,2861.4L2213.3,2858.8L2214.7,2872.7L2216.1,2863.1L2217.5,2859.8L2218.9,2861.9L2220.3,2860.5L2221.7,2853.6L2223.1,2848.7L2224.5,2842.6L2225.9,2895.3L2227.3,2860.0L2228.7,2872.8L2230.1,2866.0L2231.5,2859.0L2232.9,2867.8L2234.3,2862.2L2235.7,2865.1L2237.1,2860.1L2238.5,2864.0L2239.9,2865.2L2241.3,2860.1L2242.7,2846.4L2244.1,2854.3L2245.5,2867.1L2246.9,2858.6L2248.3,2854.0L2249.7,2862.4L2251.1,2835.1L2252.5,2864.7L2253.9,2865.3L2255.3,2860.1L2256.7,2862.9L2258.1,2865.0L2259.5,2861.3L2260.9,2854.1L2262.3,2862.9L2263.7,2861.9L2265.1,2863.2L2266.5,2865.8L2267.9,2866.6L2269.3,2854.8L2270.7,2848.2L2272.1,2858.1L2273.5,2863.8L2274.9,2865.4L2276.3,2860.4L2277.7,2868.0L2279.1,2853.6L2280.5,2851.5L2281.9,2862.2L2283.3,2857.8L2284.7,2856.5L2286.1,2851.2L2287.5,2852.5L2288.9,2872.6L2290.3,2850.8L2291.7,2849.2L2293.1,2859.3L2294.5,2855.3L2295.9,2851.2L2297.3,2858.9L2298.7,2860.8L2300.1,2859.4L2301.5,2838.2L2302.9,2852.0L2304.3,2859.5L2305.7,2860.9L2307.1,2848.3L2308.5,2854.2L2309.9,2850.1L2311.3,2851.0L2312.7,2834.4L2314.1,2854.5L2315.5,2840.0L2316.9,2852.3L2318.3,2853.8L2319.7,2850.0L2321.1,2834.8L2322.5,2863.0L2323.9,2848.7L2325.3,2851.4L2326.7,2840.1L2328.1,2859.5L2329.5,2854.2L2330.9,2846.3L2332.3,2833.7L2333.7,2855.4L2335.1,2852.2L2336.5,2843.4L2337.9,2836.7L2339.3,2845.8L2340.7,2847.0L2342.1,2841.0L2343.5,2849.0L2344.9,2847.4L2346.3,2843.1L2347.7,2841.6L2349.1,2827.0L2350.5,2862.4L2351.9,2830.0L2353.3,2846.9L2354.7,2845.3L2356.1,2824.2L2357.5,2835.8L2358.9,2823.0L2360.3,2833.6L2361.7,2834.6L2363.1,2825.2L2364.5,2834.5L2365.9,2835.9L2367.3,2832.9" stroke="#00ff00"/>
</g>
<g>
<rect x="332.0" y="98.0" width="42.6" height="8.8" fill="#b4b4b4"/>
<rect x="332.0" y="99.4" width="42.6" height="6.0" fill="#000"/>
<rect x="332.0" y="525.2" width="42.6" height="8.8" fill="#b4b4b4"/>
<rect x="332.0" y="526.6" width="42.6" height="6.0" fill="#000"/>
<rect x="332.0" y="952.4" width="42.6" height="8.8" fill="#b4b4b4"/>
<rect x="332.0" y="953.8" width="42.6" height="6.0" fill="#000"/>
<rect x="332.0" y="1379.8" width="42.6" height="8.8" fill="#b4b4b4"/>
<rect x="332.0" y="1381.2" width="42.6" height="6.0" fill="#000"/>
<rect x="374.6" y="1379.8" width="1377.4" height="8.8" fill="#b4b4b4"/>
<rect x="374.6" y="1381.2" width="1377.4" height="6.0" fill="#000"/>
<rect x="1789.0" y="1379.8" width="583.6" height="8.8" fill="#b4b4b4"/>
<rect x="1789.0" y="1381.2" width="583.6" height="6.0" fill="#000"/>
<rect x="370.4" y="49.0" width="8.4" height="1338.2" fill="#000"/>
<rect x="370.4" y="1384.2" width="8.4" height="41.3" fill="#000"/>
<rect x="829.5" y="1384.2" width="8.4" height="41.3" fill="#000"/>
<rect x="1288.8" y="1384.2" width="8.4" height="41.3" fill="#000"/>
<rect x="1784.8" y="1384.2" width="8.4" height="41.3" fill="#000"/>
<rect x="2073.8" y="1384.2" width="8.4" height="41.3" fill="#000"/>
<rect x="2364.2" y="1384.2" width="8.4" height="41.3" fill="#000"/>
<g stroke="#000" stroke-width="7.2" stroke-linecap="butt">
<line x1="1737" y1="1424.5" x2="1771.5" y2="1343"/>
<line x1="1773.5" y1="1424.5" x2="1808" y2="1343"/>
</g>
<rect x="332.0" y="1669.6" width="42.6" height="8.8" fill="#b4b4b4"/>
<rect x="332.0" y="1671.0" width="42.6" height="6.0" fill="#000"/>
<rect x="332.0" y="1965.6" width="42.6" height="8.8" fill="#b4b4b4"/>
<rect x="332.0" y="1967.0" width="42.6" height="6.0" fill="#000"/>
<rect x="332.0" y="2261.7" width="42.6" height="8.8" fill="#b4b4b4"/>
<rect x="332.0" y="2263.1" width="42.6" height="6.0" fill="#000"/>
<rect x="332.0" y="2557.7" width="42.6" height="8.8" fill="#b4b4b4"/>
<rect x="332.0" y="2559.1" width="42.6" height="6.0" fill="#000"/>
<rect x="332.0" y="2853.8" width="42.6" height="8.8" fill="#b4b4b4"/>
<rect x="332.0" y="2855.2" width="42.6" height="6.0" fill="#000"/>
<rect x="352.5" y="1817.6" width="22.1" height="8.8" fill="#b4b4b4"/>
<rect x="352.5" y="1819.0" width="22.1" height="6.0" fill="#000"/>
<rect x="352.5" y="2113.7" width="22.1" height="8.8" fill="#b4b4b4"/>
<rect x="352.5" y="2115.1" width="22.1" height="6.0" fill="#000"/>
<rect x="352.5" y="2409.7" width="22.1" height="8.8" fill="#b4b4b4"/>
<rect x="352.5" y="2411.1" width="22.1" height="6.0" fill="#000"/>
<rect x="352.5" y="2705.8" width="22.1" height="8.8" fill="#b4b4b4"/>
<rect x="352.5" y="2707.2" width="22.1" height="6.0" fill="#000"/>
<rect x="352.5" y="3001.8" width="2020.1" height="8.8" fill="#b4b4b4"/>
<rect x="352.5" y="3003.2" width="2020.1" height="6.0" fill="#000"/>
<rect x="370.4" y="1671.0" width="8.4" height="1338.2" fill="#000"/>
<rect x="370.4" y="3006.2" width="8.4" height="41.6" fill="#000"/>
<rect x="702.7" y="3006.2" width="8.4" height="41.6" fill="#000"/>
<rect x="1035.0" y="3006.2" width="8.4" height="41.6" fill="#000"/>
<rect x="1367.3" y="3006.2" width="8.4" height="41.6" fill="#000"/>
<rect x="1699.6" y="3006.2" width="8.4" height="41.6" fill="#000"/>
<rect x="2031.9" y="3006.2" width="8.4" height="41.6" fill="#000"/>
<rect x="2364.2" y="3006.2" width="8.4" height="41.6" fill="#000"/>
</g>
<rect x="638.7" y="998.5" width="9" height="59.5" fill="#9c9c9c"/>
<rect x="641.4" y="998.5" width="3.6" height="59.5" fill="#000"/>
<path d="M658.2,1056.0L643.2,1109.0L628.2,1056.0Z" fill="#000"/>
<rect x="876.7" y="490.0" width="9" height="221.0" fill="#9c9c9c"/>
<rect x="879.4" y="490.0" width="3.6" height="221.0" fill="#000"/>
<path d="M896.2,709.0L881.2,761.0L866.2,709.0Z" fill="#000"/>
<rect x="1275.0" y="1122.5" width="9" height="67.5" fill="#9c9c9c"/>
<rect x="1277.7" y="1122.5" width="3.6" height="67.5" fill="#000"/>
<path d="M1294.0,1188.0L1279.5,1240.0L1265.0,1188.0Z" fill="#000"/>
<rect x="1668.8" y="936.0" width="9" height="64.5" fill="#9c9c9c"/>
<rect x="1671.5" y="936.0" width="3.6" height="64.5" fill="#000"/>
<path d="M1687.8,938.0L1673.3,886.0L1658.8,938.0Z" fill="#000"/>
<rect x="2149.9" y="1197.5" width="9" height="44.5" fill="#9c9c9c"/>
<rect x="2152.6" y="1197.5" width="3.6" height="44.5" fill="#000"/>
<path d="M2168.9,1240.0L2154.4,1292.0L2139.9,1240.0Z" fill="#000"/>
<rect x="727.1" y="2693.0" width="9" height="98.0" fill="#9c9c9c"/>
<rect x="729.8" y="2693.0" width="3.6" height="98.0" fill="#000"/>
<path d="M745.9,2789.0L731.6,2842.0L717.3,2789.0Z" fill="#000"/>
<rect x="775.3" y="2693.0" width="9" height="172.0" fill="#9c9c9c"/>
<rect x="778.0" y="2693.0" width="3.6" height="172.0" fill="#000"/>
<path d="M794.1,2863.0L779.8,2915.0L765.5,2863.0Z" fill="#000"/>
<rect x="1158.9" y="2505.7" width="9" height="134.3" fill="#9c9c9c"/>
<rect x="1161.6" y="2505.7" width="3.6" height="134.3" fill="#000"/>
<path d="M1178.2,2507.7L1163.4,2454.7L1148.6,2507.7Z" fill="#000"/>
<rect x="2016.8" y="2635.6" width="9" height="41.5" fill="#9c9c9c"/>
<rect x="2019.5" y="2635.6" width="3.6" height="41.5" fill="#000"/>
<path d="M2035.8,2675.1L2021.3,2726.6L2006.8,2675.1Z" fill="#000"/>
<line x1="930.8" y1="2775" x2="930.8" y2="2940" stroke="#000" stroke-width="6.4" stroke-dasharray="6.6 4.6"/>
<path d="M930.8,2740.7L957.3,2793.2L930.8,2777.7L904.3,2793.2Z" fill="#000"/>
<path d="M930.8,2972.0L957.3,2919.5L930.8,2935.0L904.3,2919.5Z" fill="#000"/>
<rect x="1319" y="258.7" width="180.5999999999999" height="4" fill="#2a2aff"/>
<rect x="1319" y="357.0" width="180.5999999999999" height="4" fill="#ff2020"/>
<rect x="1319" y="455.0" width="180.5999999999999" height="4" fill="#555"/>
<rect x="1319" y="552.5" width="180.5999999999999" height="4" fill="#00dd00"/>
<rect x="1385.5" y="1874.0" width="130.0" height="4" fill="#2a2aff"/>
<rect x="1385.5" y="1993.0" width="130.0" height="4" fill="#ff5050"/>
<rect x="1385.5" y="2110.5" width="130.0" height="4" fill="#444"/>
<rect x="1385.5" y="2228.0" width="130.0" height="4" fill="#00dd00"/>
<g style="font-family:'Liberation Serif',serif;font-kerning:none" fill="#000" stroke="#fefefe" stroke-width="1.2" stroke-linejoin="round" filter="url(#bt)">
<text transform="translate(310.0,125.3) scale(1,1.065)" font-size="84" text-anchor="end">0.17</text>
<text transform="translate(310.0,552.5) scale(1,1.065)" font-size="84" text-anchor="end">0.11</text>
<text transform="translate(310.0,979.7) scale(1,1.065)" font-size="84" text-anchor="end">0.05</text>
<text transform="translate(310.0,1406.9) scale(1,1.065)" font-size="84" text-anchor="end">-0.01</text>
<g clip-path="url(#cl)">
<text transform="translate(374.5,1512.3) scale(1,1.065)" font-size="84" text-anchor="middle">750</text>
<text transform="translate(835.0,1512.3) scale(1,1.065)" font-size="84" text-anchor="middle">1000</text>
<text transform="translate(1294.5,1512.3) scale(1,1.065)" font-size="84" text-anchor="middle">1250</text>
<text transform="translate(1788.5,1512.3) scale(1,1.065)" font-size="84" text-anchor="middle">3000</text>
<text transform="translate(2078.0,1512.3) scale(1,1.065)" font-size="84" text-anchor="middle">3250</text>
<text transform="translate(2369.5,1512.3) scale(1,1.065)" font-size="84" text-anchor="middle">3500</text>
</g>
<text transform="translate(310.0,1697.4) scale(1,1.065)" font-size="84" text-anchor="end">5000</text>
<text transform="translate(310.0,1993.4) scale(1,1.065)" font-size="84" text-anchor="end">4000</text>
<text transform="translate(310.0,2289.5) scale(1,1.065)" font-size="84" text-anchor="end">3000</text>
<text transform="translate(310.0,2585.5) scale(1,1.065)" font-size="84" text-anchor="end">2000</text>
<text transform="translate(310.0,2881.6) scale(1,1.065)" font-size="84" text-anchor="end">1000</text>
<text transform="translate(375.5,3133.5) scale(1,1.065)" font-size="84" text-anchor="middle">10</text>
<text transform="translate(707.8,3133.5) scale(1,1.065)" font-size="84" text-anchor="middle">15</text>
<text transform="translate(1040.1,3133.5) scale(1,1.065)" font-size="84" text-anchor="middle">20</text>
<text transform="translate(1372.4,3133.5) scale(1,1.065)" font-size="84" text-anchor="middle">25</text>
<text transform="translate(1704.7,3133.5) scale(1,1.065)" font-size="84" text-anchor="middle">30</text>
<text transform="translate(2037.0,3133.5) scale(1,1.065)" font-size="84" text-anchor="middle">35</text>
<text transform="translate(2369.3,3133.5) scale(1,1.065)" font-size="84" text-anchor="middle">40</text>
<text transform="translate(960.0,1614.0) scale(1,1.005)" font-size="101" text-anchor="start">Wave number (cm</text>
<text transform="translate(1708.7,1564.5) scale(1,1)" font-size="60" text-anchor="start">-1</text>
<text transform="translate(1759.7,1614.0) scale(1,1.005)" font-size="101" text-anchor="start">)</text>
<text transform="translate(1321.7,3294.8) scale(1,1.01)" font-size="101" text-anchor="start">2θ</text>
<text transform="translate(110.5,1045.5) rotate(-90) scale(1,1.035)" font-size="101.5">Intensity (a.u.)</text>
<text transform="translate(106.5,2577) rotate(-90) scale(1,1.035)" font-size="101.5">Intensity (a.u.)</text>
<text transform="translate(400.8,232.0) scale(1,1.01)" font-size="102" text-anchor="start" font-weight="bold">(a)</text>
<text transform="translate(400.7,1803.0) scale(1,1.01)" font-size="102" text-anchor="start" font-weight="bold">(b)</text>
<text transform="translate(591.2,1202.8) scale(1,1.059)" font-size="82" text-anchor="start">895</text>
<text transform="translate(808.8,847.4) scale(1,1.059)" font-size="83.5" text-anchor="start">1030</text>
<text transform="translate(1143.0,1318.5) scale(1,1.067)" font-size="83.3" text-anchor="start">1240-1270</text>
<text transform="translate(1605.9,879.7) scale(1,1.07)" font-size="82.5" text-anchor="start">1506</text>
<text transform="translate(2096.2,1368.5) scale(1,1.047)" font-size="84.3" text-anchor="start">3300</text>
<text transform="translate(618.9,2906.2) scale(1,1.058)" font-size="83" text-anchor="start">101</text>
<text transform="translate(695.8,2982.9) scale(1,1.044)" font-size="83" text-anchor="start">101</text>
<text transform="translate(817.9,2948.6) scale(1,1)" font-size="57.4" text-anchor="start" stroke="none">−</text>
<text transform="translate(944.7,2889.8) scale(1,1.05)" font-size="82.6" text-anchor="start" letter-spacing="0.29">Amorphous</text>
<text transform="translate(1006.7,2991.5) scale(1,1.05)" font-size="82.6" text-anchor="start" letter-spacing="0.29">fraction</text>
<text transform="translate(1098.7,2752.1) scale(1,1.006)" font-size="91" text-anchor="start">002</text>
<text transform="translate(1967.3,2635.5) scale(1,1.043)" font-size="83.5" text-anchor="start">040</text>
<text transform="translate(1517.5,287.0) scale(1,1.045)" font-size="79.3" text-anchor="start">T3</text>
<text transform="translate(1517.5,385.3) scale(1,1.045)" font-size="79.3" text-anchor="start">T7</text>
<text transform="translate(1517.5,482.0) scale(1,1.045)" font-size="79.3" text-anchor="start">SCB 1000</text>
<text transform="translate(1517.5,580.5) scale(1,1.045)" font-size="79.3" text-anchor="start">SCB 420</text>
<text transform="translate(1533.2,1894.3) scale(1,1.085)" font-size="78.3" text-anchor="start">T3; I</text>
<text transform="translate(1684.9,1913.6) scale(1,1.05)" font-size="80" text-anchor="start">cr</text>
<text transform="translate(1744.2,1894.3) scale(1,1.085)" font-size="78.3" text-anchor="start">= 50%</text>
<text transform="translate(1533.2,2013.1) scale(1,1.085)" font-size="78.3" text-anchor="start">T7; I</text>
<text transform="translate(1684.9,2032.4) scale(1,1.05)" font-size="80" text-anchor="start">cr</text>
<text transform="translate(1744.2,2013.1) scale(1,1.085)" font-size="78.3" text-anchor="start">= 51%</text>
<text transform="translate(1529.0,2131.3) scale(1,1.085)" font-size="78.3" text-anchor="start">SCB 1000; I</text>
<text transform="translate(1919.0,2150.6) scale(1,1.05)" font-size="80" text-anchor="start">cr</text>
<text transform="translate(1978.4,2131.3) scale(1,1.085)" font-size="78.3" text-anchor="start">= 47%</text>
<text transform="translate(1528.9,2250.1) scale(1,1.085)" font-size="78.3" text-anchor="start">SCB 420; I</text>
<text transform="translate(1881.0,2269.4) scale(1,1.05)" font-size="80" text-anchor="start">cr</text>
<text transform="translate(1939.7,2250.1) scale(1,1.085)" font-size="78.3" text-anchor="start">= 48%</text>
</g>
<defs><clipPath id="cl"><rect x="0" y="0" width="2418" height="3338"/></clipPath><filter id="bl" filterUnits="userSpaceOnUse" x="0" y="0" width="2462" height="3338"><feGaussianBlur stdDeviation="0.8"/></filter><filter id="bt" filterUnits="userSpaceOnUse" x="0" y="0" width="2462" height="3338"><feGaussianBlur stdDeviation="0.5"/></filter></defs>
</svg>
</body></html>
